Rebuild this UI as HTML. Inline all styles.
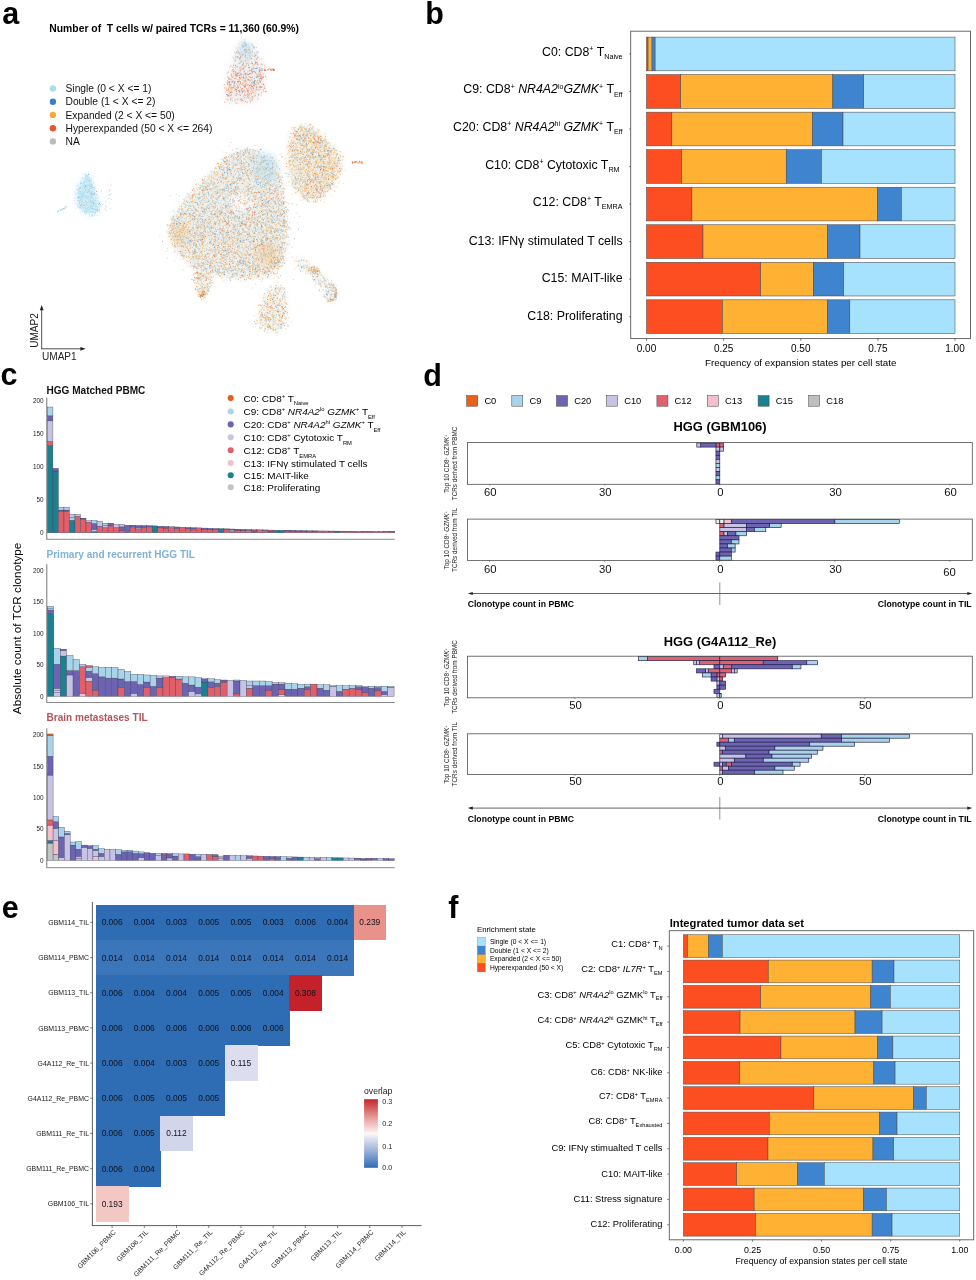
<!DOCTYPE html>
<html><head><meta charset="utf-8"><title>Figure</title>
<style>html,body{margin:0;padding:0;background:#fff}svg{display:block}text{font-family:"Liberation Sans",Arial,sans-serif}</style>
</head><body>
<svg width="976" height="1280" viewBox="0 0 976 1280">
<rect width="976" height="1280" fill="#fff"/>
<g>
<text x="2.20" y="23.50" font-size="30.50" font-weight="bold">a</text>
<text x="49.30" y="31.80" font-size="10.36" font-weight="bold" xml:space="preserve" style="white-space:pre">Number of  T cells w/ paired TCRs = 11,360 (60.9%)</text>
<circle cx="52.9" cy="88.5" r="3.2" fill="#A9DDF1"/>
<text x="65.50" y="92.20" font-size="10.28" fill="#111">Single (0 &lt; X &lt;= 1)</text>
<circle cx="52.9" cy="101.7" r="3.2" fill="#3B80C5"/>
<text x="65.50" y="105.42" font-size="10.28" fill="#111">Double (1 &lt; X &lt;= 2)</text>
<circle cx="52.9" cy="114.9" r="3.2" fill="#F5AA3C"/>
<text x="65.50" y="118.64" font-size="10.28" fill="#111">Expanded (2 &lt; X &lt;= 50)</text>
<circle cx="52.9" cy="128.2" r="3.2" fill="#E9522B"/>
<text x="65.50" y="131.86" font-size="10.28" fill="#111">Hyperexpanded (50 &lt; X &lt;= 264)</text>
<circle cx="52.9" cy="141.4" r="3.2" fill="#B9BDBD"/>
<text x="65.50" y="145.08" font-size="10.28" fill="#111">NA</text>
<line x1="41.70" y1="308.00" x2="41.70" y2="348.80" stroke="#222" stroke-width="0.8"/>
<line x1="41.30" y1="348.80" x2="82.00" y2="348.80" stroke="#222" stroke-width="0.8"/>
<path d="M41.7 305 l-1.9 5.2 h3.8z M85.6 348.8 l-5.2 -1.9 v3.8z" fill="#222"/>
<text x="42.00" y="359.80" font-size="10.07" fill="#222">UMAP1</text>
<text x="37.90" y="347.80" font-size="10.07" fill="#222" transform="rotate(-90 37.90 347.80)">UMAP2</text>
<defs><filter id="bl" x="-20%" y="-20%" width="140%" height="140%"><feGaussianBlur stdDeviation="3.2"/></filter></defs>
<g filter="url(#bl)"><polygon points="246.0,148.0 262.0,152.0 278.0,165.0 283.0,187.0 287.5,222.0 286.0,250.0 281.0,267.0 268.0,276.0 240.0,279.0 217.0,276.0 194.0,269.0 176.0,250.0 168.5,233.0 172.0,217.0 186.0,199.0 208.0,175.0 230.0,154.0" fill="#D8D4C6" opacity="0.36"/><polygon points="305.6,125.0 321.0,135.0 333.5,147.0 341.5,158.5 340.0,172.0 333.5,186.0 321.0,198.5 305.6,200.0 293.0,188.5 286.5,162.0 289.5,141.0 294.0,128.5" fill="#E3D2B4" opacity="0.38"/><polygon points="243.7,40.0 250.0,43.0 256.0,48.0 258.0,56.0 264.0,67.0 266.0,79.0 264.0,94.0 252.0,103.0 229.0,103.0 224.0,95.0 227.0,82.0 230.0,72.0 234.0,55.0 238.0,46.0" fill="#E0C8C4" opacity="0.3"/><polygon points="88.5,174.0 92.0,180.0 96.0,195.0 100.0,207.0 97.0,213.0 90.0,215.5 83.0,212.0 77.0,203.0 76.0,192.0 80.0,183.0 85.0,176.0" fill="#BFE3F2" opacity="0.55"/><polygon points="194.0,270.0 212.0,274.0 212.0,284.0 208.0,293.0 203.0,299.0 198.0,294.0 195.0,284.0" fill="#E3D2B4" opacity="0.28"/><polygon points="277.0,284.0 285.0,290.0 287.0,310.0 286.0,325.0 276.0,333.0 262.0,330.0 256.0,320.0 260.0,305.0 270.0,290.0" fill="#E3D2B4" opacity="0.25"/><polygon points="294.0,258.0 303.0,259.0 316.0,267.0 322.0,274.0 333.0,282.0 338.0,290.0 337.0,299.0 330.0,303.0 324.0,297.0 318.0,285.0 308.0,275.0 297.0,266.0" fill="#DAD6CC" opacity="0.22"/><ellipse cx="245" cy="50" rx="8" ry="8" fill="#BFE0F0" opacity="0.55"/><ellipse cx="266" cy="168" rx="12" ry="16" fill="#BFE0F0" opacity="0.55"/><ellipse cx="241" cy="203" rx="10" ry="9" fill="#fff" opacity="0.7"/><ellipse cx="268" cy="254" rx="12" ry="12" fill="#F2C78C" opacity="0.4"/><ellipse cx="180" cy="235" rx="9" ry="14" fill="#F2C78C" opacity="0.35"/></g>
<path d="M177.9 227.8h0M197.2 210.5h0M263.7 211.1h0M227.3 212.2h0M219.5 179.6h0M277.6 268.2h0M225.4 208.1h0M252.1 187.8h0M245.1 202.8h0M190.0 214.5h0M192.9 242.9h0M264.7 195.3h0M217.2 265.9h0M202.6 265.5h0M203.2 216.5h0M219.2 196.6h0M190.2 199.8h0M240.9 234.4h0M259.2 264.5h0M210.9 181.2h0M193.9 257.4h0M270.2 187.4h0M201.4 239.9h0M194.2 235.9h0M231.8 238.4h0M214.7 233.1h0M239.7 206.8h0M237.5 157.6h0M211.5 197.9h0M210.9 217.6h0M226.1 205.3h0M234.1 237.6h0M281.6 253.7h0M267.1 209.8h0M198.9 260.1h0M210.0 243.3h0M234.5 241.3h0M250.0 231.0h0M207.7 227.3h0M196.9 258.0h0M217.4 174.2h0M247.9 170.5h0M270.8 227.2h0M273.0 206.2h0M233.2 227.8h0M219.3 225.0h0M268.7 170.4h0M211.0 226.7h0M261.7 193.8h0M232.9 167.8h0M239.4 240.6h0M209.9 208.5h0M257.1 255.5h0M233.1 163.1h0M248.5 175.7h0M236.0 247.3h0M249.7 219.7h0M243.9 230.6h0M259.8 234.6h0M226.1 238.9h0M229.6 154.7h0M270.2 219.3h0M217.2 253.6h0M211.4 211.6h0M178.7 212.2h0M270.8 211.1h0M275.7 188.8h0M183.0 221.4h0M218.9 265.7h0M214.1 255.9h0M249.9 173.8h0M224.6 199.0h0M254.0 228.1h0M265.5 272.1h0M232.9 245.6h0M271.8 262.3h0M189.6 214.7h0M271.0 259.6h0M274.5 191.9h0M258.0 205.6h0M249.0 152.0h0M213.9 260.9h0M228.4 218.9h0M192.5 233.7h0M287.0 237.0h0M193.0 213.4h0M264.6 199.8h0M224.7 272.0h0M226.0 156.6h0M277.2 178.8h0M205.2 232.6h0M261.2 206.3h0M214.2 266.4h0M269.3 205.8h0M224.4 157.9h0M262.8 222.9h0M255.8 272.0h0M207.3 226.4h0M218.8 253.4h0M279.8 247.9h0M203.1 183.6h0M254.7 236.3h0M185.8 230.2h0M215.6 238.0h0M268.5 243.8h0M217.1 175.5h0M253.7 168.8h0M239.9 168.8h0M248.2 257.8h0M206.2 208.1h0M262.3 271.7h0M281.9 209.8h0M244.0 205.3h0M283.4 188.3h0M215.3 204.6h0M227.8 197.9h0M203.6 225.6h0M235.3 269.4h0M227.6 241.2h0M196.9 259.8h0M201.9 242.0h0M261.0 162.5h0M216.5 262.5h0M262.4 205.9h0M246.4 246.8h0M232.2 276.0h0M230.9 250.0h0M180.4 214.5h0M237.4 169.0h0M254.8 192.4h0M265.9 237.5h0M214.0 194.2h0M192.9 201.7h0M226.7 194.7h0M239.9 233.8h0M249.1 222.2h0M265.7 240.2h0M247.2 247.9h0M176.9 223.6h0M225.4 215.3h0M249.8 271.7h0M214.2 203.3h0M229.0 244.7h0M235.1 226.2h0M212.8 189.0h0M264.4 252.6h0M262.4 186.9h0M173.6 217.7h0M239.8 197.0h0M276.5 224.5h0M256.2 187.5h0M245.4 224.9h0M182.1 210.0h0M228.6 188.6h0M274.1 202.3h0M271.5 267.2h0M262.7 158.2h0M214.1 174.2h0M233.2 256.9h0M281.4 201.9h0M214.8 266.5h0M196.5 215.0h0M254.8 152.0h0M287.4 244.1h0M214.7 252.2h0M272.1 271.3h0M209.5 224.4h0M273.6 211.4h0M228.1 203.9h0M183.3 237.1h0M230.4 185.6h0M189.7 244.3h0M242.7 241.2h0M196.9 225.6h0M183.7 226.3h0M227.7 253.8h0M259.4 192.1h0M174.5 251.7h0M233.3 224.9h0M261.4 226.5h0M283.9 202.9h0M238.8 211.1h0M243.3 230.2h0M192.1 247.7h0M270.1 238.3h0M272.5 186.5h0M223.4 160.6h0M182.0 217.2h0M248.0 247.8h0M200.1 227.5h0M190.8 259.4h0M271.5 173.1h0M225.5 254.9h0M270.9 273.3h0M267.5 246.6h0M224.3 198.2h0M227.8 243.9h0M235.8 258.3h0M227.2 230.4h0M203.0 191.8h0M205.2 231.4h0M169.7 236.6h0M202.1 253.8h0M228.0 253.1h0M235.8 174.2h0M190.7 208.4h0M256.3 260.8h0M183.1 258.8h0M172.0 228.7h0M247.7 237.2h0M267.0 164.5h0M264.4 204.7h0M273.9 194.0h0M221.5 182.1h0M232.0 268.5h0M189.6 240.5h0M268.1 218.2h0M207.9 206.1h0M268.9 188.3h0M278.7 259.3h0M224.9 167.8h0M181.7 241.3h0M240.4 158.2h0M238.4 176.0h0M228.2 248.0h0M242.3 257.2h0M182.1 243.0h0M182.1 231.9h0M206.4 223.0h0M244.1 240.6h0M256.5 246.4h0M278.5 209.3h0M240.4 165.3h0M248.2 176.9h0M211.8 263.0h0M280.5 238.8h0M211.2 213.2h0M213.6 233.8h0M224.9 255.3h0M271.2 199.0h0M261.5 225.0h0M260.2 221.3h0M262.9 242.4h0M271.3 266.8h0M273.9 211.0h0M214.9 239.4h0M277.5 246.7h0M223.3 255.2h0M243.9 158.6h0M177.6 211.6h0M205.4 255.5h0M228.7 186.9h0M247.7 253.5h0M206.6 272.0h0M270.8 236.6h0M177.6 226.5h0M174.6 220.9h0M266.7 234.9h0M245.0 204.0h0M231.8 252.8h0M228.2 228.0h0M244.1 274.7h0M177.1 220.1h0M226.2 190.6h0M240.7 242.4h0M254.9 212.2h0M220.2 166.3h0M237.4 233.5h0M249.0 265.7h0M229.7 207.8h0M271.9 185.4h0M195.5 202.5h0M201.9 244.2h0M217.9 249.6h0M178.0 246.3h0M271.8 214.2h0M283.8 203.8h0M277.1 238.1h0M205.1 209.2h0M245.4 261.3h0M223.6 204.7h0M257.0 208.6h0M232.2 229.6h0M218.8 197.9h0M213.7 178.3h0M208.7 262.5h0M272.3 246.6h0M193.9 236.7h0M210.8 180.0h0M267.4 218.2h0M235.9 224.8h0M233.3 218.5h0M280.0 204.7h0M272.9 165.3h0M192.8 263.2h0M226.2 260.8h0M237.2 264.1h0M227.5 244.3h0M180.9 252.3h0M280.5 233.0h0M227.3 169.2h0M258.5 232.6h0M245.8 232.1h0M237.8 177.7h0M204.1 200.7h0M243.5 276.8h0M218.7 177.4h0M257.3 204.9h0M231.1 215.0h0M283.2 237.6h0M241.6 163.1h0M221.2 164.2h0M213.2 272.2h0M243.4 229.2h0M247.0 233.7h0M261.6 164.0h0M208.2 217.6h0M252.8 155.0h0M230.4 203.2h0M206.7 206.4h0M255.6 250.0h0M280.0 205.5h0M191.2 235.0h0M225.9 269.8h0M207.6 186.4h0M261.8 227.1h0M239.8 175.1h0M267.6 219.0h0M213.2 219.3h0M262.4 185.0h0M202.1 259.5h0M220.9 182.8h0M213.0 232.6h0M281.1 209.8h0M239.0 178.6h0M268.5 201.1h0M235.9 239.0h0M183.4 225.3h0M231.2 252.1h0M241.5 169.6h0M189.4 257.7h0M178.3 235.6h0M204.1 220.5h0M188.0 237.2h0M242.6 169.4h0M201.2 225.0h0M226.6 157.3h0M249.0 194.6h0M242.1 254.3h0M223.7 197.8h0M274.7 191.1h0M223.3 234.0h0M207.5 207.7h0M279.1 249.8h0M211.5 171.8h0M218.8 217.2h0M275.6 229.7h0M195.8 245.4h0M244.1 169.4h0M236.3 243.3h0M221.2 210.3h0M277.1 177.3h0M223.1 169.8h0M243.9 250.2h0M255.9 228.8h0M252.6 272.8h0M282.5 245.7h0M264.1 196.1h0M235.6 266.7h0M284.6 216.1h0M180.8 217.6h0M232.0 168.1h0M229.7 222.1h0M205.1 209.3h0M189.1 196.7h0M209.0 226.5h0M265.6 160.1h0M205.4 231.6h0M276.9 237.4h0M191.6 235.9h0M262.4 218.0h0M203.2 269.2h0M194.4 254.4h0M217.4 218.1h0M222.2 169.5h0M248.0 176.5h0M258.9 270.1h0M204.7 211.5h0M207.1 249.3h0M254.1 236.2h0M266.5 220.9h0M258.4 153.1h0M272.1 222.7h0M239.3 174.1h0M200.9 187.4h0M245.0 163.9h0M170.8 235.8h0M235.4 165.5h0M187.3 248.5h0M206.6 194.2h0M271.6 260.6h0M280.2 262.7h0M270.2 268.2h0M260.6 164.6h0M225.5 203.6h0M202.3 263.4h0M270.8 215.0h0M270.9 211.1h0M278.8 177.5h0M225.5 235.1h0M222.5 221.6h0M205.7 212.8h0M222.3 234.8h0M278.2 178.6h0M193.8 256.6h0M281.8 198.1h0M234.2 238.6h0M254.4 225.7h0M226.8 197.4h0M178.0 221.7h0M237.2 194.8h0M189.9 208.5h0M260.7 206.4h0M275.3 172.5h0M202.6 185.9h0M233.2 158.9h0M213.8 196.4h0M236.8 218.0h0M209.7 228.7h0M279.8 220.3h0M211.5 190.9h0M237.8 254.5h0M198.5 241.6h0M219.8 227.5h0M181.4 209.3h0M238.2 279.1h0M225.4 242.7h0M221.0 256.7h0M203.8 265.9h0M203.5 259.4h0M196.9 222.6h0M275.9 266.3h0M274.8 265.2h0M215.4 254.5h0M267.3 230.6h0M271.5 265.9h0M219.4 221.3h0M180.2 245.7h0M221.4 234.1h0M242.0 268.3h0M282.1 237.1h0M212.2 269.0h0M267.1 224.4h0M170.3 226.8h0M224.1 251.9h0M209.3 189.0h0M266.1 272.1h0M228.3 240.3h0M208.3 223.6h0M270.1 226.5h0M262.3 178.6h0M215.1 265.6h0M220.2 219.8h0M249.9 225.2h0M278.4 262.8h0M233.4 212.2h0M238.6 171.6h0M209.5 229.4h0M227.4 184.1h0M229.7 249.1h0M268.0 269.4h0M243.7 272.5h0M259.2 188.8h0M182.7 224.8h0M233.6 163.4h0M233.5 273.7h0M260.1 185.3h0M208.4 186.5h0M277.8 186.5h0M219.8 221.1h0M187.9 231.2h0M264.2 233.2h0M189.1 210.8h0M203.6 237.1h0M230.4 173.0h0M212.5 214.3h0M276.7 220.5h0M252.2 278.1h0M255.1 273.2h0M191.9 265.7h0M229.8 206.7h0M188.8 221.5h0M261.2 200.3h0M221.7 254.1h0M234.7 266.9h0M238.2 200.7h0M244.5 242.5h0M215.8 236.4h0M283.5 248.5h0M273.0 184.3h0M254.2 251.6h0M280.4 212.2h0M182.9 253.6h0M180.4 237.8h0M267.0 210.0h0M190.7 224.2h0M184.1 253.1h0M208.6 208.6h0M271.3 248.7h0M242.6 265.6h0M203.3 263.6h0M243.4 242.5h0M195.5 251.1h0M205.9 220.8h0M203.8 234.9h0M259.0 210.2h0M270.7 189.6h0M248.9 164.3h0M174.5 219.8h0M199.9 239.3h0M239.2 164.1h0M219.7 228.8h0M271.0 189.9h0M220.1 202.9h0M200.0 226.6h0M257.6 239.6h0M236.3 192.9h0M261.8 162.4h0M210.8 198.4h0M234.5 220.1h0M237.6 216.6h0M211.6 229.1h0M262.0 194.3h0M261.7 261.4h0M259.4 164.3h0M249.3 234.0h0M286.5 212.1h0M265.6 178.5h0M259.1 249.2h0M209.7 210.2h0M213.0 200.6h0M262.9 222.4h0M241.8 190.0h0M216.3 202.2h0M226.4 233.5h0M203.5 195.1h0M234.5 217.4h0M245.0 276.6h0M278.7 187.6h0M214.7 172.4h0M287.7 234.8h0M276.4 235.1h0M267.1 232.1h0M240.2 154.1h0M258.6 265.8h0M229.8 261.6h0M235.0 237.6h0M252.3 211.4h0M267.9 245.9h0M188.0 201.5h0M193.2 219.7h0M271.4 259.2h0M255.6 218.4h0M254.9 207.1h0M259.5 233.0h0M252.9 240.6h0M267.3 164.6h0M258.8 252.3h0M220.9 275.6h0M276.6 187.4h0M263.2 207.4h0M258.4 203.1h0M194.0 229.1h0M199.5 244.1h0M223.7 221.9h0M241.9 183.7h0M230.9 231.7h0M193.3 253.2h0M283.5 192.9h0M248.8 166.1h0M224.0 258.3h0M256.9 192.9h0M201.0 253.0h0M245.7 224.9h0M193.5 222.9h0M283.5 222.8h0M227.0 224.3h0M213.2 171.6h0M249.2 188.3h0M185.6 213.6h0M220.5 195.7h0M174.7 241.4h0M223.9 198.1h0M237.0 154.4h0M215.3 213.5h0M260.8 199.4h0M248.0 190.2h0M257.8 271.0h0M254.7 216.1h0M204.0 194.5h0M229.8 237.6h0M204.0 180.2h0M221.9 212.0h0M225.2 225.1h0M286.8 223.1h0M227.8 209.2h0M281.2 256.3h0M210.5 265.3h0M275.5 243.0h0M262.4 231.1h0M263.4 232.3h0M257.0 271.9h0M257.1 167.9h0M222.4 228.1h0M176.4 230.0h0M276.9 166.1h0M261.1 226.3h0M267.6 207.6h0M199.4 220.0h0M255.6 179.4h0M230.1 184.8h0M214.6 241.6h0M202.5 248.4h0M220.2 222.9h0M271.8 219.9h0M245.3 191.1h0M230.9 206.3h0M235.0 164.0h0M278.8 206.7h0M211.6 240.8h0M233.3 266.3h0M204.9 190.1h0M228.6 251.2h0M237.4 253.1h0M216.8 193.4h0M255.4 220.3h0M202.2 263.1h0M253.0 267.1h0M187.7 193.5h0M238.4 155.2h0M229.8 248.6h0M256.4 259.3h0M221.9 211.2h0M271.4 211.8h0M230.4 267.5h0M172.3 229.3h0M284.1 201.4h0M245.9 156.7h0M184.6 213.4h0M222.9 208.2h0M283.8 225.9h0M234.0 155.1h0M233.7 179.1h0M210.6 263.8h0M252.9 256.5h0M192.5 250.6h0M206.9 254.5h0M262.7 240.5h0M248.3 154.1h0M192.4 257.3h0M249.1 188.6h0M254.0 157.8h0M250.4 209.1h0M276.5 203.9h0M262.6 259.9h0M259.7 244.5h0M226.1 237.7h0M224.1 174.9h0M250.1 173.5h0M192.6 251.1h0M249.3 205.8h0M271.3 193.2h0M204.5 238.3h0M261.6 225.8h0M212.8 260.3h0M247.6 170.9h0M269.7 190.9h0M194.2 218.9h0M203.6 214.2h0M236.9 171.8h0M245.3 238.6h0M253.4 155.9h0M245.8 263.5h0M247.5 213.8h0M249.0 189.1h0M194.8 213.3h0M258.6 245.4h0M242.4 232.2h0M201.2 256.2h0M270.4 171.9h0M218.7 266.2h0M235.6 252.4h0M283.4 259.2h0M267.5 215.0h0M245.0 247.7h0M221.6 231.8h0M202.8 207.5h0M178.1 236.6h0M274.5 180.6h0M281.6 197.7h0M265.7 189.5h0M272.4 243.4h0M238.4 268.0h0M200.8 218.8h0M191.7 201.6h0M277.7 265.3h0M240.4 153.2h0M278.7 202.0h0M253.0 223.7h0M183.4 230.5h0M195.6 250.1h0M239.7 180.5h0M192.9 254.2h0M199.3 197.6h0M215.4 228.7h0M254.8 156.2h0M194.8 266.9h0M219.6 189.2h0M229.7 264.4h0M249.1 164.7h0M200.5 235.5h0M248.2 277.5h0M257.4 241.2h0M221.5 213.9h0M250.3 181.0h0M204.1 181.9h0M238.8 220.7h0M241.6 235.2h0M276.0 195.3h0M242.2 247.5h0M219.0 250.8h0M224.9 172.5h0M252.3 236.5h0M170.3 225.2h0M218.2 239.8h0M248.5 212.2h0M221.4 253.3h0M224.3 267.6h0M263.0 237.7h0M204.1 228.9h0M220.7 165.0h0M234.3 258.0h0M219.2 192.3h0M272.5 168.7h0M245.4 236.7h0M281.3 194.5h0M254.9 274.2h0M175.1 246.7h0M260.1 192.2h0M261.8 243.7h0M251.0 161.0h0M174.2 221.9h0M195.5 245.9h0M184.7 199.9h0M228.3 219.6h0M212.7 244.8h0M214.9 234.5h0M202.6 211.6h0M254.3 218.4h0M250.3 207.8h0M198.7 225.5h0M187.7 210.4h0M227.7 271.2h0M254.0 221.5h0M283.4 211.3h0M245.6 195.8h0M266.0 254.5h0M205.1 186.5h0M280.8 205.4h0M200.0 225.0h0M259.4 169.0h0M214.9 247.8h0M191.2 201.8h0M245.5 274.0h0M199.8 245.4h0M182.4 213.7h0M241.2 168.0h0M256.3 259.7h0M224.9 205.1h0M222.7 272.4h0M249.9 262.8h0M201.8 235.7h0M185.5 231.7h0M262.3 173.7h0M222.6 207.6h0M226.7 256.6h0M181.3 246.2h0M233.3 277.1h0M233.8 270.3h0M257.2 225.9h0M224.8 242.0h0M202.4 224.1h0M240.6 177.2h0M230.2 218.4h0M235.5 165.4h0M199.7 198.9h0M234.4 217.1h0M256.0 181.8h0M183.7 226.8h0M245.4 259.9h0M264.0 209.8h0M181.6 213.9h0M279.4 253.3h0M194.7 262.0h0M219.2 210.4h0M210.0 268.6h0M195.5 253.4h0M216.7 256.0h0M204.6 230.1h0M238.7 152.8h0M210.7 243.1h0M211.9 211.5h0M193.2 259.9h0M200.3 245.8h0M220.9 180.7h0M284.6 188.4h0M246.2 245.8h0M267.4 247.2h0M187.8 249.4h0M192.8 194.9h0M248.0 175.5h0M224.0 198.3h0M239.5 255.5h0M268.6 218.1h0M252.8 264.3h0M268.7 253.7h0M218.0 243.2h0M228.4 163.8h0M275.7 204.3h0M223.6 217.4h0M211.7 211.6h0M267.3 250.3h0M239.7 224.0h0M229.4 268.5h0M256.3 267.6h0M221.2 209.9h0M278.9 177.6h0M275.3 273.9h0M243.6 217.4h0M256.5 172.4h0M172.2 234.8h0M252.1 236.7h0M276.0 238.7h0M281.2 180.8h0M190.2 261.1h0M216.0 271.5h0M274.9 180.6h0M255.4 269.2h0M196.2 224.2h0M194.9 259.0h0M234.7 219.1h0M209.8 200.8h0M265.7 225.2h0M224.9 218.0h0M218.8 261.9h0M253.5 166.7h0M237.8 238.3h0M270.4 232.1h0M194.6 250.5h0M181.7 214.3h0M219.6 221.9h0M264.7 160.4h0M195.3 263.6h0M171.2 239.4h0M224.8 269.9h0M275.9 218.3h0M196.9 233.2h0M199.7 234.7h0M255.7 255.3h0M232.3 161.0h0M255.0 196.0h0M260.7 182.7h0M268.3 249.2h0M218.4 269.8h0M277.3 194.2h0M278.4 232.5h0M239.2 178.3h0M229.9 236.3h0M283.5 197.9h0M198.1 219.2h0M226.4 227.2h0M228.0 195.1h0M250.8 243.6h0M274.1 212.2h0M250.5 226.5h0M222.8 196.5h0M227.4 250.1h0M220.1 177.5h0M223.0 212.8h0M236.6 181.2h0M248.4 259.7h0M223.7 255.8h0M259.0 202.1h0M196.1 251.9h0M249.8 157.5h0M253.3 186.3h0M264.1 195.6h0M261.7 257.5h0M230.8 241.8h0M282.4 247.5h0M238.1 231.0h0M208.0 207.9h0M194.4 249.3h0M210.1 253.7h0M217.6 189.7h0M244.9 194.2h0M230.5 270.1h0M253.1 177.2h0M226.5 250.9h0M265.9 254.8h0M263.2 178.1h0M255.1 261.3h0M257.6 263.0h0M262.9 248.8h0M210.3 222.4h0M225.0 246.5h0M233.7 252.5h0M258.6 249.4h0M176.5 221.6h0M242.6 203.5h0M211.5 177.1h0M202.7 192.5h0M212.1 216.3h0M240.1 257.0h0M267.6 215.0h0M256.5 180.2h0M233.0 248.2h0M282.1 255.1h0M246.6 172.5h0M218.2 172.1h0M262.7 210.1h0M221.1 214.9h0M194.1 188.4h0M218.6 252.4h0M223.3 190.9h0M235.7 192.7h0M288.4 237.3h0M244.1 239.7h0M190.0 248.1h0M266.0 203.8h0M207.8 211.9h0M233.4 225.1h0M284.3 235.6h0M234.7 275.8h0M210.0 268.6h0M246.3 266.3h0M177.3 237.9h0M188.5 227.5h0M255.4 274.3h0M213.9 254.8h0M227.0 172.6h0M209.3 244.1h0M177.6 241.3h0M245.2 269.5h0M197.8 241.5h0M237.1 253.0h0M241.1 225.3h0M248.6 210.3h0M204.7 251.4h0M258.6 151.7h0M207.7 202.6h0M178.2 227.3h0M237.4 198.4h0M199.0 256.1h0M173.4 236.2h0M258.0 174.9h0M199.7 201.3h0M276.0 220.6h0M257.1 203.8h0M220.2 259.5h0M228.0 174.1h0M236.7 221.7h0M222.3 249.5h0M201.3 236.9h0M225.8 177.9h0M204.9 208.7h0M237.1 193.7h0M181.2 246.3h0M241.9 277.3h0M221.6 259.4h0M243.1 248.9h0M223.9 260.9h0M275.3 178.6h0M244.3 203.9h0M261.7 203.1h0M278.7 207.7h0M178.4 225.7h0M224.9 250.5h0M222.1 255.8h0M201.6 233.1h0M267.0 277.8h0M229.0 176.2h0M282.4 242.5h0M232.2 179.4h0M254.5 239.7h0M266.5 212.8h0M231.9 217.3h0M217.6 247.3h0M191.8 215.0h0M203.4 190.8h0M200.2 233.0h0M251.8 209.0h0M212.5 272.1h0M214.3 241.5h0M245.5 152.3h0M225.0 193.9h0M214.0 222.1h0M174.6 225.1h0M254.5 186.3h0M251.2 172.3h0M279.3 181.6h0M279.5 181.3h0M264.5 218.5h0M269.4 232.6h0M237.5 261.1h0M245.4 255.0h0M215.3 211.7h0M267.6 164.6h0M189.0 240.7h0M181.5 255.6h0M199.3 194.6h0M270.0 212.1h0M174.7 243.5h0M270.8 228.4h0M288.5 210.6h0M210.9 259.4h0M228.1 235.8h0M276.1 263.8h0M263.6 202.5h0M254.4 247.8h0M211.1 223.1h0M248.4 246.4h0M189.7 237.4h0M285.2 242.5h0M192.0 215.3h0M260.0 257.1h0M226.7 167.7h0M256.7 179.4h0M252.6 149.8h0M237.8 239.6h0M173.0 216.5h0M241.9 233.3h0M215.5 176.0h0M239.6 234.1h0M266.6 156.6h0M246.3 221.0h0M285.1 222.5h0M247.6 252.1h0M224.8 231.4h0M269.4 254.4h0M211.4 220.3h0M272.3 249.4h0M262.5 232.6h0M267.8 180.7h0M216.5 254.9h0M238.9 201.3h0M230.2 203.7h0M186.3 211.3h0M266.9 260.5h0M256.5 247.8h0M232.9 182.1h0M280.7 191.3h0M228.1 203.3h0M244.1 220.9h0M249.8 266.3h0M207.2 215.6h0M241.3 168.4h0M251.0 175.9h0M184.8 207.1h0M167.8 224.7h0M208.4 235.0h0M255.9 150.7h0M250.0 224.7h0M242.3 223.7h0M243.3 237.4h0M272.6 174.1h0M225.8 158.1h0M238.5 254.6h0M193.3 265.8h0M280.2 252.1h0M225.0 178.3h0M237.3 275.5h0M208.6 216.2h0M243.1 255.6h0M211.4 214.6h0M246.4 175.0h0M221.0 206.8h0M231.4 230.8h0M266.9 243.6h0M194.3 212.7h0M183.7 236.0h0M230.3 217.2h0M249.2 262.9h0M253.8 153.4h0M242.5 220.2h0M259.0 267.7h0M276.3 174.6h0M232.7 199.9h0M240.4 150.1h0M239.4 223.8h0M236.7 194.9h0M233.2 199.3h0M263.6 219.6h0M276.1 230.4h0M222.7 236.5h0M273.9 162.9h0M272.6 165.9h0M253.8 249.5h0M213.9 183.4h0M257.0 181.6h0M233.7 176.5h0M236.6 187.6h0M240.1 225.5h0M198.0 255.6h0M283.7 220.2h0M205.0 190.2h0M200.5 202.9h0M259.5 213.8h0M250.7 184.3h0M264.5 206.2h0M271.7 203.9h0M264.3 253.4h0M239.5 217.0h0M238.1 254.8h0M261.0 196.1h0M232.5 155.5h0M228.8 237.8h0M241.1 201.8h0M197.9 211.5h0M215.3 187.2h0M232.8 167.8h0M254.5 227.9h0M189.4 233.6h0M268.0 206.2h0M191.7 210.4h0M237.8 226.2h0M258.4 277.2h0M269.5 191.7h0M239.3 191.1h0M268.6 264.2h0M247.7 189.1h0M171.5 238.6h0M274.3 215.9h0M251.3 240.9h0M243.8 275.9h0M240.8 238.1h0M185.0 212.7h0M236.2 159.0h0M261.3 255.8h0M200.6 229.1h0M229.0 273.5h0M227.4 166.7h0M232.9 165.7h0M244.7 203.8h0M198.4 218.7h0M180.1 225.2h0M273.7 235.5h0M253.8 158.8h0M203.0 182.9h0M270.7 267.0h0M224.1 219.3h0M233.9 190.9h0M285.4 231.3h0M205.7 228.7h0M213.4 243.4h0M181.9 208.6h0M197.7 271.8h0M275.0 212.2h0M266.8 239.1h0M215.4 269.9h0M214.5 255.5h0M173.8 211.3h0M281.9 215.4h0M273.1 186.2h0M226.0 152.5h0M180.6 213.1h0M252.7 214.0h0M244.2 260.6h0M242.8 211.8h0M258.5 177.6h0M267.1 238.3h0M271.3 230.6h0M255.6 188.8h0M274.5 230.8h0M209.5 188.8h0M221.8 257.6h0M244.3 154.8h0M234.6 256.5h0M241.0 156.3h0M232.5 190.0h0M212.6 200.8h0M234.5 245.1h0M262.3 258.3h0M255.6 236.8h0M227.7 184.6h0M193.6 195.5h0M273.2 250.3h0M257.3 223.8h0M235.7 216.8h0M279.6 214.9h0M272.1 192.7h0M248.4 190.9h0M220.4 232.9h0M227.9 193.2h0M213.5 226.1h0M213.3 276.7h0M279.7 260.1h0M275.4 238.0h0M200.4 233.6h0M200.5 214.0h0M250.1 238.3h0M191.8 202.4h0M211.2 239.3h0M194.0 242.6h0M204.7 224.1h0M208.2 232.7h0M252.9 256.3h0M278.6 192.8h0M246.6 203.4h0M232.3 183.9h0M192.2 252.9h0M184.1 258.2h0M288.6 227.1h0M267.7 202.0h0M196.6 247.2h0M253.8 262.6h0M261.2 208.3h0M278.3 229.5h0M198.8 227.2h0M244.4 254.3h0M253.4 238.1h0M259.9 182.9h0M222.9 190.8h0M218.9 166.7h0M240.3 151.7h0M278.5 212.9h0M191.9 258.2h0M244.9 235.5h0M255.0 158.2h0M184.4 201.1h0M184.6 255.7h0M254.3 226.8h0M219.1 252.1h0M228.2 168.4h0M260.6 269.2h0M243.7 260.3h0M258.0 235.0h0M257.5 217.4h0M258.0 168.3h0M209.4 216.9h0M193.4 201.7h0M186.8 205.2h0M204.4 212.3h0M255.6 150.6h0M214.8 231.5h0M287.4 224.5h0M263.0 274.3h0M233.8 159.7h0M248.5 254.2h0M196.7 268.1h0M263.8 222.7h0M226.9 242.6h0M242.1 225.4h0M224.0 172.1h0M243.4 264.4h0M254.0 244.5h0M277.6 193.2h0M239.1 246.9h0M231.3 261.0h0M197.6 233.2h0M231.3 214.5h0M199.8 249.3h0M202.4 221.7h0M210.8 242.4h0M259.9 250.6h0M236.5 183.9h0M190.0 198.0h0M228.5 168.5h0M213.5 244.7h0M257.8 217.0h0M225.0 250.0h0M271.6 255.4h0M260.9 240.9h0M248.0 217.3h0M217.5 209.5h0M213.2 185.4h0M223.6 257.5h0M260.9 244.8h0M285.0 225.9h0M239.9 242.7h0M231.8 181.3h0M270.5 266.5h0M274.3 251.4h0M206.5 210.6h0M203.3 186.4h0M171.8 219.5h0M275.9 237.7h0M222.9 250.5h0M280.9 214.8h0M217.4 245.5h0M284.4 221.6h0M186.6 257.4h0M247.0 190.1h0M282.5 226.2h0M224.0 265.0h0M237.7 153.6h0M187.4 224.5h0M259.7 239.3h0M289.7 222.7h0M201.7 244.4h0M221.0 159.2h0M281.2 225.8h0M274.6 222.1h0M204.4 259.4h0M243.7 232.1h0M248.4 220.3h0M283.6 203.0h0M276.0 263.1h0M257.1 179.5h0M278.1 269.6h0M218.2 274.4h0M277.7 259.0h0M269.3 211.3h0M267.2 164.8h0M253.9 160.8h0M208.8 227.8h0M248.4 218.0h0M200.1 187.6h0M220.2 225.7h0M286.6 221.1h0M242.0 260.0h0M201.3 220.1h0M226.8 205.5h0M248.8 194.2h0M238.0 242.1h0M270.8 249.8h0M218.3 247.0h0M234.8 219.9h0M264.0 192.1h0M195.3 249.1h0M242.5 224.2h0M202.7 182.9h0M281.6 203.6h0M209.9 263.2h0M261.2 243.3h0M221.8 230.4h0M220.8 212.4h0M268.2 165.2h0M263.8 160.7h0M251.6 192.7h0M244.7 167.8h0M267.1 273.8h0M227.3 264.4h0M213.8 255.7h0M177.2 214.6h0M236.9 208.7h0M271.8 207.7h0M233.3 262.3h0M207.3 192.3h0M260.3 253.3h0M244.5 220.9h0M223.9 194.0h0M225.8 240.4h0M212.0 260.8h0M222.2 193.9h0M180.5 214.3h0M177.3 232.7h0M264.7 179.4h0M274.8 240.1h0M175.2 236.7h0M198.7 263.8h0M256.6 168.9h0M219.8 166.5h0M201.7 267.6h0M282.0 214.3h0M171.1 230.4h0M239.1 256.4h0M206.5 270.2h0M204.9 268.5h0M282.4 263.0h0M279.2 204.8h0M231.1 261.7h0M248.0 252.4h0M229.8 226.3h0M174.7 239.3h0M208.9 205.3h0M242.1 199.0h0M235.9 273.5h0M268.8 208.8h0M282.6 191.6h0M192.4 235.9h0M256.1 223.0h0M219.8 233.8h0M259.9 212.1h0M213.3 223.9h0M250.9 224.5h0M233.0 168.1h0M248.2 212.0h0M218.0 245.3h0M219.8 272.5h0M227.5 234.6h0M283.2 194.0h0M242.5 241.8h0M225.4 242.8h0M174.3 219.0h0M230.4 174.4h0M217.4 269.7h0M271.1 222.4h0M276.9 188.1h0M279.9 246.5h0M281.5 246.7h0M271.0 272.4h0M228.7 213.5h0M278.5 260.0h0M227.1 190.5h0M278.7 173.1h0M240.8 162.0h0M257.2 162.0h0M245.5 171.4h0M281.2 195.2h0M247.2 219.3h0M214.4 187.8h0M253.6 227.6h0M260.7 186.9h0M264.1 223.9h0M195.4 238.1h0M284.9 226.2h0M208.3 201.2h0M267.6 267.6h0M182.7 252.0h0M269.9 265.7h0M216.9 237.5h0M261.6 239.9h0M255.0 197.4h0M202.8 180.1h0M258.9 232.0h0M265.3 238.0h0M224.3 200.6h0M184.4 234.2h0M255.6 229.9h0M242.2 167.2h0M226.4 178.0h0M272.7 193.4h0M182.7 236.2h0M209.5 184.3h0M235.8 229.8h0M195.6 196.8h0M251.7 160.4h0M213.1 267.2h0M224.0 189.9h0M196.1 224.2h0M268.3 163.3h0M233.7 166.6h0M247.9 261.8h0M190.9 197.2h0M221.7 273.3h0M270.4 184.7h0M232.8 276.5h0M239.4 200.1h0M237.7 211.1h0M197.7 230.4h0M253.2 269.7h0M221.4 244.0h0M269.8 161.3h0M253.8 150.4h0M266.6 241.7h0M266.0 262.8h0M280.6 199.4h0M237.0 153.2h0M237.4 224.7h0M216.0 250.2h0M236.7 158.5h0M283.0 249.2h0M211.1 265.7h0M245.5 168.0h0M247.9 193.7h0M199.3 258.3h0M284.2 197.2h0M270.7 210.0h0M209.6 266.5h0M265.0 205.4h0M250.4 208.0h0M225.8 205.6h0M251.0 154.6h0M251.2 218.2h0M238.3 231.6h0M270.8 241.5h0M238.7 269.1h0M268.8 246.7h0M250.1 259.7h0M209.6 235.8h0M252.4 269.7h0M210.0 233.3h0M213.9 207.3h0M242.1 163.7h0M286.1 221.8h0M200.9 266.9h0M283.8 242.8h0M225.4 184.7h0M228.8 238.7h0M217.7 219.9h0M284.9 243.3h0M269.5 227.4h0M234.5 226.5h0M194.7 190.4h0M281.9 209.5h0M284.2 208.3h0M254.6 161.9h0M254.1 245.0h0M223.6 168.2h0M175.4 235.9h0M265.5 223.5h0M211.2 188.7h0M273.0 269.8h0M278.1 182.6h0M280.8 256.6h0M276.2 263.0h0M255.0 219.4h0M238.2 238.8h0M246.6 166.5h0M248.5 189.3h0M222.5 242.4h0M194.1 219.4h0M206.0 227.7h0M257.4 265.7h0M238.8 177.1h0M269.8 175.3h0M209.6 258.4h0M267.9 257.3h0M232.7 200.7h0M248.9 269.7h0M253.2 212.8h0M266.3 211.8h0M239.0 226.0h0M184.9 218.6h0M264.0 242.7h0M222.1 261.2h0M246.2 204.7h0M247.4 275.5h0M205.7 202.4h0M267.4 231.0h0M240.1 172.0h0M224.6 219.6h0M237.3 165.0h0M249.2 274.3h0M209.3 236.3h0M209.7 204.2h0M255.8 265.5h0M227.2 256.5h0M279.2 211.0h0M244.1 163.8h0M260.3 228.7h0M225.9 232.9h0M276.4 180.2h0M177.5 253.8h0M264.7 235.9h0M208.3 183.1h0M239.7 248.1h0M209.9 263.2h0M190.3 266.5h0M237.9 233.1h0M248.6 152.6h0M172.4 218.2h0M230.2 277.3h0M209.9 189.5h0M216.0 268.7h0M190.9 206.5h0M246.7 278.8h0M255.2 176.6h0M237.3 215.5h0M204.5 210.0h0M247.6 209.2h0M274.0 264.1h0M211.0 225.1h0M204.5 198.3h0M215.1 248.9h0M179.1 208.9h0M275.0 201.3h0M277.3 196.1h0M267.6 206.5h0M225.0 247.7h0M283.2 213.1h0M251.0 192.9h0M239.3 260.0h0M246.8 239.6h0M196.4 255.3h0M284.8 245.1h0M190.5 233.3h0M182.9 227.9h0M218.4 238.4h0M179.4 220.0h0M245.7 258.5h0M215.3 256.4h0M249.8 166.2h0M213.7 244.4h0M220.3 259.2h0M226.9 206.3h0M209.0 208.7h0M247.3 175.2h0M258.0 198.3h0M234.8 216.8h0M201.0 200.7h0M195.2 236.1h0M238.5 239.0h0M224.0 213.2h0M280.5 236.3h0M253.7 265.9h0M203.4 188.0h0M218.7 239.4h0M238.1 237.3h0M229.7 239.8h0M230.5 231.4h0M247.6 147.7h0M229.7 252.4h0M224.5 259.8h0M278.0 250.5h0M201.5 227.9h0M206.0 219.9h0M236.1 168.5h0M208.4 195.5h0M193.4 224.6h0M275.4 204.0h0M241.9 265.7h0M275.5 191.3h0M247.3 187.2h0M228.5 267.9h0M228.7 215.8h0M250.0 159.9h0M208.1 235.3h0M282.6 243.0h0M181.1 240.2h0M217.3 215.7h0M174.4 223.8h0M247.5 231.9h0M236.8 258.1h0M218.2 237.9h0M256.0 168.4h0M248.7 262.2h0M234.2 261.4h0M224.7 255.3h0M240.1 178.6h0M243.0 176.5h0M194.0 267.4h0M239.0 178.6h0M205.6 260.2h0M256.9 156.8h0M226.7 210.9h0M215.4 249.5h0M237.4 187.1h0M279.3 244.9h0M239.6 232.9h0M251.5 191.4h0M217.1 240.2h0M204.3 195.7h0M237.9 270.8h0M203.0 246.2h0M283.8 202.4h0M264.6 172.0h0M172.4 227.1h0M287.0 209.6h0M215.0 270.0h0M222.1 278.0h0M214.9 184.1h0M192.8 256.5h0M245.8 265.2h0M272.2 198.8h0M227.5 185.4h0M215.6 206.8h0M185.4 253.2h0M196.8 256.5h0M233.6 177.2h0M263.3 253.0h0M170.1 225.6h0M248.1 219.6h0M241.0 223.0h0M226.6 254.6h0M254.7 232.9h0M222.1 211.2h0M236.8 274.4h0M281.6 215.9h0M269.0 192.8h0M229.9 191.9h0M207.6 185.4h0M224.7 191.3h0M278.7 191.1h0M216.4 273.7h0M266.4 230.5h0M248.2 267.9h0M286.5 211.6h0M275.7 250.7h0M182.8 246.4h0M187.7 234.2h0M278.9 184.1h0M225.7 248.5h0M253.2 187.6h0M222.6 222.8h0M281.0 214.5h0M213.4 249.5h0M233.9 202.7h0M256.4 158.6h0M257.7 266.4h0M257.7 178.6h0M265.4 201.3h0M206.2 218.2h0M200.8 227.3h0M240.3 170.2h0M223.4 175.8h0M173.1 218.1h0M278.4 231.0h0M270.8 216.4h0M246.4 182.1h0M202.9 233.1h0M233.5 242.7h0M200.7 267.6h0M262.5 219.6h0M189.2 221.7h0M193.3 228.8h0M267.5 160.4h0M202.7 247.9h0M277.6 189.5h0M272.4 169.9h0M261.9 213.1h0M275.2 231.9h0M208.0 221.1h0M257.6 276.0h0M185.5 247.3h0M262.3 244.4h0M266.5 188.2h0M231.0 210.6h0M215.8 216.2h0M270.2 185.2h0M185.0 244.6h0M289.5 244.1h0M178.9 219.3h0M232.5 149.9h0M246.9 264.1h0M282.8 231.0h0M255.9 197.2h0M210.3 183.3h0M191.1 230.1h0M236.3 243.6h0M254.3 163.2h0M253.1 221.9h0M217.6 269.8h0M256.8 225.6h0M192.1 189.8h0M232.8 246.0h0M275.9 188.5h0M207.9 205.0h0M250.6 157.0h0M201.2 202.0h0M217.2 192.7h0M215.0 269.3h0M173.9 220.0h0M257.1 274.4h0M279.6 252.9h0M212.1 196.5h0M209.0 222.9h0M258.5 222.4h0M253.7 197.8h0M196.5 258.0h0M226.8 171.2h0M266.7 217.8h0M209.9 250.3h0M218.3 269.2h0M218.7 196.3h0M185.4 204.8h0M206.4 248.7h0M223.0 231.8h0M235.4 157.5h0M249.4 191.3h0M274.6 201.5h0M204.5 251.0h0M189.6 218.8h0M257.0 218.7h0M194.1 265.9h0M280.2 229.9h0M253.5 258.6h0M227.4 166.0h0M236.2 231.0h0M215.6 198.4h0M227.6 236.9h0M254.7 248.0h0M287.2 225.9h0M197.2 261.7h0M244.0 162.8h0M219.0 212.8h0M217.8 247.9h0M266.4 231.7h0M202.8 236.1h0M286.7 207.2h0M227.5 228.9h0M168.9 228.5h0M227.7 217.9h0M257.2 186.7h0M242.0 223.4h0M190.0 252.4h0M195.2 232.6h0M215.7 186.9h0M196.9 267.0h0M237.3 227.1h0M234.3 256.4h0M237.2 240.3h0M217.9 197.8h0M278.2 223.6h0M273.4 228.6h0M225.6 259.3h0M185.1 221.8h0M277.6 242.1h0M190.6 217.1h0M212.3 238.4h0M227.0 256.7h0M207.6 189.7h0M240.4 177.8h0M202.4 204.6h0M270.4 214.8h0M229.9 257.7h0M207.0 208.0h0M274.2 191.1h0M210.0 227.8h0M240.8 252.7h0M270.9 229.4h0M172.4 223.4h0M260.8 262.3h0M214.1 209.9h0M214.1 183.9h0M243.4 189.5h0M230.5 196.0h0M200.2 216.6h0M194.8 264.5h0M234.4 251.6h0M189.4 216.0h0M184.7 223.3h0M273.4 243.7h0M174.5 236.9h0M246.6 251.1h0M197.6 219.4h0M211.8 226.4h0M222.9 252.5h0M221.8 189.5h0M269.0 196.3h0M248.3 219.2h0M248.4 239.5h0M257.6 229.8h0M231.0 268.1h0M260.7 162.6h0M231.8 206.7h0M194.3 193.3h0M269.8 194.0h0M185.5 237.8h0M223.7 208.2h0M175.3 246.0h0M255.4 178.4h0M221.9 254.5h0M215.9 193.7h0M204.9 229.9h0M199.5 255.9h0M231.2 211.4h0M181.4 215.2h0M256.4 231.1h0M179.2 229.8h0M207.3 268.2h0M268.7 222.3h0M257.1 234.2h0M244.3 179.6h0M274.8 204.3h0M220.6 207.9h0M239.0 221.6h0M236.0 221.0h0M227.8 268.8h0M248.7 188.9h0M284.1 227.5h0M213.4 181.8h0M211.5 180.7h0M281.3 249.7h0M241.9 151.8h0M227.1 201.9h0M202.7 193.9h0M205.2 269.7h0M272.6 235.6h0M269.6 225.7h0M215.4 252.0h0M244.7 167.3h0M261.9 226.6h0M224.8 225.8h0M263.2 184.6h0M212.0 181.9h0M235.4 170.3h0M211.2 235.5h0M258.0 266.1h0M210.1 272.6h0M218.8 229.3h0M218.9 220.5h0M224.4 243.3h0M210.3 197.1h0M189.8 245.3h0M187.4 246.6h0M278.0 209.7h0M193.8 235.3h0M189.5 202.8h0M236.5 264.1h0M220.1 248.7h0M282.8 238.3h0M195.9 255.7h0M219.2 252.4h0M211.7 204.4h0M261.1 253.1h0M241.2 260.7h0M251.6 249.3h0M230.2 238.8h0M199.1 265.8h0M219.8 195.2h0M207.3 264.4h0M186.4 213.8h0M231.4 194.7h0M253.7 267.2h0M284.4 238.7h0M223.7 189.8h0M269.8 247.9h0M268.2 178.2h0M266.5 264.0h0M242.7 150.7h0M198.1 237.4h0M268.0 182.7h0M189.1 194.8h0M228.9 226.8h0M232.5 202.2h0M261.7 227.6h0M193.4 241.1h0M256.4 161.6h0M254.4 231.9h0M205.3 212.1h0M260.7 215.5h0M242.9 169.6h0M275.9 265.5h0M255.2 186.0h0M214.7 246.8h0M215.4 245.8h0M223.7 274.1h0M183.9 256.9h0M194.8 252.3h0M221.3 240.4h0M250.9 225.8h0M200.0 185.5h0M232.2 210.0h0M179.5 211.0h0M251.1 161.4h0M251.9 222.9h0M239.8 236.3h0M213.7 214.7h0M214.4 223.5h0M246.8 202.7h0M193.7 207.9h0M241.0 233.9h0M214.2 261.3h0M281.1 193.2h0M276.4 206.9h0M245.2 231.5h0M198.0 204.8h0M268.6 257.7h0M223.4 254.4h0M234.3 232.1h0M239.7 269.7h0M177.7 236.4h0M266.0 160.7h0M194.3 207.1h0M226.2 186.8h0M284.1 220.4h0M225.0 248.8h0M254.4 181.5h0M280.2 216.6h0M224.0 271.4h0M197.1 268.7h0M276.6 262.7h0M184.6 236.4h0M220.9 190.4h0M272.4 200.0h0M270.4 265.2h0M281.3 221.3h0M218.8 163.6h0M186.4 246.9h0M238.5 264.7h0M217.7 229.4h0M209.5 267.5h0M223.9 241.7h0M267.3 175.9h0M238.1 188.0h0M188.5 229.4h0M264.0 255.1h0M223.2 170.5h0M237.6 218.0h0M266.5 163.4h0M257.8 172.5h0M232.7 263.3h0M249.7 228.5h0M229.1 239.3h0M281.5 231.2h0M269.5 221.3h0M204.8 183.4h0M286.0 226.8h0M249.6 233.1h0M271.2 254.1h0M222.9 204.2h0M245.1 255.6h0M254.6 211.3h0M254.5 192.6h0M224.3 189.7h0M226.9 170.4h0M215.1 224.9h0M182.6 217.3h0M245.8 262.5h0M212.8 234.5h0M217.4 191.0h0M221.8 189.8h0M258.2 228.9h0M217.1 271.0h0M219.2 247.3h0M227.6 171.1h0M242.2 264.0h0M274.4 211.3h0M216.9 222.3h0M254.3 164.6h0M228.6 211.4h0M182.9 241.8h0M279.7 216.0h0M198.5 211.4h0M224.9 190.8h0M179.0 231.8h0M284.3 243.3h0M221.5 250.2h0M225.2 237.0h0M192.1 216.9h0M278.3 268.0h0M211.1 228.2h0M224.1 251.1h0M253.1 160.6h0M250.0 150.7h0M229.7 169.6h0M242.2 171.0h0M204.8 186.5h0M225.4 267.5h0M212.0 266.8h0M213.0 245.5h0M239.0 214.0h0M228.9 188.8h0M236.5 189.8h0M266.0 160.7h0M283.0 230.9h0M231.8 191.5h0M215.4 270.6h0M261.8 238.2h0M206.8 260.6h0M190.7 243.3h0M262.4 212.3h0M250.2 242.7h0M264.1 187.1h0M282.3 189.0h0M260.8 169.2h0M228.6 216.3h0M222.2 237.6h0M268.4 264.4h0M235.7 197.4h0M228.2 230.8h0M208.1 232.3h0M250.9 272.0h0M205.9 189.8h0M270.3 170.1h0M249.7 245.1h0M205.8 202.2h0M279.6 228.6h0M235.1 157.7h0M219.2 238.0h0M194.9 251.2h0M204.6 197.4h0M261.8 159.9h0M244.1 224.1h0M170.4 233.2h0M271.3 255.5h0M248.1 229.0h0M265.5 167.6h0M248.6 267.8h0M239.3 208.9h0M215.0 168.5h0M244.3 268.8h0M226.7 162.9h0M250.3 247.5h0M280.7 237.8h0M189.7 213.7h0M244.4 150.1h0M261.1 240.2h0M246.5 216.1h0M260.5 216.6h0M196.4 231.1h0M200.1 258.6h0M245.7 168.5h0M276.9 239.0h0M256.6 214.1h0M194.9 251.5h0M243.7 203.6h0M250.2 250.0h0M272.0 266.1h0M284.8 251.2h0M236.1 258.4h0M257.8 171.1h0M205.6 245.2h0M197.3 203.4h0M268.1 202.0h0M276.0 197.5h0M239.6 177.7h0M273.7 237.0h0M224.3 215.7h0M235.2 268.6h0M217.1 212.7h0M229.1 261.3h0M277.9 264.6h0M226.0 215.1h0M244.3 180.9h0M215.9 211.5h0M288.3 227.9h0M278.3 244.6h0M270.0 160.3h0M199.8 214.3h0M252.7 212.6h0M212.3 184.3h0M214.0 236.1h0M231.6 223.2h0M175.3 236.3h0M207.1 233.9h0M183.7 203.8h0M251.9 187.0h0M246.7 162.6h0M236.5 177.9h0M215.3 222.1h0M270.3 206.7h0M272.2 223.0h0M279.1 219.0h0M197.7 204.7h0M274.6 219.6h0M210.8 267.2h0M206.6 209.5h0M211.3 206.9h0M215.2 237.2h0M239.8 264.6h0M189.4 242.1h0M262.2 215.2h0M274.1 216.5h0M206.1 269.4h0M253.5 195.5h0M257.5 226.2h0M262.6 167.0h0M259.6 154.3h0M276.8 231.8h0M233.1 176.2h0M257.4 220.2h0M223.9 218.7h0M238.5 172.8h0M261.7 239.5h0M268.3 227.5h0M186.3 218.7h0M202.6 238.9h0M246.9 222.1h0M265.1 255.4h0M261.3 232.2h0M226.9 235.1h0M189.7 202.7h0M241.8 263.0h0M270.6 253.3h0M181.0 229.8h0M224.1 238.0h0M220.8 229.7h0M203.3 231.1h0M278.1 166.9h0M282.2 227.0h0M239.3 160.8h0M210.9 261.9h0M264.3 191.8h0M203.2 236.9h0M203.6 233.2h0M196.5 244.1h0M234.5 272.9h0M198.2 198.1h0M211.7 237.1h0M249.2 217.4h0M240.2 218.4h0M254.8 198.0h0M247.7 150.5h0M210.6 203.4h0M228.1 231.6h0M254.2 173.3h0M251.9 242.8h0M218.6 203.2h0M237.3 233.1h0M239.7 153.3h0M251.0 276.3h0M266.0 194.3h0M222.8 167.0h0M270.8 240.6h0M210.9 217.0h0M266.9 272.9h0M247.1 194.2h0M200.7 252.2h0M277.2 218.6h0M268.5 252.5h0M203.7 208.6h0M195.6 245.1h0M260.7 245.4h0M229.4 225.4h0M210.6 241.4h0M261.5 181.7h0M204.5 179.3h0M192.3 210.2h0M278.1 223.0h0M255.7 244.2h0M249.8 266.8h0M225.6 221.6h0M200.4 202.9h0M241.5 271.7h0M266.1 216.6h0M237.5 243.1h0M232.5 261.0h0M240.5 226.2h0M190.0 215.1h0M217.5 264.0h0M268.1 229.7h0M279.0 235.0h0M267.1 215.8h0M260.0 279.5h0M170.1 225.9h0M248.3 261.7h0M171.4 222.9h0M272.1 263.8h0M208.3 250.6h0M188.5 251.0h0M246.5 161.6h0M253.4 156.3h0M236.1 252.6h0M283.6 198.5h0M197.1 246.6h0M274.2 266.8h0M246.1 169.7h0M250.3 242.3h0M268.7 276.9h0M273.3 231.8h0M210.0 231.2h0M195.9 233.2h0M232.3 244.4h0M263.0 152.4h0M192.2 219.2h0M201.1 265.9h0M240.8 166.9h0M277.0 229.4h0M194.5 233.3h0M215.3 186.4h0M253.4 233.1h0M235.1 190.5h0M234.6 191.0h0M229.3 212.2h0M248.8 155.8h0M238.7 262.6h0M238.6 234.6h0M282.7 222.8h0M311.0 157.2h0M321.3 139.0h0M304.5 181.2h0M318.6 149.8h0M326.3 142.0h0M315.7 176.9h0M291.1 176.9h0M304.1 141.7h0M328.9 175.7h0M299.7 188.2h0M302.9 166.4h0M328.9 150.5h0M311.3 189.1h0M305.4 189.3h0M326.4 174.5h0M320.3 155.0h0M292.5 161.7h0M309.4 162.8h0M319.7 182.5h0M333.0 176.5h0M302.3 151.8h0M301.4 159.2h0M313.0 154.7h0M303.6 133.8h0M299.2 188.3h0M290.4 149.1h0M307.4 173.1h0M308.4 142.2h0M314.6 138.0h0M307.9 166.3h0M298.2 135.3h0M334.3 148.3h0M297.2 153.5h0M301.7 145.3h0M297.4 146.7h0M307.7 166.6h0M320.9 149.7h0M304.8 196.9h0M299.5 139.4h0M329.6 157.0h0M330.8 188.7h0M314.3 185.7h0M340.2 157.2h0M318.8 159.2h0M290.2 161.6h0M334.4 163.6h0M312.7 193.1h0M322.8 144.7h0M308.9 177.0h0M301.6 174.0h0M328.4 152.9h0M308.6 176.6h0M305.0 134.9h0M308.2 164.1h0M310.6 163.4h0M312.7 145.8h0M328.8 171.0h0M307.4 153.8h0M312.0 146.6h0M317.0 192.1h0M329.8 163.3h0M317.5 200.0h0M300.1 135.0h0M313.5 182.0h0M310.1 156.9h0M316.8 134.7h0M326.2 166.2h0M295.4 149.3h0M321.2 182.5h0M307.4 193.8h0M314.9 189.8h0M308.5 151.8h0M302.5 169.6h0M306.1 130.4h0M312.8 198.0h0M319.3 183.1h0M322.4 177.1h0M300.0 173.1h0M301.8 144.1h0M293.8 141.7h0M310.6 183.8h0M305.9 159.0h0M314.6 173.8h0M296.8 158.4h0M333.0 184.6h0M327.8 151.3h0M295.1 159.1h0M292.2 156.7h0M316.5 180.0h0M298.6 139.4h0M317.1 179.2h0M306.4 134.0h0M310.8 148.2h0M329.5 186.9h0M312.3 132.8h0M291.7 133.4h0M325.2 138.2h0M298.5 137.0h0M305.3 191.1h0M315.9 170.6h0M325.7 167.4h0M323.2 170.5h0M312.4 142.6h0M331.7 149.7h0M308.2 168.5h0M320.6 140.0h0M322.3 191.0h0M299.4 136.9h0M342.4 165.9h0M321.3 157.8h0M333.3 179.6h0M296.3 159.8h0M337.1 150.9h0M307.7 131.8h0M335.7 157.2h0M302.1 193.9h0M333.3 171.6h0M317.3 159.9h0M314.2 143.4h0M318.6 141.9h0M303.2 134.5h0M295.8 154.5h0M327.0 177.2h0M329.4 188.5h0M318.9 191.0h0M305.1 156.9h0M309.6 141.5h0M306.7 159.6h0M307.7 150.4h0M305.9 160.1h0M307.0 177.1h0M307.0 146.0h0M316.7 132.7h0M314.7 180.1h0M317.8 191.1h0M314.5 173.5h0M304.8 159.4h0M308.7 138.0h0M313.7 156.4h0M326.0 144.8h0M313.9 134.9h0M312.3 128.8h0M328.2 142.6h0M306.7 141.1h0M325.5 136.6h0M340.5 160.5h0M322.2 174.6h0M333.1 148.7h0M324.9 191.1h0M328.5 178.3h0M304.7 152.0h0M320.4 189.7h0M315.0 152.0h0M319.5 173.5h0M306.4 143.8h0M320.1 143.8h0M304.4 139.4h0M329.0 166.1h0M328.5 176.7h0M298.6 190.3h0M302.1 162.4h0M296.2 179.7h0M313.8 181.9h0M299.4 162.1h0M328.9 152.5h0M311.7 191.3h0M307.0 136.3h0M318.7 153.2h0M305.4 139.5h0M315.0 139.7h0M309.3 129.6h0M324.2 148.1h0M337.3 164.8h0M334.7 163.6h0M318.2 196.0h0M315.4 148.1h0M339.4 172.7h0M304.0 145.8h0M301.2 179.2h0M313.5 170.2h0M316.2 141.3h0M302.8 145.8h0M318.4 138.9h0M340.3 174.1h0M324.1 148.7h0M316.8 190.4h0M315.6 185.1h0M304.9 184.4h0M311.3 152.9h0M309.3 158.1h0M306.4 140.5h0M318.6 154.6h0M321.6 185.0h0M306.9 197.1h0M308.4 170.3h0M309.5 182.4h0M296.3 133.4h0M326.0 144.0h0M303.3 195.3h0M302.7 140.5h0M331.8 177.0h0M316.4 167.5h0M302.4 191.2h0M300.2 169.8h0M312.1 129.3h0M291.4 144.8h0M306.1 185.0h0M310.0 197.7h0M306.4 164.0h0M304.3 142.2h0M300.3 142.9h0M332.2 177.7h0M309.4 201.7h0M327.5 183.7h0M315.9 188.2h0M292.4 155.0h0M325.1 156.4h0M333.2 182.4h0M318.2 156.9h0M300.0 153.5h0M310.6 163.4h0M335.1 166.8h0M315.8 162.7h0M309.8 163.7h0M322.4 145.9h0M313.1 151.6h0M322.4 188.8h0M292.1 185.4h0M315.9 194.5h0M320.5 188.2h0M322.6 172.5h0M292.4 169.4h0M320.0 188.3h0M317.2 187.1h0M300.1 144.1h0M300.7 164.7h0M292.1 151.3h0M300.6 126.5h0M320.3 156.7h0M336.1 163.3h0M304.7 157.4h0M314.9 171.7h0M301.7 124.5h0M325.3 196.1h0M321.9 196.2h0M295.5 178.5h0M293.2 133.8h0M315.7 164.9h0M309.7 130.8h0M337.9 165.5h0M314.0 163.0h0M319.8 145.6h0M313.2 190.3h0M300.4 127.5h0M311.1 134.0h0M293.3 147.7h0M315.1 192.6h0M329.6 155.9h0M320.8 165.2h0M295.5 162.1h0M315.0 199.1h0M305.8 123.6h0M295.1 155.5h0M298.5 133.8h0M332.5 158.8h0M305.9 195.1h0M312.2 170.9h0M291.8 153.6h0M329.0 163.1h0M327.0 174.1h0M331.5 158.1h0M331.3 173.5h0M314.4 134.2h0M315.6 157.7h0M298.7 190.6h0M303.3 196.3h0M293.3 161.8h0M326.1 184.4h0M301.0 191.0h0M326.0 145.3h0M300.4 138.4h0M313.4 150.6h0M292.0 142.8h0M305.4 156.9h0M317.0 141.7h0M297.2 182.7h0M304.0 182.5h0M304.5 147.4h0M304.4 188.8h0M319.9 156.8h0M289.5 137.1h0M316.9 186.8h0M311.9 190.1h0M314.3 178.5h0M338.5 160.4h0M336.0 157.4h0M330.8 160.2h0M336.9 154.6h0M318.1 142.0h0M322.2 175.3h0M313.5 197.4h0M316.2 143.0h0M309.4 133.4h0M295.0 184.3h0M332.8 171.5h0M336.5 155.8h0M301.1 173.6h0M300.5 160.1h0M305.5 157.4h0M327.2 191.6h0M291.7 147.1h0M304.9 185.7h0M327.5 173.8h0M300.9 168.1h0M324.8 153.6h0M317.6 136.2h0M320.0 139.6h0M316.7 157.6h0M307.5 179.5h0M330.2 179.6h0M308.7 197.1h0M316.0 161.5h0M325.2 139.9h0M316.8 186.1h0M335.5 150.1h0M297.3 154.1h0M313.2 169.3h0M320.3 186.6h0M299.0 164.6h0M312.5 194.9h0M298.3 178.4h0M336.8 175.2h0M320.3 172.7h0M310.2 157.8h0M300.1 159.3h0M317.1 193.4h0M314.9 201.7h0M294.9 180.3h0M310.6 141.6h0M305.6 137.5h0M320.1 142.2h0M303.9 199.3h0M305.8 181.5h0M301.1 162.1h0M301.9 139.1h0M307.2 192.6h0M310.0 140.7h0M320.9 167.6h0M308.7 149.9h0M306.5 146.9h0M307.4 163.9h0M330.8 189.3h0M302.6 142.5h0M308.9 161.9h0M310.3 161.0h0M310.1 177.1h0M321.4 188.6h0M302.4 162.7h0M319.7 143.3h0M329.4 161.4h0M320.6 196.3h0M316.2 192.0h0M309.0 128.4h0M289.2 181.9h0M324.3 188.7h0M321.2 147.4h0M301.8 152.3h0M308.4 130.5h0M328.9 148.8h0M304.9 179.4h0M292.2 172.0h0M304.5 197.1h0M315.8 142.5h0M309.5 132.2h0M288.5 141.8h0M326.7 182.6h0M313.4 182.5h0M293.0 164.0h0M324.7 155.7h0M321.5 193.2h0M306.3 184.8h0M319.3 162.0h0M324.1 185.4h0M292.4 149.6h0M336.1 153.9h0M302.2 161.6h0M328.0 155.6h0M330.2 164.3h0M306.3 138.7h0M304.2 191.6h0M306.9 157.3h0M311.1 139.4h0M303.2 167.8h0M289.4 160.7h0M297.1 181.0h0M297.2 160.7h0M324.2 157.2h0M308.4 167.6h0M324.1 186.8h0M313.8 142.9h0M300.4 157.3h0M301.1 169.9h0M292.5 157.4h0M337.6 153.6h0M312.3 137.5h0M305.6 183.6h0M297.4 150.0h0M322.7 158.9h0M329.8 184.3h0M322.2 186.2h0M295.6 182.5h0M313.5 138.6h0M329.7 185.4h0M296.2 165.3h0M325.5 191.6h0M295.8 131.3h0M330.8 151.2h0M299.3 174.6h0M321.4 155.2h0M325.1 192.1h0M307.2 126.3h0M291.2 164.6h0M311.8 179.2h0M323.3 187.8h0M320.3 186.3h0M300.4 135.4h0M300.4 179.9h0M311.3 181.9h0M329.6 168.6h0M323.6 169.9h0M330.6 186.1h0M303.3 135.9h0M307.3 171.4h0M321.1 196.1h0M304.2 158.4h0M319.9 147.7h0M318.3 139.9h0M293.7 132.8h0M311.7 154.2h0M332.1 171.0h0M305.7 198.3h0M322.9 151.4h0M298.5 178.6h0M334.7 186.6h0M329.8 174.5h0M295.3 147.2h0M293.7 151.1h0M293.0 175.1h0M306.1 135.6h0M311.0 124.7h0M303.4 134.7h0M327.3 171.1h0M305.8 179.3h0M318.8 182.0h0M330.3 151.6h0M310.6 153.1h0M299.2 171.9h0M289.9 165.8h0M312.6 154.9h0M316.8 152.7h0M308.5 194.7h0M312.9 134.0h0M311.4 163.7h0M297.8 152.0h0M317.9 186.5h0M306.6 177.3h0M310.4 153.4h0M313.2 128.0h0M325.9 141.1h0M320.7 195.5h0M317.3 181.5h0M302.9 156.5h0M311.3 187.8h0M328.4 163.2h0M312.0 141.6h0M297.2 136.0h0M312.3 153.8h0M333.5 154.5h0M312.9 158.5h0M335.8 165.3h0M303.3 169.4h0M322.1 189.2h0M302.9 179.5h0M310.5 189.2h0M294.5 129.8h0M302.1 172.7h0M316.8 186.7h0M316.1 140.6h0M317.8 142.3h0M320.2 158.4h0M320.6 169.6h0M306.7 185.4h0M308.4 179.6h0M256.4 53.9h0M249.8 50.3h0M249.6 50.1h0M235.9 71.0h0M236.6 87.5h0M229.0 93.2h0M251.1 94.3h0M245.8 52.1h0M248.7 53.1h0M234.7 100.0h0M228.4 87.1h0M254.7 59.9h0M251.6 71.9h0M245.1 86.9h0M229.4 67.3h0M248.4 97.7h0M249.5 56.8h0M252.6 71.4h0M243.8 79.6h0M235.7 60.5h0M240.0 84.1h0M241.7 98.8h0M256.5 47.4h0M239.5 79.0h0M247.1 57.6h0M240.9 57.4h0M261.2 70.1h0M261.5 92.9h0M236.5 56.7h0M264.7 85.8h0M243.9 89.9h0M249.7 97.1h0M241.9 45.4h0M251.7 44.8h0M250.4 80.6h0M248.3 94.4h0M243.6 45.5h0M259.9 76.5h0M246.7 49.2h0M242.2 53.2h0M256.9 84.7h0M261.6 76.9h0M239.7 57.9h0M255.9 64.3h0M242.9 45.9h0M256.7 82.5h0M236.7 52.9h0M233.1 57.3h0M251.4 89.4h0M249.7 66.9h0M258.6 94.0h0M240.4 81.6h0M236.1 74.6h0M232.1 87.9h0M225.9 87.2h0M246.1 51.6h0M233.8 58.7h0M246.1 97.8h0M239.3 63.5h0M244.4 46.1h0M234.4 52.2h0M254.0 67.7h0M251.5 63.5h0M253.1 83.1h0M249.4 67.6h0M235.0 61.1h0M255.5 55.4h0M257.2 77.9h0M242.5 83.8h0M228.1 91.6h0M259.9 78.5h0M230.1 86.1h0M235.6 68.6h0M256.3 88.2h0M243.6 90.8h0M235.8 60.1h0M235.6 101.9h0M245.4 80.7h0M261.8 59.0h0M249.5 68.0h0M249.2 71.1h0M257.7 81.0h0M235.5 81.4h0M243.0 43.7h0M230.7 84.3h0M259.1 89.4h0M248.9 60.9h0M262.8 68.6h0M252.6 86.5h0M242.1 47.1h0M244.1 68.3h0M257.1 61.8h0M260.5 80.8h0M240.5 62.4h0M243.8 67.0h0M235.3 56.8h0M257.4 57.9h0M237.0 73.9h0M263.0 84.2h0M240.7 57.7h0M249.7 48.1h0M238.0 86.3h0M239.4 54.0h0M244.8 93.7h0M235.9 57.9h0M259.3 75.1h0M251.9 83.0h0M239.6 59.2h0M250.1 63.8h0M252.8 45.6h0M253.7 47.1h0M232.6 101.0h0M263.5 91.1h0M233.3 69.5h0M250.8 91.2h0M252.4 83.9h0M232.0 97.7h0M248.6 95.8h0M244.4 41.3h0M254.5 47.1h0M234.1 70.8h0M240.8 99.2h0M238.1 87.5h0M258.2 80.2h0M251.7 70.2h0M250.4 56.4h0M247.2 93.4h0M249.4 55.4h0M253.1 65.1h0M233.6 85.8h0M236.9 66.9h0M256.1 85.0h0M242.9 46.7h0M236.5 84.4h0M260.6 70.3h0M240.2 68.1h0M229.5 78.5h0M245.0 45.0h0M257.6 68.8h0M234.9 73.7h0M240.3 89.9h0M252.8 77.4h0M261.3 83.8h0M261.3 64.1h0M253.2 66.0h0M252.0 62.6h0M258.4 84.1h0M243.0 91.4h0M261.1 78.7h0M260.8 89.2h0M237.5 50.4h0M256.6 52.1h0M229.4 83.6h0M236.0 52.9h0M239.6 80.4h0M244.4 43.1h0M231.3 82.9h0M235.2 99.9h0M237.6 82.8h0M228.7 88.7h0M251.1 58.4h0M260.3 71.1h0M262.6 86.6h0M251.6 58.3h0M256.0 80.9h0M250.4 87.1h0M242.7 55.9h0M252.1 43.7h0M249.9 82.8h0M242.2 93.4h0M254.8 53.2h0M259.9 80.4h0M261.4 92.3h0M236.9 72.7h0M229.0 82.0h0M250.9 51.8h0M242.1 64.9h0M237.1 52.5h0M242.0 74.3h0M257.8 90.3h0M242.1 78.0h0M245.6 43.7h0M90.5 202.1h0M93.9 195.0h0M91.3 195.9h0M86.8 192.4h0M89.6 192.2h0M81.9 195.7h0M93.8 203.8h0M83.4 205.4h0M87.8 198.2h0M81.4 202.3h0M91.0 196.7h0M86.8 178.3h0M88.4 185.1h0M96.5 194.6h0M85.4 177.7h0M79.5 197.5h0M99.1 209.4h0M80.6 191.7h0M91.4 215.9h0M88.5 191.0h0M94.2 204.8h0M94.5 194.4h0M82.6 196.3h0M86.8 190.6h0M79.3 193.4h0M84.1 207.5h0M92.7 212.2h0M91.7 184.4h0M80.1 200.1h0M90.8 202.7h0M86.9 181.7h0M82.0 204.7h0M82.8 196.9h0M92.6 215.9h0M80.2 198.6h0M88.8 197.2h0M87.2 188.1h0M85.4 200.7h0M91.4 202.3h0M78.1 198.2h0M84.6 211.5h0M92.2 206.7h0M91.5 180.9h0M100.4 204.7h0M80.4 207.2h0M86.6 209.2h0M84.2 205.4h0M92.9 194.3h0M90.9 206.4h0M76.9 186.1h0M85.7 185.3h0M81.3 204.1h0M94.2 209.8h0M77.4 206.0h0M80.6 187.3h0M92.0 197.9h0M82.5 201.8h0M84.2 189.1h0M95.4 200.3h0M65.8 206.5h0M60.2 209.7h0M64.7 208.5h0M57.7 211.3h0M58.0 211.9h0M60.3 210.4h0M61.0 210.7h0M64.9 208.0h0M57.8 211.9h0M63.5 208.5h0M66.9 206.5h0M63.4 208.4h0M62.3 209.3h0M98.9 210.7h0M109.8 189.4h0M110.6 208.7h0M105.8 201.2h0M106.0 206.6h0M104.2 209.1h0M109.2 194.7h0M110.3 194.6h0M110.9 185.1h0M106.1 210.1h0M102.9 204.4h0M199.4 291.6h0M203.2 293.3h0M203.2 278.5h0M205.1 293.3h0M203.7 296.0h0M199.3 273.2h0M197.3 286.8h0M202.2 286.7h0M202.4 289.3h0M200.0 277.3h0M203.0 284.3h0M201.0 284.1h0M206.4 278.2h0M204.9 287.5h0M199.8 274.7h0M192.7 279.7h0M201.3 288.8h0M201.9 286.9h0M207.4 294.3h0M194.9 278.9h0M195.8 273.2h0M208.9 277.5h0M199.9 288.4h0M197.6 272.3h0M204.1 287.6h0M210.5 287.1h0M208.5 279.2h0M197.7 273.4h0M208.1 285.8h0M207.2 290.6h0M203.5 275.7h0M215.9 271.9h0M208.8 288.5h0M211.0 284.9h0M205.8 277.3h0M195.3 288.8h0M202.0 275.1h0M201.4 272.1h0M200.7 285.4h0M203.4 270.1h0M205.1 288.0h0M208.4 290.0h0M199.4 279.1h0M204.5 292.3h0M201.2 277.0h0M198.9 288.7h0M198.2 278.0h0M197.6 282.0h0M206.4 280.4h0M211.6 280.4h0M202.4 293.7h0M207.8 290.2h0M197.5 275.2h0M197.3 281.0h0M202.4 287.2h0M207.3 276.2h0M207.0 289.2h0M197.4 273.4h0M207.8 291.4h0M206.1 293.4h0M205.9 276.5h0M200.1 274.1h0M210.2 275.9h0M198.4 283.5h0M198.6 291.6h0M203.3 291.6h0M204.8 294.9h0M198.5 275.6h0M212.6 282.4h0M206.5 279.9h0M205.9 279.0h0M202.9 275.4h0M207.2 287.5h0M196.6 277.7h0M207.2 286.4h0M196.0 278.3h0M273.2 310.8h0M273.0 325.7h0M282.5 295.8h0M260.2 322.4h0M270.2 310.5h0M275.2 310.5h0M279.1 288.5h0M264.4 305.6h0M270.0 325.2h0M272.9 312.8h0M275.2 288.7h0M273.5 301.7h0M265.9 304.3h0M261.2 320.9h0M269.5 293.8h0M262.0 312.2h0M269.8 326.3h0M284.5 307.5h0M273.0 295.0h0M261.6 305.8h0M259.6 312.2h0M261.4 314.2h0M274.1 296.1h0M264.0 309.9h0M272.3 330.0h0M280.8 326.8h0M260.8 323.7h0M283.4 308.5h0M270.9 326.8h0M281.8 291.6h0M277.3 288.7h0M264.2 324.4h0M267.5 304.9h0M268.4 307.4h0M282.6 324.0h0M260.5 316.5h0M267.7 292.3h0M271.4 305.9h0M272.5 298.2h0M267.9 324.6h0M279.1 310.0h0M279.8 289.8h0M266.0 312.5h0M279.5 300.8h0M281.4 307.1h0M273.5 292.7h0M276.9 302.4h0M277.7 309.6h0M268.5 317.5h0M264.4 301.7h0M267.7 316.2h0M270.0 328.0h0M267.5 319.2h0M268.5 313.3h0M264.5 315.6h0M267.1 320.3h0M277.8 294.5h0M279.6 315.2h0M270.7 311.4h0M262.5 315.3h0M282.3 316.4h0M282.1 306.6h0M273.2 318.6h0M276.7 307.3h0M285.2 319.3h0M271.5 295.3h0M277.4 325.0h0M267.5 326.1h0M265.6 318.1h0M275.6 305.3h0M272.8 314.5h0M266.0 327.0h0M270.3 307.4h0M277.9 328.4h0M287.6 314.1h0M284.5 310.1h0M280.8 324.6h0M281.9 288.6h0M281.1 319.8h0M278.1 310.9h0M273.8 317.2h0M278.7 323.7h0M265.9 317.3h0M267.5 326.5h0M284.8 318.5h0M273.5 302.6h0M285.3 294.9h0M277.9 319.1h0M279.5 303.2h0M273.9 301.2h0M262.5 322.5h0M266.5 321.4h0M273.0 320.4h0M280.9 285.6h0M276.6 314.7h0M271.3 287.0h0M275.3 320.8h0M273.9 319.4h0M278.7 287.4h0M276.0 292.1h0M276.8 305.5h0M278.5 314.9h0M276.6 323.9h0M272.9 301.2h0M278.6 308.5h0M267.4 297.2h0M285.3 328.8h0M265.4 328.7h0M278.3 324.6h0M277.6 311.3h0M271.7 305.8h0M280.3 313.7h0M286.0 311.1h0M270.7 320.3h0M261.4 316.7h0M280.0 326.9h0M282.6 315.8h0M264.9 306.1h0M277.0 307.6h0M270.0 287.0h0M282.4 315.7h0M267.5 301.1h0M271.8 307.9h0M282.2 322.2h0M280.8 300.9h0M272.9 315.8h0M275.1 328.1h0M279.4 317.2h0M278.8 292.8h0M280.7 311.5h0M276.5 292.9h0M268.3 290.6h0M284.3 323.0h0M283.3 294.5h0M267.1 303.6h0M280.7 298.7h0M268.9 323.5h0M272.1 289.7h0M269.8 292.0h0M275.2 295.3h0M270.2 327.9h0M273.7 297.6h0M263.4 317.7h0M276.7 287.6h0M275.9 289.1h0M272.7 299.6h0M270.4 300.3h0M277.7 297.3h0M286.2 303.5h0M269.5 311.6h0M278.5 290.0h0M283.0 304.4h0M282.5 317.7h0M281.4 303.9h0M288.0 325.0h0M325.5 290.3h0M324.0 281.7h0M301.7 266.2h0M321.1 281.0h0M333.5 287.8h0M318.5 280.6h0M312.8 279.1h0M296.2 261.1h0M331.0 288.8h0M330.5 285.1h0M328.3 284.6h0M301.7 267.9h0M330.4 295.2h0M311.8 271.8h0M313.6 276.8h0M333.9 296.4h0M301.8 266.9h0M310.1 267.2h0M317.5 276.0h0M335.4 293.8h0M334.5 294.9h0M317.6 276.5h0M332.9 291.5h0M312.6 276.5h0M310.6 273.6h0M324.8 284.1h0M314.1 267.1h0M325.7 285.0h0M332.6 288.2h0M336.1 299.5h0M313.8 280.9h0M324.8 296.9h0M322.2 275.4h0M325.0 280.1h0M297.2 265.9h0M311.7 268.7h0M331.9 283.5h0M331.0 290.6h0M313.2 271.4h0M331.5 294.1h0M300.9 266.2h0M314.0 266.0h0M334.3 291.9h0M335.1 291.4h0M327.4 295.5h0M325.6 280.4h0M304.1 268.7h0M333.0 289.1h0M315.9 271.9h0M319.0 284.3h0M320.2 275.0h0M336.7 293.8h0M318.6 283.7h0M331.8 280.6h0M323.6 277.9h0M302.2 266.7h0M334.0 294.9h0M325.0 296.5h0M325.9 297.1h0M327.9 287.7h0M333.2 284.9h0M332.3 291.2h0M319.3 282.2h0M318.6 281.2h0M316.9 276.8h0M321.3 282.2h0M329.0 289.9h0M316.1 282.9h0M327.2 286.9h0M298.5 266.0h0M336.2 297.7h0M306.2 265.6h0M332.1 294.0h0M329.8 298.6h0M312.2 271.5h0M324.8 278.4h0M307.4 273.6h0M335.0 293.2h0M329.8 283.9h0M303.5 260.3h0M299.1 261.7h0M315.8 269.7h0M299.3 269.2h0M324.7 279.7h0M305.7 273.2h0M311.2 269.3h0M323.0 277.1h0M332.5 299.8h0M335.6 288.0h0M328.9 283.8h0M325.9 287.1h0M308.2 268.8h0M326.8 286.5h0M327.2 294.5h0M309.9 272.2h0M315.3 272.0h0M313.7 270.0h0M315.3 270.7h0M318.5 271.2h0M312.6 274.6h0M314.6 273.2h0M306.6 267.5h0M314.6 267.0h0M316.4 268.4h0M311.4 270.2h0M317.8 276.4h0M313.6 273.2h0M314.6 269.8h0M313.8 270.4h0M313.4 269.3h0M318.1 273.9h0M317.3 271.5h0M319.1 270.0h0M316.4 271.2h0M313.7 269.9h0M313.5 272.4h0M317.3 274.0h0M315.0 270.4h0M315.8 270.3h0M314.8 274.3h0M336.0 290.6h0M336.0 289.0h0M336.8 294.2h0M330.5 299.8h0M332.7 285.3h0M333.9 287.2h0M333.9 285.6h0M334.0 291.0h0M335.9 292.5h0M333.6 299.5h0M333.3 286.0h0M335.8 287.9h0M333.7 298.9h0M336.3 290.2h0M335.6 295.0h0M331.8 285.1h0M328.3 301.0h0M334.3 288.1h0M327.9 301.8h0M336.6 295.8h0M336.5 294.8h0M202.1 295.8h0M200.3 294.8h0M205.9 294.3h0M202.6 295.8h0M202.9 294.8h0M200.1 296.2h0M203.3 299.2h0M205.1 297.7h0M205.4 293.1h0M205.7 294.8h0M202.8 294.4h0M201.0 295.9h0M200.1 296.3h0M201.7 295.4h0M203.2 293.1h0M204.8 296.2h0M202.1 293.9h0M202.5 291.9h0M200.0 296.4h0M172.5 244.4h0M176.3 194.5h0M200.1 278.4h0M182.1 255.9h0M204.7 194.4h0M274.7 238.1h0M251.7 230.0h0M249.5 218.6h0M264.4 201.3h0M236.0 163.3h0M228.0 255.0h0M183.2 255.5h0M196.4 183.9h0M272.6 251.9h0M250.3 222.2h0M223.6 226.2h0M191.5 279.5h0M261.9 187.0h0M291.8 203.3h0M296.9 183.8h0M201.9 233.9h0M166.7 251.0h0M206.6 250.4h0M209.6 247.7h0M269.5 224.3h0M184.1 223.3h0M232.1 233.0h0M266.5 179.7h0M240.8 196.3h0M204.8 215.0h0M299.6 216.4h0M241.8 263.0h0M167.2 258.0h0M296.4 204.7h0M241.7 257.3h0M215.8 179.5h0M256.3 224.2h0M213.9 203.3h0M262.6 240.8h0M263.0 203.9h0M252.9 288.0h0M199.4 265.4h0M219.6 231.7h0M271.7 261.2h0M225.4 244.1h0M240.1 199.5h0M170.3 195.7h0M227.0 235.1h0M289.8 227.6h0M266.2 183.7h0M214.0 250.7h0M193.5 216.2h0M239.6 246.2h0M290.9 228.6h0M273.7 273.6h0M280.0 154.2h0M219.9 230.1h0M258.5 270.1h0M260.3 177.0h0M297.9 180.2h0M246.3 257.9h0M167.2 225.0h0M270.1 270.8h0M230.0 192.5h0M272.5 220.3h0M254.1 217.7h0M278.1 282.7h0M207.9 186.2h0M183.7 270.1h0M292.6 257.1h0M238.5 187.1h0M277.8 277.2h0M274.4 160.5h0M206.2 196.4h0M202.0 238.8h0M245.5 200.8h0M261.5 281.4h0M262.6 231.2h0M292.0 247.4h0M229.1 146.0h0M213.6 244.6h0M273.6 206.8h0M279.1 278.0h0M285.5 237.2h0M306.6 199.7h0M303.4 163.0h0M289.0 146.8h0M289.0 167.7h0M287.1 173.3h0M325.3 134.1h0M306.7 148.1h0M313.5 131.2h0M314.3 134.3h0M320.6 186.7h0M310.1 171.4h0M292.9 181.2h0M284.0 201.6h0M288.1 176.6h0M341.7 168.4h0M294.6 170.1h0M324.0 187.3h0M325.2 187.6h0M319.3 144.1h0" stroke="#A7AEAA" stroke-width="1" stroke-linecap="round" fill="none" opacity="0.68"/>
<path d="M213.2 201.2h0M261.6 173.1h0M245.8 214.9h0M256.6 180.5h0M266.0 237.1h0M248.1 159.0h0M224.7 232.9h0M240.4 258.2h0M243.0 221.8h0M249.4 166.3h0M256.5 265.3h0M192.5 202.5h0M260.1 259.8h0M233.9 226.3h0M257.2 247.4h0M275.1 262.6h0M215.9 191.6h0M278.7 199.5h0M236.4 151.9h0M253.5 151.6h0M225.6 198.9h0M184.2 241.5h0M220.1 195.7h0M215.3 223.6h0M248.3 166.6h0M185.5 205.9h0M261.7 194.0h0M200.3 223.1h0M200.3 247.0h0M267.1 189.6h0M183.4 211.5h0M244.7 152.2h0M237.8 152.5h0M245.6 186.5h0M241.9 208.5h0M252.2 266.8h0M240.5 271.8h0M266.7 177.5h0M226.3 161.3h0M247.5 158.2h0M231.3 271.6h0M260.6 187.2h0M246.5 221.7h0M197.2 263.7h0M197.3 214.6h0M279.0 230.5h0M221.4 234.2h0M248.1 183.1h0M247.9 211.4h0M198.0 221.1h0M198.3 217.1h0M258.4 192.5h0M180.5 254.9h0M259.8 150.4h0M279.6 176.1h0M250.9 241.2h0M268.2 244.6h0M245.1 151.5h0M256.7 277.8h0M204.6 257.2h0M213.8 251.2h0M254.9 248.4h0M262.0 224.2h0M210.2 191.7h0M269.6 200.3h0M237.9 255.0h0M238.3 219.8h0M216.0 199.2h0M250.3 244.9h0M176.4 228.2h0M260.6 266.3h0M250.5 196.6h0M203.0 244.0h0M197.2 200.0h0M259.7 174.2h0M258.4 175.4h0M277.7 199.8h0M197.2 235.9h0M260.8 166.0h0M227.7 235.1h0M275.5 182.4h0M244.9 263.3h0M225.3 214.5h0M202.7 187.8h0M242.9 237.5h0M252.6 245.6h0M203.3 223.9h0M219.8 232.7h0M265.5 214.6h0M205.4 194.0h0M188.5 210.5h0M236.9 186.5h0M239.4 274.3h0M198.9 252.2h0M273.8 202.1h0M195.9 234.2h0M205.6 201.4h0M189.8 206.2h0M279.5 179.7h0M280.4 193.7h0M274.2 164.8h0M219.4 216.0h0M249.7 234.5h0M246.2 210.2h0M197.6 257.9h0M256.0 154.5h0M199.9 256.7h0M244.5 154.1h0M207.6 201.2h0M256.9 255.7h0M210.2 228.4h0M243.3 193.4h0M254.2 233.3h0M183.9 250.4h0M243.8 159.1h0M189.1 236.3h0M228.1 257.3h0M173.2 239.7h0M234.4 183.4h0M224.7 167.8h0M211.8 202.1h0M196.5 218.5h0M213.4 197.4h0M217.0 202.0h0M259.8 152.4h0M206.6 268.3h0M221.9 245.1h0M214.9 270.1h0M274.6 268.4h0M274.6 176.7h0M225.6 163.7h0M263.8 161.4h0M257.0 268.2h0M249.4 267.0h0M177.1 226.3h0M238.4 207.4h0M209.6 175.7h0M199.5 189.3h0M253.4 236.4h0M259.1 217.8h0M227.3 165.9h0M246.9 234.1h0M276.4 167.1h0M268.9 203.3h0M269.7 233.5h0M271.4 242.9h0M271.3 182.9h0M228.6 247.1h0M266.9 177.4h0M242.3 262.6h0M273.6 166.4h0M215.7 270.2h0M264.6 156.9h0M252.4 152.2h0M224.4 202.3h0M198.2 222.0h0M263.3 181.0h0M257.9 218.6h0M252.7 172.2h0M173.7 230.3h0M231.8 159.0h0M259.2 268.6h0M232.9 182.8h0M239.4 168.7h0M283.8 262.5h0M195.4 210.7h0M275.6 182.3h0M236.3 236.5h0M280.8 216.5h0M204.6 235.3h0M221.2 251.4h0M246.3 264.3h0M219.8 272.9h0M258.3 188.2h0M172.0 243.4h0M197.0 198.5h0M213.8 172.0h0M233.9 164.9h0M281.1 233.3h0M281.5 206.9h0M213.9 267.4h0M271.7 180.4h0M233.8 172.2h0M219.3 270.0h0M236.6 184.7h0M280.8 241.8h0M281.3 262.7h0M260.2 166.4h0M178.5 217.6h0M249.2 189.0h0M235.4 256.7h0M246.0 265.6h0M223.4 214.6h0M212.8 192.1h0M269.3 190.5h0M265.7 165.6h0M247.1 221.6h0M208.2 192.5h0M230.1 212.8h0M205.4 232.3h0M238.7 205.4h0M273.3 171.6h0M275.6 249.8h0M284.4 222.6h0M185.1 211.6h0M238.2 216.5h0M189.4 195.7h0M281.7 266.5h0M193.8 260.3h0M267.8 276.0h0M272.6 185.0h0M218.6 224.8h0M256.1 183.9h0M241.8 171.3h0M263.1 171.5h0M255.6 173.3h0M202.1 184.8h0M271.1 199.6h0M221.1 194.5h0M261.8 194.1h0M187.7 216.3h0M215.2 256.2h0M259.3 263.7h0M250.7 196.1h0M216.5 210.8h0M266.0 203.6h0M202.3 208.2h0M232.9 224.4h0M253.6 170.4h0M260.1 200.2h0M234.8 164.3h0M265.3 169.0h0M246.6 232.5h0M209.6 207.3h0M271.8 179.3h0M249.1 152.2h0M219.0 190.6h0M210.6 196.9h0M202.9 188.1h0M230.6 218.3h0M234.4 229.6h0M272.5 168.3h0M269.4 256.4h0M210.7 170.8h0M249.6 233.8h0M272.6 171.0h0M223.5 240.6h0M196.6 201.9h0M204.8 187.1h0M271.2 233.8h0M205.2 188.5h0M247.4 155.2h0M180.3 259.4h0M195.9 232.1h0M288.8 240.9h0M187.9 212.9h0M232.9 153.7h0M238.4 160.2h0M267.1 177.6h0M266.7 185.8h0M192.8 195.8h0M280.4 199.2h0M257.8 172.0h0M182.5 217.8h0M212.7 197.7h0M175.8 227.4h0M224.6 178.7h0M217.6 179.4h0M280.6 213.6h0M200.3 198.3h0M220.2 234.4h0M272.0 206.1h0M209.4 238.2h0M245.9 151.5h0M257.4 157.4h0M176.7 243.5h0M260.2 163.6h0M190.6 264.0h0M229.9 254.3h0M264.6 176.7h0M269.7 170.5h0M261.8 179.0h0M241.7 178.3h0M270.4 173.3h0M235.5 192.3h0M213.4 249.9h0M202.3 247.5h0M278.4 240.6h0M276.3 164.1h0M174.9 221.6h0M222.0 180.4h0M230.0 257.2h0M197.6 202.8h0M243.2 176.0h0M242.9 180.0h0M211.9 177.0h0M266.1 226.5h0M218.8 229.9h0M281.5 204.5h0M289.3 253.1h0M286.4 235.9h0M196.0 232.0h0M271.0 186.0h0M253.3 158.7h0M261.5 235.0h0M201.7 206.3h0M253.3 221.3h0M272.1 212.3h0M277.8 194.2h0M202.1 260.1h0M207.2 246.2h0M222.3 269.2h0M259.7 178.4h0M266.7 157.1h0M266.1 200.2h0M174.9 220.8h0M253.7 239.8h0M273.2 204.9h0M172.8 232.4h0M256.0 179.5h0M257.2 235.9h0M211.1 183.5h0M260.7 236.2h0M204.6 186.7h0M245.5 172.9h0M268.4 159.7h0M233.5 175.2h0M195.4 191.5h0M241.7 170.7h0M185.5 220.3h0M258.5 224.3h0M240.8 280.8h0M237.1 268.7h0M269.7 259.5h0M207.3 180.7h0M261.9 227.9h0M208.0 199.9h0M265.9 272.3h0M172.5 210.1h0M234.7 175.3h0M266.0 209.1h0M279.2 199.9h0M216.9 220.5h0M251.2 191.3h0M178.0 218.7h0M231.8 231.8h0M238.0 189.4h0M246.9 157.8h0M220.2 190.8h0M241.3 186.4h0M233.7 198.5h0M179.5 224.7h0M264.4 161.8h0M186.9 196.9h0M238.0 152.7h0M185.0 198.1h0M254.6 179.0h0M202.3 216.1h0M210.5 260.8h0M257.5 240.7h0M243.8 227.9h0M275.7 214.0h0M259.2 168.5h0M200.2 257.9h0M257.7 274.9h0M170.6 217.3h0M258.6 229.7h0M212.6 205.3h0M272.9 172.6h0M277.6 196.1h0M207.9 262.0h0M275.7 198.6h0M226.3 183.9h0M200.1 248.6h0M248.9 268.3h0M266.3 220.1h0M261.1 256.2h0M268.0 184.6h0M276.1 202.9h0M281.6 242.1h0M217.5 227.5h0M286.0 227.0h0M259.7 258.8h0M212.0 268.1h0M199.0 243.6h0M238.4 176.0h0M216.4 202.4h0M242.0 165.1h0M235.4 268.4h0M229.0 160.8h0M271.1 244.4h0M286.5 237.0h0M226.8 233.4h0M226.8 261.3h0M264.5 185.7h0M210.7 181.8h0M233.6 244.0h0M238.8 250.4h0M205.2 240.3h0M222.1 210.2h0M278.2 220.9h0M252.2 244.0h0M264.1 193.6h0M219.5 185.2h0M251.4 253.8h0M249.7 182.4h0M249.5 269.9h0M254.8 241.9h0M259.5 152.0h0M256.2 165.1h0M217.2 187.8h0M204.6 183.0h0M204.1 194.2h0M228.1 161.7h0M209.0 184.4h0M216.6 230.2h0M194.6 231.4h0M188.3 240.6h0M218.1 225.7h0M229.4 242.3h0M195.5 256.5h0M233.4 226.5h0M214.6 244.4h0M248.3 230.6h0M256.0 169.4h0M212.0 251.5h0M257.7 179.8h0M261.4 159.8h0M196.3 230.1h0M256.1 211.7h0M220.5 185.0h0M204.8 225.6h0M266.8 262.3h0M206.1 254.7h0M232.7 198.9h0M256.7 221.1h0M196.1 209.6h0M211.9 211.5h0M212.3 211.7h0M274.3 228.7h0M263.3 232.7h0M277.9 178.2h0M225.0 173.1h0M265.2 218.1h0M227.5 259.5h0M224.1 187.2h0M254.4 239.1h0M232.3 277.3h0M264.3 155.5h0M271.7 163.7h0M267.5 222.1h0M282.2 219.0h0M199.7 226.6h0M264.9 161.4h0M260.8 230.4h0M278.9 261.2h0M202.6 237.8h0M265.7 270.3h0M225.3 248.5h0M229.0 233.4h0M265.0 193.9h0M257.3 164.9h0M232.9 168.1h0M225.2 187.4h0M272.9 161.3h0M257.9 172.2h0M214.1 197.9h0M243.0 179.8h0M269.4 166.1h0M226.6 251.5h0M262.3 180.0h0M279.9 219.4h0M181.7 212.1h0M250.8 184.2h0M226.1 181.6h0M274.8 265.2h0M230.0 234.2h0M185.9 229.4h0M221.6 248.2h0M240.1 237.4h0M192.4 227.2h0M245.6 150.6h0M230.2 200.9h0M215.8 245.4h0M188.4 206.4h0M241.8 191.4h0M216.9 191.1h0M193.8 242.6h0M251.1 279.2h0M226.9 269.9h0M263.6 162.4h0M182.8 233.2h0M242.8 212.7h0M211.0 181.5h0M264.5 257.7h0M215.8 205.5h0M261.4 211.4h0M244.1 216.5h0M245.6 276.0h0M276.0 211.1h0M250.4 210.1h0M186.4 206.3h0M258.8 222.4h0M211.5 262.2h0M215.4 260.2h0M249.8 179.0h0M277.2 212.9h0M274.7 161.5h0M233.9 165.0h0M204.9 206.8h0M192.9 215.0h0M261.1 200.1h0M273.6 163.7h0M257.9 239.6h0M226.2 188.3h0M245.4 253.1h0M277.4 257.4h0M203.8 189.7h0M238.9 156.1h0M260.4 170.3h0M203.9 264.5h0M263.6 255.8h0M221.0 178.2h0M268.5 180.8h0M214.9 187.6h0M236.4 192.5h0M242.6 254.2h0M247.8 163.1h0M250.5 254.6h0M211.7 238.2h0M216.9 195.0h0M196.8 244.7h0M178.2 218.6h0M213.2 269.0h0M269.3 201.3h0M261.2 155.6h0M276.6 256.1h0M226.3 183.0h0M271.4 201.8h0M239.7 175.2h0M268.8 181.7h0M270.5 229.0h0M274.8 240.7h0M264.3 195.5h0M222.5 258.0h0M257.0 163.7h0M276.6 216.6h0M259.0 216.9h0M215.6 262.6h0M238.6 220.8h0M274.5 184.3h0M209.1 207.9h0M228.3 198.4h0M254.2 166.9h0M273.0 190.0h0M218.7 195.8h0M214.6 237.6h0M248.0 270.3h0M266.5 200.8h0M269.9 175.0h0M244.8 165.7h0M200.1 230.4h0M263.6 156.6h0M236.3 207.7h0M217.6 223.8h0M250.1 160.0h0M276.9 182.1h0M191.8 214.3h0M262.1 157.6h0M195.0 194.8h0M252.8 164.9h0M237.3 219.8h0M287.4 218.2h0M177.2 216.9h0M259.9 156.9h0M216.4 229.9h0M218.5 202.6h0M279.8 250.2h0M217.0 190.5h0M265.3 253.4h0M227.3 159.2h0M203.2 200.1h0M260.9 238.8h0M238.6 160.6h0M218.4 271.0h0M247.1 186.7h0M210.1 177.4h0M234.4 163.8h0M208.3 205.0h0M240.5 175.0h0M224.9 209.0h0M237.7 170.3h0M247.9 152.4h0M272.2 248.2h0M231.5 191.7h0M264.1 255.9h0M262.8 167.2h0M273.9 253.6h0M250.1 162.3h0M219.9 192.1h0M227.7 263.7h0M242.9 153.5h0M248.2 160.1h0M279.9 226.4h0M253.3 254.9h0M209.3 174.7h0M211.8 262.7h0M188.8 243.0h0M273.3 201.5h0M240.9 196.9h0M221.1 239.0h0M232.8 255.9h0M270.2 162.0h0M204.6 186.3h0M226.3 172.4h0M260.5 183.5h0M183.6 210.9h0M247.2 162.3h0M251.9 238.3h0M207.3 246.1h0M226.5 157.7h0M220.9 207.4h0M246.8 235.2h0M195.5 208.7h0M280.5 243.0h0M256.1 216.8h0M245.7 156.7h0M235.2 236.9h0M268.5 225.7h0M204.5 227.9h0M272.0 176.1h0M244.8 281.3h0M252.9 151.2h0M232.1 158.2h0M262.6 192.5h0M256.6 169.4h0M215.1 194.3h0M221.7 252.9h0M212.3 204.7h0M221.3 200.7h0M283.2 253.4h0M208.1 202.1h0M221.1 261.2h0M259.6 165.1h0M269.3 176.7h0M256.6 173.5h0M192.8 204.0h0M258.0 227.0h0M269.8 241.3h0M192.5 231.4h0M219.4 191.6h0M268.1 169.5h0M208.3 249.5h0M206.9 269.5h0M271.5 169.1h0M245.5 221.4h0M265.5 171.5h0M234.7 213.7h0M218.5 245.4h0M246.9 240.2h0M171.7 242.2h0M211.4 174.1h0M239.4 269.2h0M212.8 228.2h0M278.2 215.7h0M215.6 186.3h0M274.1 261.5h0M220.7 194.1h0M208.9 194.3h0M237.4 185.4h0M185.6 225.0h0M276.0 182.2h0M194.4 244.3h0M237.5 250.5h0M227.1 275.6h0M171.3 230.7h0M269.2 164.2h0M236.9 182.6h0M274.2 229.7h0M192.1 212.6h0M275.1 171.6h0M208.1 200.2h0M275.0 235.9h0M215.5 234.6h0M208.1 222.1h0M278.0 182.4h0M239.4 175.3h0M225.0 188.2h0M233.8 221.4h0M279.5 222.9h0M231.3 188.1h0M276.7 205.2h0M206.9 188.5h0M206.0 221.7h0M234.4 161.6h0M232.8 251.2h0M278.3 203.6h0M177.9 231.1h0M192.4 218.5h0M237.9 196.4h0M220.7 201.2h0M252.7 219.9h0M259.0 190.4h0M238.6 159.7h0M276.7 216.5h0M224.6 170.9h0M201.2 186.4h0M211.1 217.2h0M269.4 239.9h0M218.7 200.3h0M206.8 227.1h0M286.7 246.9h0M262.1 187.1h0M225.0 161.9h0M274.1 180.2h0M249.7 276.2h0M282.3 214.8h0M232.3 211.6h0M243.2 239.5h0M170.4 234.9h0M171.8 228.5h0M269.1 238.6h0M285.7 256.0h0M258.0 201.3h0M193.4 235.7h0M277.0 194.9h0M200.3 234.4h0M241.3 244.4h0M220.4 170.7h0M213.0 216.3h0M269.7 205.3h0M271.8 216.4h0M229.5 158.6h0M200.1 192.5h0M226.5 238.3h0M276.0 185.5h0M230.7 210.5h0M192.6 265.9h0M248.0 268.9h0M256.7 254.4h0M186.4 220.5h0M237.5 223.8h0M254.4 255.6h0M212.7 239.6h0M252.4 261.7h0M272.3 174.3h0M278.4 232.3h0M234.0 267.6h0M215.9 175.0h0M254.0 246.9h0M259.4 206.9h0M225.7 213.7h0M190.9 235.9h0M242.4 173.3h0M198.1 261.6h0M247.6 250.3h0M272.2 220.4h0M287.0 249.1h0M237.3 160.9h0M176.1 246.3h0M231.8 164.3h0M262.1 255.0h0M252.3 154.0h0M274.3 173.9h0M203.3 194.2h0M189.9 214.4h0M260.6 184.4h0M171.0 223.8h0M245.5 163.0h0M237.3 254.3h0M266.0 250.3h0M215.6 231.1h0M181.4 236.4h0M213.1 239.3h0M265.0 167.3h0M206.4 199.8h0M263.4 265.8h0M268.7 221.9h0M246.5 222.9h0M199.3 248.7h0M253.8 184.9h0M210.2 205.0h0M193.2 219.3h0M274.9 176.2h0M199.5 254.5h0M227.9 185.6h0M249.4 212.0h0M223.6 182.9h0M265.4 162.6h0M265.9 188.2h0M188.3 227.3h0M240.7 239.0h0M205.3 231.5h0M272.5 253.9h0M259.6 266.9h0M254.0 161.8h0M252.6 181.7h0M229.7 256.0h0M228.2 169.0h0M224.3 188.9h0M268.8 266.3h0M214.1 192.2h0M265.8 230.2h0M264.7 269.7h0M257.9 220.0h0M220.0 268.0h0M239.5 169.3h0M213.0 202.4h0M223.6 169.2h0M258.5 218.9h0M210.1 258.9h0M279.5 187.2h0M253.8 264.5h0M209.7 255.4h0M217.7 186.7h0M230.0 173.0h0M195.6 218.4h0M221.1 208.1h0M238.4 172.8h0M209.4 247.6h0M256.1 181.7h0M239.8 274.9h0M187.1 240.3h0M266.6 239.0h0M226.2 256.4h0M203.6 225.9h0M279.8 222.4h0M243.8 270.1h0M279.9 212.1h0M253.1 263.0h0M226.3 205.5h0M240.9 269.1h0M212.1 233.0h0M255.4 224.0h0M197.0 219.2h0M268.1 170.7h0M264.0 159.1h0M204.5 195.9h0M245.5 190.0h0M225.4 187.2h0M211.6 189.3h0M192.2 219.4h0M254.6 182.3h0M265.7 166.8h0M200.3 228.6h0M280.0 182.5h0M254.8 274.0h0M264.9 236.5h0M188.0 241.4h0M277.1 188.9h0M240.6 225.6h0M268.8 200.9h0M217.6 210.5h0M274.0 255.7h0M173.6 246.0h0M235.5 234.0h0M269.5 177.8h0M178.6 220.1h0M267.2 214.3h0M257.1 230.8h0M256.6 171.9h0M253.6 171.6h0M198.9 228.4h0M258.1 164.6h0M259.4 182.7h0M269.0 181.9h0M269.9 177.5h0M213.8 217.8h0M229.6 264.3h0M231.4 257.2h0M276.9 256.6h0M198.9 203.6h0M253.4 208.0h0M228.3 207.1h0M272.2 168.6h0M272.1 178.2h0M209.1 185.6h0M247.2 166.3h0M219.2 250.8h0M192.7 235.6h0M231.8 179.9h0M255.0 173.9h0M251.8 156.8h0M232.5 202.5h0M282.8 233.7h0M193.2 186.9h0M261.1 157.9h0M234.3 216.3h0M196.3 228.1h0M204.9 268.5h0M256.9 182.1h0M226.0 196.7h0M201.7 233.8h0M247.7 162.8h0M225.2 187.5h0M273.4 223.4h0M195.4 240.2h0M284.4 249.1h0M239.0 189.0h0M215.8 216.9h0M264.1 229.6h0M194.6 206.9h0M224.8 267.3h0M275.4 190.8h0M222.4 231.1h0M246.3 210.2h0M258.7 163.6h0M190.6 240.5h0M208.9 199.5h0M252.2 152.4h0M249.6 152.2h0M195.3 216.5h0M283.0 208.3h0M199.2 258.4h0M246.9 172.1h0M205.1 201.8h0M241.4 258.9h0M192.1 197.5h0M234.0 267.2h0M260.9 178.3h0M194.7 224.6h0M196.4 211.5h0M175.1 246.2h0M226.3 191.8h0M235.7 222.1h0M245.1 204.4h0M178.9 213.6h0M171.9 227.5h0M236.4 269.9h0M220.7 189.1h0M271.1 266.6h0M227.5 211.3h0M246.3 188.2h0M273.0 235.2h0M205.9 185.9h0M245.4 160.9h0M275.7 174.5h0M192.5 228.8h0M270.2 267.2h0M275.6 241.3h0M173.8 221.6h0M255.1 169.1h0M248.3 178.3h0M250.1 254.0h0M284.8 202.1h0M191.7 238.8h0M226.4 277.1h0M255.5 161.4h0M263.7 251.1h0M271.2 231.5h0M262.2 186.9h0M209.3 239.7h0M186.0 201.4h0M276.2 197.9h0M226.8 164.4h0M217.4 229.5h0M240.4 198.0h0M214.0 214.4h0M213.4 209.8h0M203.1 250.5h0M211.6 232.9h0M222.3 179.0h0M180.3 216.8h0M254.2 170.4h0M237.1 276.0h0M201.9 219.8h0M183.7 222.9h0M208.3 225.3h0M214.6 207.3h0M279.1 174.3h0M232.2 183.4h0M206.8 260.3h0M232.2 231.1h0M267.6 228.2h0M258.1 160.1h0M190.5 234.6h0M263.0 178.4h0M270.5 261.5h0M186.8 197.7h0M234.0 191.9h0M194.2 202.6h0M278.3 245.3h0M268.4 162.8h0M236.0 164.2h0M197.2 214.8h0M188.9 217.1h0M203.8 223.7h0M223.7 263.2h0M263.5 160.6h0M248.6 199.3h0M207.0 213.8h0M180.5 215.4h0M251.2 165.2h0M274.7 233.2h0M249.3 150.4h0M254.9 211.1h0M218.6 190.4h0M233.1 251.6h0M262.5 233.3h0M239.1 248.1h0M275.5 197.9h0M254.3 205.1h0M201.0 240.0h0M245.6 159.8h0M257.5 170.3h0M203.6 213.5h0M214.4 182.4h0M228.5 220.9h0M196.7 239.8h0M205.8 264.8h0M220.1 233.9h0M272.4 228.2h0M197.3 194.2h0M269.7 168.0h0M222.3 192.3h0M267.2 170.1h0M270.6 200.8h0M236.8 194.4h0M266.5 233.8h0M169.5 227.9h0M232.4 243.6h0M211.2 195.6h0M235.1 157.8h0M252.3 151.9h0M208.7 192.6h0M240.7 191.7h0M209.7 212.0h0M222.0 200.5h0M186.5 243.0h0M247.9 243.9h0M238.1 270.8h0M250.9 238.6h0M217.6 245.2h0M204.0 241.2h0M268.3 195.3h0M217.6 257.7h0M236.8 245.0h0M247.1 178.7h0M282.6 176.5h0M266.3 183.1h0M234.9 216.5h0M213.6 215.2h0M262.2 189.9h0M178.7 218.0h0M266.2 186.2h0M180.8 216.3h0M274.3 238.9h0M242.2 231.6h0M220.3 239.9h0M183.7 230.0h0M231.3 261.7h0M228.6 250.9h0M233.6 234.6h0M236.1 263.6h0M206.1 268.4h0M269.6 271.8h0M234.6 251.0h0M218.3 243.5h0M226.5 167.6h0M287.8 221.3h0M231.5 249.0h0M190.3 211.8h0M240.7 251.2h0M236.7 228.2h0M207.5 263.2h0M242.1 241.6h0M203.1 210.5h0M265.2 247.7h0M212.4 185.0h0M237.7 273.1h0M236.5 153.3h0M191.2 192.5h0M268.2 154.7h0M273.5 258.2h0M171.2 219.0h0M271.3 167.7h0M267.5 162.9h0M210.8 221.3h0M260.8 163.5h0M197.5 222.9h0M265.5 207.3h0M241.8 167.3h0M280.4 188.6h0M250.0 210.1h0M196.5 270.1h0M236.8 159.8h0M246.0 206.9h0M271.5 239.1h0M213.1 185.7h0M180.0 225.8h0M249.6 260.9h0M244.0 168.2h0M191.3 195.9h0M257.9 176.6h0M234.0 200.3h0M231.9 187.2h0M271.0 256.1h0M239.3 217.0h0M212.3 267.7h0M247.4 222.3h0M274.5 220.4h0M241.9 247.1h0M181.4 219.6h0M202.0 179.1h0M223.7 199.2h0M265.8 220.6h0M206.5 213.5h0M276.3 166.0h0M208.7 178.0h0M264.6 173.2h0M235.1 218.8h0M249.4 151.8h0M274.6 223.5h0M226.4 216.6h0M261.5 201.6h0M258.0 178.6h0M194.3 208.0h0M255.1 168.1h0M283.8 231.3h0M239.8 239.1h0M191.1 257.2h0M252.2 168.7h0M235.7 182.5h0M226.2 219.6h0M230.1 193.7h0M237.2 159.4h0M244.8 172.0h0M223.6 169.0h0M255.6 214.7h0M278.8 179.1h0M279.8 180.7h0M203.1 199.8h0M206.8 262.2h0M215.2 237.3h0M218.9 197.1h0M237.5 272.9h0M268.4 210.1h0M188.6 241.6h0M249.5 158.5h0M202.7 266.2h0M237.9 265.3h0M215.5 215.5h0M302.1 177.4h0M304.9 144.5h0M316.9 167.4h0M308.4 174.7h0M319.6 190.6h0M313.3 134.9h0M320.2 177.9h0M320.2 163.3h0M332.2 174.9h0M298.0 178.4h0M295.4 156.8h0M315.6 168.0h0M326.3 149.2h0M303.4 146.6h0M304.2 155.8h0M335.3 159.2h0M324.3 149.4h0M325.1 151.9h0M307.4 149.6h0M300.4 169.8h0M313.1 185.3h0M328.8 187.1h0M313.8 144.8h0M307.3 131.8h0M317.3 158.5h0M320.3 151.4h0M323.4 166.0h0M315.0 163.5h0M299.6 131.6h0M296.3 182.5h0M337.2 162.4h0M329.6 178.9h0M300.4 133.0h0M311.8 145.1h0M342.3 161.0h0M324.2 157.6h0M323.9 164.1h0M311.1 133.4h0M328.1 146.4h0M324.8 163.4h0M310.7 135.1h0M314.3 130.2h0M303.5 168.1h0M297.0 138.9h0M326.7 142.1h0M328.4 152.0h0M315.2 141.6h0M309.5 125.9h0M323.0 162.7h0M301.5 168.9h0M294.6 180.0h0M316.8 147.6h0M316.4 191.3h0M291.0 148.2h0M309.6 161.6h0M316.1 180.9h0M310.4 194.8h0M319.0 151.3h0M339.0 168.6h0M302.9 169.6h0M319.9 189.3h0M301.9 137.6h0M319.5 177.4h0M337.4 177.2h0M322.1 176.0h0M324.6 145.2h0M295.6 147.6h0M320.3 156.4h0M311.7 133.8h0M337.3 166.9h0M312.2 126.9h0M299.0 142.0h0M292.4 160.2h0M294.4 149.8h0M320.7 173.1h0M294.9 181.7h0M312.9 148.6h0M310.3 169.6h0M308.2 130.0h0M339.1 182.3h0M326.0 179.9h0M307.4 163.5h0M324.9 182.9h0M296.3 181.2h0M339.5 169.2h0M308.3 143.7h0M332.3 174.5h0M320.6 138.7h0M314.6 134.7h0M304.2 165.2h0M318.1 140.1h0M299.2 184.8h0M323.0 161.2h0M301.5 158.8h0M326.0 183.3h0M296.5 173.1h0M318.6 156.6h0M322.2 174.7h0M321.0 189.5h0M320.6 179.0h0M299.8 126.0h0M291.2 151.7h0M320.5 166.6h0M312.7 137.7h0M316.4 171.0h0M297.5 128.8h0M339.9 158.5h0M301.7 185.2h0M338.4 165.4h0M313.5 149.7h0M309.5 168.7h0M297.5 165.4h0M317.7 162.3h0M308.0 173.4h0M297.7 140.4h0M316.8 178.0h0M321.4 188.6h0M294.7 154.2h0M325.5 178.2h0M291.6 168.7h0M309.8 156.6h0M324.6 164.1h0M298.6 170.7h0M315.0 149.6h0M333.4 168.4h0M295.5 152.3h0M296.1 132.8h0M332.4 157.0h0M333.8 158.1h0M305.6 181.3h0M309.4 176.5h0M304.3 152.3h0M302.0 141.2h0M317.9 176.9h0M332.6 181.5h0M308.8 157.5h0M324.4 140.5h0M315.1 135.2h0M300.9 126.1h0M308.3 137.1h0M312.1 157.3h0M303.8 147.5h0M296.2 192.9h0M324.8 155.6h0M308.4 154.8h0M322.3 157.7h0M298.3 161.0h0M327.8 174.8h0M317.2 146.5h0M316.8 166.4h0M322.1 141.1h0M311.2 178.6h0M330.8 146.3h0M294.9 176.8h0M330.8 156.0h0M324.4 194.5h0M321.9 152.1h0M307.0 149.2h0M325.4 172.2h0M323.0 165.1h0M323.0 157.3h0M306.3 174.3h0M299.9 142.3h0M321.7 184.7h0M304.4 136.5h0M296.2 181.0h0M304.4 134.6h0M305.0 188.4h0M296.0 173.4h0M304.1 151.5h0M304.4 126.3h0M296.5 154.8h0M330.7 169.5h0M307.9 156.6h0M318.9 181.8h0M315.3 168.1h0M255.0 54.8h0M255.0 64.0h0M237.3 93.9h0M262.1 89.6h0M243.2 73.2h0M240.9 60.7h0M239.9 52.7h0M232.1 71.2h0M254.1 64.1h0M238.4 62.5h0M254.6 72.1h0M265.0 65.8h0M253.0 72.8h0M242.7 47.4h0M246.3 51.7h0M250.9 44.9h0M253.7 67.3h0M236.1 48.1h0M252.4 55.2h0M249.6 58.7h0M240.3 66.9h0M243.4 51.7h0M245.3 49.6h0M243.7 42.2h0M251.9 99.9h0M230.7 100.4h0M241.1 98.1h0M260.9 65.4h0M245.9 43.7h0M246.2 65.8h0M251.0 74.9h0M259.6 89.8h0M237.3 76.8h0M249.7 59.3h0M253.4 83.6h0M240.9 51.2h0M255.7 55.0h0M242.7 41.8h0M245.2 78.4h0M247.4 60.2h0M252.3 96.2h0M240.1 48.6h0M238.8 85.4h0M233.7 70.1h0M258.1 52.6h0M249.4 58.0h0M232.8 76.1h0M240.1 61.7h0M247.5 84.5h0M261.3 72.0h0M253.0 46.3h0M248.4 46.5h0M257.5 67.1h0M256.4 70.8h0M258.7 67.4h0M231.6 71.0h0M244.4 71.1h0M239.0 75.6h0M235.9 58.2h0M249.9 52.3h0M256.1 91.9h0M261.8 70.8h0M247.2 52.4h0M248.3 74.9h0M250.6 55.8h0M241.4 75.3h0M254.8 54.0h0M246.0 59.1h0M260.9 79.0h0M240.5 62.7h0M254.9 59.7h0M224.9 78.6h0M251.2 63.2h0M257.3 62.2h0M248.4 65.7h0M240.7 52.9h0M234.6 94.7h0M244.1 39.5h0M243.5 61.6h0M236.2 95.1h0M251.6 54.9h0M248.6 53.8h0M254.8 65.6h0M242.4 44.1h0M247.1 54.4h0M240.8 53.8h0M261.9 87.1h0M259.4 59.6h0M241.0 67.2h0M246.0 46.1h0M252.3 83.1h0M242.8 59.3h0M235.2 66.5h0M243.7 54.9h0M257.6 55.9h0M236.2 75.0h0M252.4 76.7h0M255.9 81.3h0M235.1 54.9h0M257.2 58.7h0M247.4 49.4h0M253.0 48.7h0M243.0 44.7h0M255.4 61.6h0M253.4 90.5h0M232.2 79.9h0M234.7 60.9h0M256.2 74.2h0M231.9 101.2h0M258.6 56.7h0M237.4 53.4h0M248.6 53.9h0M239.9 55.3h0M254.0 74.0h0M245.6 52.4h0M242.2 65.7h0M250.0 55.3h0M245.9 84.3h0M251.1 58.9h0M250.2 102.6h0M253.3 87.4h0M236.3 51.6h0M255.7 73.4h0M248.7 48.2h0M244.7 65.9h0M254.5 68.6h0M255.6 73.1h0M236.8 64.8h0M238.7 70.0h0M257.2 63.5h0M246.1 57.0h0M254.7 72.3h0M240.5 73.5h0M254.5 56.3h0M248.1 43.8h0M234.6 87.4h0M241.1 66.8h0M258.3 53.1h0M241.6 42.2h0M235.8 58.2h0M246.5 83.4h0M255.9 55.4h0M257.2 62.5h0M259.2 76.2h0M250.3 69.4h0M256.7 85.2h0M235.8 61.2h0M227.5 90.8h0M237.3 83.9h0M232.1 98.8h0M233.3 65.2h0M247.8 70.4h0M239.5 81.4h0M240.3 58.6h0M255.5 54.4h0M261.2 58.7h0M228.2 70.3h0M235.6 81.9h0M261.8 70.4h0M247.4 53.7h0M255.0 58.1h0M235.4 75.3h0M247.7 46.8h0M251.3 69.1h0M266.3 78.3h0M244.8 99.8h0M235.2 73.7h0M225.7 91.7h0M239.5 43.6h0M237.9 85.9h0M242.9 80.7h0M230.0 85.1h0M229.5 84.6h0M231.3 79.9h0M248.9 45.9h0M254.6 53.4h0M249.6 57.1h0M263.8 64.0h0M244.7 57.0h0M243.9 72.0h0M243.1 63.5h0M248.8 47.5h0M254.3 86.8h0M251.5 61.5h0M251.2 96.4h0M243.1 57.2h0M247.2 84.7h0M245.2 88.8h0M253.6 45.6h0M246.6 51.9h0M230.5 92.0h0M236.7 79.3h0M250.7 55.2h0M242.0 44.5h0M255.3 76.9h0M248.5 59.4h0M246.7 76.0h0M233.7 67.1h0M231.7 79.2h0M256.0 86.7h0M237.7 50.4h0M246.3 59.3h0M246.8 46.1h0M244.1 61.6h0M245.9 74.2h0M258.6 78.2h0M245.6 48.2h0M227.7 96.7h0M248.0 55.7h0M242.1 60.8h0M245.2 38.4h0M234.2 63.3h0M247.2 60.6h0M247.3 50.1h0M244.7 57.0h0M241.8 90.4h0M93.9 212.6h0M85.4 210.6h0M90.3 205.5h0M83.8 182.2h0M94.8 186.8h0M82.8 198.2h0M81.9 202.1h0M79.7 207.9h0M88.7 186.2h0M80.1 198.8h0M97.0 209.9h0M96.3 206.8h0M79.4 195.3h0M93.4 198.2h0M90.0 181.7h0M91.1 206.6h0M92.3 193.6h0M89.6 182.6h0M89.1 178.1h0M90.4 202.2h0M92.2 197.4h0M92.7 201.2h0M83.9 204.0h0M84.7 188.4h0M81.3 197.1h0M89.9 211.7h0M78.7 201.9h0M80.6 194.2h0M85.5 173.7h0M94.0 200.5h0M95.2 209.2h0M86.2 213.6h0M90.2 211.5h0M89.8 195.4h0M91.8 211.8h0M83.5 186.2h0M83.4 203.6h0M82.6 177.9h0M83.6 195.5h0M89.5 208.6h0M86.9 204.2h0M79.8 188.5h0M88.5 191.5h0M90.7 204.8h0M85.4 196.5h0M89.4 209.9h0M85.0 179.2h0M94.1 194.3h0M80.7 186.7h0M82.7 194.4h0M83.0 191.3h0M89.2 177.3h0M80.9 202.1h0M82.4 210.9h0M78.0 195.4h0M86.6 203.6h0M82.6 199.5h0M86.8 185.6h0M81.3 193.6h0M84.5 197.7h0M88.1 197.4h0M81.6 193.5h0M89.3 207.5h0M95.3 203.0h0M97.8 204.2h0M88.2 189.9h0M85.7 200.6h0M95.8 207.0h0M85.9 195.9h0M81.3 194.7h0M78.8 194.2h0M93.2 204.6h0M95.3 203.3h0M92.4 200.7h0M83.4 185.5h0M78.5 189.0h0M75.2 194.8h0M89.0 200.5h0M83.7 194.2h0M84.4 207.2h0M82.4 196.3h0M88.8 182.2h0M92.5 184.7h0M90.0 209.5h0M87.5 193.3h0M89.6 209.8h0M80.0 204.2h0M87.2 196.8h0M83.1 204.5h0M79.8 202.6h0M89.3 178.2h0M88.7 206.8h0M87.9 186.9h0M93.4 205.7h0M91.5 187.7h0M82.9 196.9h0M93.2 191.6h0M94.7 208.5h0M86.8 212.3h0M89.8 181.0h0M89.3 180.7h0M84.7 183.9h0M93.1 183.5h0M88.0 186.0h0M94.3 189.7h0M78.0 196.7h0M97.2 206.2h0M82.6 192.6h0M90.3 198.9h0M81.7 207.8h0M85.8 201.3h0M87.5 202.9h0M91.9 203.3h0M95.1 188.9h0M76.8 189.5h0M84.8 188.8h0M94.0 203.2h0M96.2 204.9h0M96.1 198.0h0M87.4 202.3h0M86.6 204.5h0M90.8 197.2h0M89.6 203.8h0M87.6 179.5h0M82.9 178.5h0M88.4 178.2h0M91.5 178.3h0M84.3 208.7h0M94.4 215.3h0M99.4 208.9h0M92.6 195.3h0M92.6 206.2h0M86.9 205.0h0M81.1 200.0h0M87.9 185.8h0M92.2 185.6h0M82.4 188.0h0M92.7 210.7h0M89.9 191.5h0M85.6 176.8h0M84.9 212.4h0M79.1 206.7h0M95.9 194.8h0M85.2 179.4h0M86.4 188.7h0M86.9 204.9h0M84.5 188.9h0M92.8 197.4h0M97.2 197.5h0M77.9 196.7h0M87.2 191.0h0M79.6 197.7h0M88.4 201.6h0M90.8 198.2h0M96.8 201.3h0M88.9 185.7h0M87.2 188.8h0M89.1 209.3h0M90.6 181.9h0M91.0 208.4h0M78.5 194.7h0M81.9 196.2h0M83.6 193.6h0M90.9 200.2h0M88.7 189.6h0M91.5 205.7h0M86.8 205.4h0M92.4 202.1h0M83.8 194.0h0M77.6 203.2h0M89.5 180.0h0M84.3 184.6h0M92.1 192.7h0M81.8 205.1h0M77.8 188.9h0M82.5 189.5h0M87.2 197.2h0M93.5 192.9h0M97.0 204.9h0M89.5 182.7h0M96.9 206.4h0M85.9 206.7h0M93.5 204.4h0M81.2 206.1h0M77.2 193.7h0M93.1 207.1h0M78.2 192.2h0M90.3 183.7h0M100.3 201.7h0M80.2 199.7h0M97.2 215.5h0M81.8 207.4h0M90.2 201.0h0M81.0 186.9h0M87.8 180.5h0M83.1 193.0h0M87.6 175.5h0M78.9 201.2h0M86.7 201.2h0M82.6 195.4h0M82.4 196.8h0M79.6 187.6h0M87.5 179.0h0M82.2 183.6h0M88.2 183.9h0M90.8 186.4h0M79.6 203.7h0M92.0 208.7h0M97.0 210.8h0M94.6 212.4h0M80.1 192.8h0M79.6 203.6h0M86.0 211.9h0M85.7 181.1h0M77.3 200.2h0M90.9 212.3h0M85.4 189.4h0M88.5 191.4h0M80.1 207.3h0M91.0 199.8h0M95.1 190.3h0M91.0 201.2h0M94.0 202.7h0M91.5 191.1h0M96.4 202.4h0M88.1 178.0h0M88.5 176.1h0M82.2 187.2h0M94.7 205.9h0M85.0 191.9h0M86.6 210.6h0M82.7 187.2h0M91.8 192.8h0M90.8 211.3h0M86.0 208.5h0M89.9 182.9h0M89.8 199.8h0M89.3 216.2h0M98.5 203.9h0M90.6 193.1h0M78.8 197.5h0M86.3 185.7h0M78.2 192.0h0M83.9 189.4h0M91.9 211.5h0M83.6 183.7h0M95.0 192.5h0M80.7 200.8h0M81.2 188.5h0M94.2 212.8h0M92.6 208.7h0M84.7 187.0h0M78.4 188.7h0M92.7 194.4h0M86.3 175.2h0M86.4 208.8h0M90.3 180.3h0M91.9 208.0h0M92.1 191.6h0M91.6 204.0h0M80.6 211.8h0M80.5 188.3h0M87.3 183.1h0M97.6 211.1h0M86.5 196.8h0M94.3 209.7h0M87.8 195.3h0M87.7 208.1h0M95.4 210.8h0M92.3 201.4h0M89.3 205.9h0M89.2 180.8h0M79.8 191.8h0M82.1 199.4h0M83.5 192.1h0M89.1 205.6h0M92.1 187.9h0M80.1 192.0h0M92.4 202.2h0M93.5 182.4h0M75.4 198.3h0M86.5 186.5h0M83.2 182.5h0M95.9 187.4h0M94.7 192.3h0M87.8 204.5h0M97.2 203.5h0M94.7 214.2h0M80.1 199.8h0M87.9 207.5h0M82.8 200.2h0M98.7 212.1h0M78.3 186.1h0M83.6 195.2h0M86.0 201.1h0M78.2 207.2h0M84.1 192.6h0M95.1 204.4h0M76.0 193.1h0M85.6 187.2h0M92.5 188.7h0M83.5 178.7h0M92.2 191.4h0M90.9 188.9h0M87.0 190.1h0M87.9 211.7h0M88.0 195.7h0M92.8 200.5h0M97.2 198.8h0M93.5 194.1h0M88.7 197.4h0M92.5 191.9h0M78.5 192.0h0M93.9 200.3h0M84.6 184.7h0M84.3 192.2h0M82.5 201.3h0M90.4 207.4h0M99.5 210.2h0M91.2 202.5h0M84.4 184.0h0M84.9 186.1h0M83.8 200.7h0M80.6 207.9h0M81.7 203.0h0M86.3 187.0h0M91.5 180.3h0M86.4 211.9h0M78.3 196.9h0M87.5 195.8h0M79.2 201.4h0M86.6 204.3h0M79.5 191.2h0M87.3 205.9h0M95.4 197.5h0M97.1 210.7h0M81.1 197.5h0M81.9 208.8h0M84.3 194.0h0M84.2 196.9h0M90.7 184.8h0M85.5 196.9h0M88.9 196.9h0M94.9 199.6h0M80.5 192.3h0M91.6 195.1h0M86.1 176.6h0M84.0 181.4h0M77.7 183.8h0M99.2 205.4h0M82.3 187.5h0M94.2 176.9h0M82.2 205.8h0M79.4 189.2h0M88.6 201.7h0M90.2 179.6h0M85.7 211.6h0M80.1 188.0h0M88.6 210.0h0M80.4 180.8h0M84.2 209.3h0M83.3 191.2h0M79.2 205.1h0M89.5 185.6h0M91.2 208.9h0M95.9 208.2h0M92.3 205.4h0M86.4 208.0h0M88.7 174.4h0M83.3 211.1h0M82.0 182.1h0M97.4 204.0h0M81.0 194.5h0M86.8 192.7h0M78.8 189.1h0M89.3 193.8h0M90.3 208.6h0M93.1 198.2h0M83.0 187.4h0M79.1 196.7h0M96.0 207.8h0M86.7 198.0h0M96.6 209.0h0M90.8 190.9h0M90.2 206.1h0M82.7 207.2h0M90.6 192.0h0M94.7 205.4h0M82.4 188.5h0M99.6 203.6h0M87.6 185.9h0M80.9 182.5h0M82.6 212.4h0M90.0 181.7h0M81.8 203.1h0M84.0 192.8h0M87.9 188.5h0M91.1 195.2h0M86.7 174.9h0M83.7 208.2h0M83.9 194.4h0M92.7 199.3h0M77.7 193.5h0M84.4 181.2h0M94.1 202.0h0M87.5 176.9h0M95.6 200.7h0M98.3 202.4h0M96.5 194.8h0M88.2 209.6h0M87.0 197.9h0M88.9 180.3h0M95.8 205.7h0M87.5 179.5h0M79.6 207.0h0M90.5 201.1h0M84.5 211.3h0M83.9 191.8h0M81.8 194.1h0M89.8 214.1h0M80.6 194.0h0M74.4 191.9h0M88.2 179.6h0M78.3 203.8h0M89.1 203.8h0M78.7 204.3h0M77.8 189.5h0M84.1 186.2h0M84.0 184.0h0M95.0 197.8h0M82.5 193.0h0M90.1 195.6h0M90.2 192.4h0M80.1 182.5h0M93.8 197.8h0M91.0 211.0h0M79.6 203.0h0M92.0 194.8h0M87.4 208.9h0M91.2 193.5h0M81.9 202.2h0M79.5 186.9h0M90.1 194.3h0M78.0 197.6h0M92.0 209.9h0M90.7 201.8h0M81.4 201.5h0M97.1 209.6h0M88.3 179.5h0M81.2 180.4h0M82.4 199.4h0M81.5 202.3h0M90.2 184.9h0M88.7 184.9h0M80.6 200.3h0M81.7 200.9h0M87.7 184.9h0M90.0 187.4h0M85.5 188.4h0M84.4 205.0h0M89.4 187.7h0M90.1 191.8h0M87.1 204.7h0M88.3 194.3h0M90.5 186.5h0M93.0 211.3h0M93.7 189.7h0M84.5 174.8h0M98.8 204.7h0M84.5 195.7h0M93.1 202.6h0M87.4 202.0h0M81.8 204.7h0M86.8 191.6h0M79.5 208.1h0M97.3 211.3h0M93.5 192.7h0M87.1 179.4h0M96.6 211.3h0M74.4 200.4h0M81.3 198.7h0M92.0 214.5h0M89.3 199.0h0M92.4 215.1h0M89.3 190.5h0M76.2 190.0h0M88.8 177.2h0M89.6 207.7h0M90.7 193.2h0M87.2 184.8h0M91.9 184.6h0M79.5 196.1h0M86.9 208.7h0M83.7 195.7h0M82.8 186.1h0M85.2 199.6h0M85.6 174.4h0M91.0 200.1h0M84.6 195.7h0M81.9 205.1h0M91.2 208.6h0M95.0 193.5h0M81.9 185.3h0M85.9 188.6h0M85.1 179.6h0M82.0 189.4h0M92.2 184.2h0M90.7 208.4h0M83.9 173.8h0M99.0 204.7h0M96.7 206.8h0M86.8 195.1h0M84.7 182.4h0M80.2 196.7h0M80.0 187.4h0M83.1 209.6h0M98.5 196.9h0M83.5 194.5h0M94.1 215.1h0M92.5 187.7h0M81.3 202.6h0M101.0 206.8h0M95.1 209.7h0M88.8 180.9h0M91.6 206.2h0M85.2 212.8h0M95.8 196.1h0M87.0 176.3h0M92.7 202.9h0M85.3 205.2h0M88.1 210.6h0M89.6 201.6h0M88.2 197.5h0M95.5 209.9h0M85.5 181.3h0M90.2 186.5h0M75.7 194.3h0M84.3 198.2h0M85.4 211.0h0M83.6 184.9h0M91.8 195.6h0M86.7 208.2h0M88.1 177.9h0M97.9 200.3h0M97.3 200.3h0M87.6 179.1h0M79.9 188.9h0M90.0 197.6h0M79.7 201.2h0M92.4 193.4h0M94.9 194.1h0M87.9 192.3h0M92.4 209.3h0M99.5 206.5h0M86.2 199.3h0M83.6 191.8h0M84.1 181.9h0M94.4 204.7h0M75.9 208.2h0M89.9 180.6h0M90.9 190.5h0M97.2 207.7h0M91.0 185.4h0M80.4 195.0h0M95.2 207.0h0M91.9 190.9h0M85.8 186.6h0M88.8 212.7h0M82.7 191.9h0M79.9 185.9h0M84.4 186.3h0M77.6 200.2h0M81.0 208.4h0M85.5 189.3h0M90.5 188.1h0M86.4 212.3h0M88.4 209.1h0M90.7 194.7h0M90.2 201.2h0M88.6 173.1h0M81.4 191.1h0M80.9 197.2h0M85.5 194.8h0M92.7 187.6h0M87.2 211.0h0M90.2 194.3h0M98.1 201.3h0M75.8 203.7h0M91.2 188.8h0M86.1 186.3h0M92.5 199.0h0M96.2 198.3h0M96.0 205.6h0M97.6 211.0h0M77.6 190.3h0M90.0 206.4h0M90.3 180.3h0M88.3 194.6h0M85.4 214.3h0M80.9 184.1h0M77.6 193.4h0M82.3 197.3h0M78.2 200.4h0M81.5 206.2h0M90.9 188.0h0M91.1 213.0h0M87.1 212.2h0M88.8 207.0h0M94.0 191.0h0M89.5 183.6h0M81.1 208.6h0M85.6 206.0h0M84.5 179.7h0M86.6 201.7h0M85.6 206.0h0M80.9 190.7h0M92.4 194.4h0M94.0 189.6h0M85.4 195.9h0M89.4 199.1h0M85.2 203.0h0M80.1 196.6h0M93.5 212.1h0M90.6 184.3h0M93.8 199.2h0M84.4 182.3h0M91.4 183.1h0M88.2 185.9h0M89.0 211.5h0M92.2 215.8h0M92.3 207.0h0M86.0 180.1h0M82.9 194.6h0M85.7 207.0h0M87.5 177.3h0M85.4 194.8h0M82.2 207.2h0M89.6 185.7h0M88.5 182.0h0M88.5 202.9h0M86.5 178.7h0M77.6 200.5h0M92.4 212.5h0M87.3 179.7h0M83.9 202.9h0M87.2 202.5h0M85.1 185.3h0M95.7 209.6h0M84.1 189.7h0M87.0 210.2h0M83.7 178.0h0M89.6 186.6h0M94.5 193.8h0M78.4 196.8h0M79.4 202.5h0M92.6 191.2h0M95.3 210.8h0M75.1 198.0h0M88.9 214.3h0M80.8 198.9h0M88.5 212.0h0M85.9 182.3h0M86.1 184.7h0M81.1 193.1h0M87.7 192.2h0M92.7 203.6h0M83.7 206.0h0M84.1 182.8h0M79.6 189.2h0M81.3 197.6h0M91.8 188.3h0M84.5 204.0h0M79.3 200.6h0M82.5 196.9h0M79.5 188.2h0M78.3 198.0h0M96.5 208.2h0M81.9 196.9h0M80.1 204.6h0M89.0 180.5h0M86.2 181.4h0M91.0 192.1h0M94.2 188.0h0M79.2 201.9h0M85.7 209.3h0M85.6 191.0h0M77.7 205.2h0M82.4 195.0h0M86.2 208.7h0M81.0 189.2h0M101.0 205.9h0M88.4 192.6h0M95.8 201.1h0M99.2 207.2h0M95.0 200.2h0M85.6 203.3h0M82.3 210.8h0M85.8 211.6h0M88.7 199.7h0M79.3 200.5h0M84.1 208.7h0M89.6 199.2h0M83.6 197.8h0M88.2 197.0h0M79.0 201.0h0M85.8 190.8h0M79.3 189.0h0M88.0 199.1h0M78.3 207.3h0M78.1 184.5h0M84.3 202.3h0M88.9 180.9h0M82.6 184.0h0M84.3 181.5h0M91.1 185.5h0M94.2 188.2h0M86.5 205.0h0M91.0 178.5h0M94.4 200.9h0M84.6 187.2h0M84.3 187.7h0M80.4 192.0h0M79.0 190.5h0M63.4 208.8h0M61.8 209.3h0M58.6 210.5h0M62.4 208.8h0M66.8 207.4h0M64.0 209.3h0M58.7 210.7h0M60.5 211.0h0M60.8 210.3h0M61.4 210.0h0M58.3 211.3h0M64.1 208.3h0M61.8 210.3h0M61.6 209.1h0M64.7 207.1h0M65.7 207.8h0M58.5 210.5h0M105.9 192.0h0M105.9 207.7h0M109.7 202.9h0M105.4 206.3h0M108.9 198.6h0M102.4 193.4h0M101.7 189.9h0M110.0 198.4h0M101.5 191.4h0M111.6 193.3h0M99.6 202.8h0M98.5 206.8h0M213.8 282.9h0M194.9 280.8h0M201.8 291.1h0M200.7 288.4h0M201.6 280.1h0M201.0 292.8h0M205.1 291.5h0M205.1 287.9h0M203.7 289.7h0M198.4 279.3h0M204.7 275.7h0M204.3 277.0h0M209.7 276.3h0M204.3 287.9h0M198.7 279.4h0M203.4 290.1h0M283.2 304.1h0M268.1 325.7h0M265.8 314.9h0M278.6 312.3h0M274.4 321.8h0M261.0 324.4h0M275.9 322.3h0M273.5 330.6h0M279.5 322.3h0M268.6 326.2h0M261.1 313.4h0M284.6 298.9h0M268.6 318.7h0M271.6 315.5h0M264.8 298.0h0M274.4 313.7h0M273.8 327.7h0M284.4 292.0h0M276.5 330.3h0M283.0 311.3h0M284.4 289.7h0M279.3 325.4h0M268.5 320.5h0M274.2 294.3h0M277.0 335.4h0M262.8 305.3h0M267.3 315.1h0M266.4 302.4h0M272.9 318.9h0M281.6 326.0h0M262.1 327.2h0M268.9 293.5h0M279.7 317.8h0M276.4 316.9h0M260.1 305.5h0M263.8 297.6h0M258.3 313.6h0M262.6 299.9h0M275.5 332.6h0M287.5 304.3h0M282.4 308.9h0M278.3 308.8h0M272.4 326.9h0M277.5 292.0h0M278.4 324.9h0M268.0 307.4h0M281.8 308.5h0M291.7 322.0h0M277.0 301.0h0M286.1 323.7h0M280.1 304.8h0M281.7 317.9h0M266.7 314.2h0M261.3 315.4h0M278.8 328.9h0M278.3 287.1h0M273.4 311.7h0M306.2 267.0h0M326.4 299.2h0M333.5 288.8h0M311.9 272.1h0M316.6 276.5h0M319.3 273.4h0M312.1 274.3h0M311.4 268.5h0M313.9 279.9h0M297.8 261.4h0M303.7 265.9h0M303.2 260.2h0M325.8 281.7h0M300.5 265.0h0M335.3 300.5h0M320.0 279.9h0M329.0 292.7h0M330.1 294.3h0M326.4 280.8h0M331.6 289.5h0M331.1 290.3h0M298.5 260.9h0M303.0 271.4h0M332.6 296.5h0M335.3 297.1h0M320.3 274.3h0M324.1 294.9h0M332.0 290.0h0M321.5 274.7h0M330.8 294.9h0M322.9 296.7h0M323.6 294.6h0M321.7 282.8h0M314.9 277.7h0M326.9 292.6h0M318.7 274.5h0M315.9 273.4h0M333.1 300.3h0M327.4 278.8h0M316.3 277.1h0M321.7 291.1h0M320.3 280.1h0M306.6 265.0h0M300.8 271.0h0M315.1 285.1h0M327.9 299.6h0M313.5 276.9h0M298.6 265.4h0M325.6 286.7h0M338.0 294.3h0M334.2 293.9h0M331.2 301.3h0M329.0 280.4h0M309.2 270.9h0M301.6 266.4h0M330.5 296.7h0M324.0 280.5h0M322.9 290.0h0M319.0 284.2h0M296.4 257.2h0M315.8 271.5h0M313.8 273.3h0M306.5 269.1h0M330.6 300.7h0M324.9 283.2h0M310.3 274.6h0M327.8 288.4h0M304.0 264.9h0M302.8 268.1h0M334.0 282.3h0M318.6 271.6h0M300.5 264.1h0M326.9 293.9h0M303.2 267.3h0M331.2 282.5h0M314.0 271.2h0M304.1 259.3h0M302.3 260.6h0M326.8 290.6h0M323.4 289.6h0M312.5 269.5h0M311.5 272.4h0M331.3 300.6h0M331.3 299.4h0M336.4 291.5h0M334.0 284.3h0M335.0 299.2h0M335.3 293.3h0M336.8 292.0h0M336.4 298.2h0M335.9 291.9h0M204.8 294.4h0M207.5 293.6h0M203.8 297.0h0M188.0 239.5h0M264.7 202.1h0M274.6 230.3h0M204.1 255.0h0M242.4 191.3h0M231.6 204.0h0M201.1 205.0h0M247.0 157.0h0M159.6 235.0h0M200.4 263.5h0M194.3 182.5h0M217.6 177.2h0M214.6 214.9h0M286.2 273.1h0M263.5 244.9h0M171.9 252.8h0M211.1 213.6h0M236.4 275.8h0M208.5 199.4h0M214.2 239.8h0M275.0 185.2h0M294.4 269.3h0M248.2 199.8h0M210.9 265.3h0M245.9 187.2h0M224.5 237.7h0M201.9 169.3h0M169.5 212.2h0M203.5 202.6h0M203.4 234.8h0M281.5 156.8h0M222.5 152.0h0M233.7 165.7h0M236.2 275.2h0M269.8 227.3h0M241.3 214.3h0M245.1 222.1h0M271.0 285.4h0M263.7 273.8h0M297.3 222.6h0M274.7 288.7h0M281.4 153.5h0M277.5 220.2h0M223.8 280.9h0M204.1 269.5h0M202.5 238.7h0M187.5 266.3h0M254.2 168.7h0M254.0 145.2h0M253.0 280.0h0M222.9 274.1h0M204.2 277.0h0M258.4 157.7h0M173.4 217.5h0M183.6 247.5h0M233.1 181.7h0M294.5 217.5h0M288.2 245.3h0M293.0 203.9h0M287.6 146.9h0M301.1 149.6h0M322.3 158.1h0M331.4 196.3h0M343.3 155.8h0M310.3 175.6h0M306.9 150.7h0M312.0 185.9h0M306.7 154.3h0M294.6 154.7h0M337.7 159.8h0M298.3 149.9h0M331.7 138.7h0M286.9 134.0h0M327.0 173.0h0M334.7 145.3h0M344.8 170.1h0M320.3 175.7h0" stroke="#A9DDF1" stroke-width="1" stroke-linecap="round" fill="none" opacity="0.68"/>
<path d="M259.2 227.7h0M237.4 217.0h0M257.2 270.0h0M201.9 255.7h0M249.6 275.3h0M281.7 260.4h0M257.9 151.0h0M248.8 218.7h0M254.2 238.1h0M236.0 196.0h0M257.2 267.3h0M283.1 238.6h0M284.6 221.4h0M226.4 156.7h0M265.7 184.3h0M249.6 200.3h0M227.4 225.0h0M228.7 249.3h0M265.8 199.0h0M239.1 268.8h0M226.4 163.4h0M279.4 252.7h0M234.6 253.8h0M236.7 191.9h0M190.2 230.3h0M277.0 230.2h0M250.6 279.0h0M218.9 269.2h0M206.6 189.7h0M223.1 175.1h0M250.3 266.6h0M251.8 218.9h0M230.7 225.1h0M209.9 222.2h0M171.2 233.4h0M244.0 152.8h0M251.5 248.3h0M201.4 207.6h0M193.3 191.1h0M276.9 173.2h0M217.2 241.3h0M250.7 225.3h0M248.4 226.0h0M207.1 253.6h0M218.3 218.1h0M270.3 260.6h0M241.7 240.0h0M192.0 209.9h0M185.1 204.5h0M272.5 212.4h0M245.8 250.7h0M251.0 236.4h0M213.2 177.4h0M223.3 165.7h0M280.2 239.0h0M197.4 229.1h0M193.0 221.1h0M275.6 257.8h0M206.7 244.2h0M256.0 265.5h0M219.2 266.5h0M195.5 202.8h0M271.5 161.0h0M284.0 260.6h0M264.8 246.8h0M226.6 263.9h0M285.9 229.8h0M209.6 186.0h0M284.4 217.2h0M183.4 230.7h0M223.0 177.7h0M193.6 205.2h0M209.6 239.6h0M216.3 244.8h0M256.8 199.0h0M275.1 231.7h0M233.8 241.3h0M238.8 218.0h0M185.9 207.3h0M201.9 243.9h0M175.6 247.0h0M217.3 262.7h0M253.1 222.8h0M248.0 211.6h0M257.4 224.0h0M215.7 216.9h0M253.4 239.1h0M209.9 184.5h0M276.2 268.3h0M258.1 274.1h0M228.3 254.9h0M268.2 211.0h0M246.1 209.1h0M270.7 262.3h0M257.7 206.7h0M233.0 213.8h0M172.3 224.8h0M207.6 243.2h0M258.1 179.5h0M221.4 256.3h0M246.6 256.0h0M218.4 166.6h0M221.3 272.8h0M249.1 152.3h0M264.2 230.4h0M196.3 214.5h0M237.4 224.6h0M233.1 156.9h0M282.9 223.1h0M209.9 207.6h0M280.6 176.9h0M229.4 258.9h0M248.0 202.7h0M246.6 191.3h0M248.1 261.6h0M239.2 189.1h0M273.6 236.6h0M258.7 179.1h0M205.3 268.8h0M206.7 238.1h0M205.7 230.9h0M281.2 249.4h0M261.2 223.9h0M281.0 185.6h0M269.8 263.2h0M219.0 259.0h0M255.5 252.4h0M263.5 268.7h0M186.0 201.6h0M223.2 177.3h0M245.9 171.8h0M241.5 161.0h0M261.2 222.2h0M238.0 232.6h0M206.4 237.1h0M228.4 249.5h0M235.6 253.8h0M227.5 173.3h0M285.5 229.7h0M264.1 246.1h0M284.7 223.9h0M215.5 229.3h0M250.7 209.9h0M268.7 274.6h0M255.0 233.2h0M195.2 252.9h0M204.5 241.7h0M206.5 225.9h0M187.8 242.5h0M195.9 194.6h0M204.2 236.1h0M276.6 228.8h0M286.9 244.4h0M251.4 220.8h0M247.9 187.0h0M244.8 223.2h0M279.2 197.4h0M211.8 178.7h0M208.8 178.2h0M256.5 272.1h0M256.8 239.7h0M233.7 201.4h0M183.4 239.8h0M249.7 226.2h0M215.7 239.9h0M210.6 220.7h0M283.9 223.9h0M171.9 230.0h0M201.6 262.5h0M213.8 244.7h0M186.4 257.3h0M241.8 167.0h0M204.5 190.6h0M215.5 236.2h0M198.1 258.7h0M265.4 225.0h0M266.4 229.3h0M233.6 181.6h0M207.6 222.1h0M264.1 213.6h0M270.5 251.1h0M254.2 259.3h0M276.4 235.0h0M250.6 255.9h0M244.0 195.9h0M214.1 173.6h0M275.3 191.4h0M212.3 227.6h0M271.2 245.1h0M266.5 226.2h0M280.3 261.7h0M283.2 191.9h0M221.9 248.2h0M261.8 265.6h0M176.6 216.3h0M192.7 200.4h0M226.5 252.9h0M258.1 168.2h0M233.5 214.2h0M175.4 220.2h0M190.4 215.8h0M279.9 224.4h0M260.2 183.3h0M259.2 222.6h0M231.2 175.3h0M281.2 215.1h0M183.1 212.9h0M186.0 225.8h0M249.9 159.3h0M179.1 235.4h0M282.3 209.8h0M276.0 263.3h0M227.3 217.0h0M262.3 197.2h0M173.0 237.9h0M262.7 265.9h0M263.9 189.7h0M252.0 167.6h0M199.9 256.5h0M283.8 234.2h0M232.8 218.0h0M198.9 256.9h0M203.7 204.7h0M194.6 249.3h0M233.0 241.3h0M253.7 240.9h0M258.9 265.6h0M247.8 213.9h0M241.8 241.8h0M267.3 248.9h0M246.0 279.9h0M198.6 187.5h0M224.5 178.7h0M269.0 206.4h0M248.8 178.0h0M202.5 183.7h0M279.1 251.3h0M275.3 237.8h0M280.6 249.0h0M209.5 254.6h0M278.2 240.4h0M224.5 257.2h0M264.0 182.8h0M218.1 250.4h0M214.2 256.8h0M220.2 213.4h0M273.0 200.0h0M186.9 247.4h0M229.0 267.6h0M189.9 223.6h0M257.9 197.8h0M283.3 242.2h0M219.4 244.3h0M196.1 252.8h0M215.5 267.5h0M195.3 202.2h0M233.4 226.7h0M269.6 175.9h0M228.4 246.5h0M247.2 252.2h0M262.6 241.7h0M281.2 265.7h0M196.5 188.0h0M275.0 239.4h0M188.2 213.9h0M200.9 211.5h0M196.3 225.7h0M278.1 268.2h0M263.6 214.9h0M262.9 271.9h0M231.6 193.5h0M214.3 191.1h0M238.4 245.1h0M253.8 207.7h0M265.5 196.2h0M198.6 230.8h0M187.8 261.3h0M211.1 235.2h0M183.8 215.9h0M278.3 219.0h0M255.6 229.1h0M275.4 222.7h0M238.9 162.8h0M185.6 245.4h0M200.7 236.9h0M224.7 189.5h0M176.6 232.7h0M223.2 227.9h0M206.0 182.8h0M202.4 240.0h0M267.8 228.1h0M214.5 223.9h0M241.2 252.7h0M289.6 229.7h0M281.3 221.2h0M264.3 270.1h0M268.6 270.2h0M204.0 188.6h0M225.0 181.9h0M272.1 226.0h0M176.8 236.3h0M180.0 238.9h0M235.5 206.9h0M217.7 272.2h0M221.0 180.9h0M186.2 252.4h0M195.9 218.5h0M244.9 159.7h0M269.9 228.5h0M220.9 266.1h0M202.0 258.1h0M181.9 246.1h0M252.2 193.0h0M260.4 190.9h0M242.5 261.7h0M199.8 253.6h0M203.0 219.7h0M276.0 260.0h0M240.7 263.4h0M243.4 263.4h0M216.3 262.1h0M214.5 233.3h0M274.7 245.4h0M235.1 192.6h0M181.2 239.5h0M201.0 240.2h0M193.5 188.6h0M266.1 170.4h0M242.3 254.5h0M278.5 175.2h0M246.9 254.2h0M217.8 163.7h0M188.1 194.8h0M227.9 205.1h0M277.9 199.2h0M250.8 254.9h0M215.9 251.0h0M244.7 253.4h0M275.4 203.9h0M279.5 262.7h0M239.7 245.0h0M228.2 172.9h0M194.0 195.0h0M243.5 152.9h0M250.1 154.8h0M232.0 191.9h0M249.2 255.1h0M205.7 219.8h0M232.4 259.0h0M264.1 166.9h0M267.9 256.3h0M235.8 279.0h0M200.1 232.7h0M258.0 237.6h0M251.2 218.0h0M241.8 247.3h0M184.4 255.8h0M251.5 179.6h0M277.7 231.9h0M238.2 187.0h0M202.9 221.3h0M243.1 252.0h0M223.0 230.9h0M223.6 268.0h0M212.3 194.2h0M214.8 182.9h0M212.6 245.2h0M219.7 216.2h0M198.5 194.6h0M263.2 222.9h0M216.6 168.7h0M195.0 209.3h0M270.6 185.8h0M248.2 169.0h0M271.6 192.3h0M182.5 226.8h0M246.0 244.0h0M253.5 222.4h0M269.9 262.4h0M241.5 253.9h0M254.6 222.4h0M212.1 202.4h0M200.3 187.9h0M261.2 162.3h0M206.4 271.7h0M202.1 213.8h0M249.0 227.2h0M168.3 233.4h0M195.7 211.6h0M229.6 270.7h0M222.2 192.4h0M218.8 186.5h0M244.7 154.0h0M225.1 213.0h0M209.0 223.5h0M211.9 260.6h0M202.9 180.0h0M240.7 159.8h0M220.5 272.5h0M249.7 258.1h0M275.7 249.2h0M212.2 262.8h0M186.8 260.9h0M181.3 221.2h0M172.4 230.1h0M278.7 208.3h0M241.3 156.2h0M174.8 228.2h0M184.4 233.1h0M251.8 216.7h0M201.1 270.0h0M277.2 175.0h0M265.6 256.5h0M252.8 265.9h0M268.9 230.5h0M238.5 264.1h0M192.8 254.1h0M186.3 256.2h0M215.1 173.0h0M203.5 236.8h0M259.6 268.8h0M272.0 268.1h0M214.7 203.5h0M189.3 227.2h0M265.1 258.8h0M253.9 254.1h0M178.8 217.1h0M178.1 241.9h0M247.0 175.4h0M198.1 227.9h0M199.8 205.4h0M213.1 210.5h0M265.3 275.1h0M270.0 198.9h0M188.4 208.3h0M198.3 183.9h0M228.8 208.3h0M227.3 160.4h0M240.3 256.3h0M204.2 196.3h0M252.4 274.5h0M172.4 220.3h0M251.2 157.7h0M216.8 222.4h0M192.1 230.3h0M282.4 205.7h0M204.3 222.9h0M247.7 267.0h0M250.2 191.6h0M202.3 199.9h0M232.6 255.3h0M230.7 210.3h0M254.5 277.2h0M251.1 189.1h0M212.7 252.1h0M201.6 224.3h0M224.3 266.2h0M282.2 257.2h0M274.8 224.6h0M203.3 246.2h0M285.0 251.9h0M212.1 231.2h0M238.6 268.6h0M227.7 251.8h0M211.6 270.4h0M262.7 248.2h0M195.3 234.2h0M253.4 167.8h0M273.1 193.4h0M271.1 220.1h0M258.3 200.0h0M246.8 247.3h0M185.0 243.2h0M248.4 236.8h0M275.9 185.5h0M270.1 238.4h0M249.8 270.0h0M246.3 223.1h0M249.2 171.1h0M265.0 214.3h0M197.3 264.8h0M249.2 236.0h0M217.7 247.9h0M271.0 227.8h0M257.5 241.5h0M215.7 191.6h0M248.9 234.1h0M195.1 212.7h0M212.2 249.9h0M248.3 277.0h0M268.3 213.1h0M248.7 186.1h0M213.6 207.1h0M217.3 200.0h0M231.5 251.1h0M267.5 254.8h0M177.7 218.2h0M274.3 201.7h0M198.9 217.0h0M282.6 214.1h0M261.1 167.8h0M234.5 170.4h0M225.9 207.8h0M272.9 207.2h0M252.9 214.3h0M182.8 245.3h0M265.8 222.5h0M207.2 226.9h0M248.8 157.8h0M287.2 209.9h0M229.3 160.9h0M220.7 254.6h0M171.3 219.4h0M253.7 274.4h0M193.0 256.4h0M274.3 263.8h0M257.2 189.5h0M257.2 264.4h0M197.3 263.3h0M251.7 193.5h0M286.5 211.9h0M254.4 196.3h0M277.4 271.8h0M251.1 273.2h0M222.6 215.9h0M223.5 183.8h0M248.2 185.8h0M193.4 268.4h0M250.1 214.7h0M215.5 203.6h0M237.2 223.9h0M272.7 222.9h0M263.5 157.6h0M270.4 203.4h0M272.1 233.5h0M268.0 220.9h0M219.9 247.0h0M225.0 262.3h0M226.2 185.6h0M283.6 191.4h0M264.7 250.1h0M248.6 178.8h0M221.9 240.0h0M202.4 203.9h0M216.8 212.8h0M250.5 157.0h0M273.3 194.8h0M273.8 253.5h0M250.7 245.1h0M278.4 255.6h0M270.2 196.2h0M204.4 248.5h0M282.2 196.9h0M239.5 180.9h0M170.8 239.9h0M266.9 192.8h0M260.5 183.4h0M259.6 246.4h0M225.1 243.9h0M231.2 155.8h0M190.3 239.5h0M273.9 183.7h0M180.4 215.4h0M265.6 270.6h0M197.4 239.7h0M234.7 252.8h0M171.5 232.2h0M236.8 177.3h0M232.7 224.1h0M242.3 241.9h0M213.8 263.9h0M256.7 162.3h0M237.4 179.2h0M229.2 258.9h0M270.6 253.2h0M252.9 158.4h0M266.6 268.1h0M254.5 261.6h0M213.6 271.1h0M214.6 214.1h0M263.9 272.7h0M199.1 216.1h0M234.1 177.9h0M225.9 196.4h0M224.4 274.1h0M234.1 269.7h0M267.5 183.0h0M167.3 231.9h0M275.1 200.1h0M260.4 224.1h0M230.1 205.8h0M253.9 246.6h0M272.6 257.6h0M256.2 247.2h0M266.5 197.3h0M239.7 257.0h0M221.2 193.9h0M193.7 252.3h0M268.2 264.4h0M266.3 271.3h0M221.3 205.1h0M279.0 209.1h0M260.2 271.4h0M206.2 264.0h0M248.2 261.8h0M279.6 186.3h0M217.6 180.1h0M183.9 224.2h0M266.0 175.6h0M273.0 264.0h0M251.9 171.6h0M252.3 241.9h0M255.2 236.9h0M286.1 236.7h0M190.3 246.4h0M242.5 175.8h0M266.2 226.0h0M202.1 259.5h0M219.0 253.3h0M244.7 209.4h0M260.7 217.5h0M262.3 178.4h0M180.4 229.2h0M240.5 224.9h0M253.8 263.6h0M204.6 263.9h0M255.1 211.9h0M186.1 213.7h0M244.4 202.3h0M277.3 247.0h0M277.4 250.2h0M271.4 233.2h0M229.9 192.7h0M202.0 225.9h0M243.9 223.9h0M200.9 207.8h0M239.3 251.7h0M202.2 254.9h0M238.2 204.0h0M198.5 224.7h0M182.9 222.8h0M281.7 242.7h0M231.7 162.9h0M182.2 232.8h0M255.4 171.9h0M223.3 178.9h0M201.6 208.4h0M236.4 250.5h0M271.7 225.8h0M275.5 214.1h0M203.6 189.8h0M240.6 180.6h0M274.0 266.4h0M228.3 215.9h0M224.8 239.1h0M273.5 239.3h0M280.9 215.1h0M261.2 232.5h0M249.3 227.7h0M244.5 169.8h0M184.2 227.6h0M253.4 260.9h0M234.0 159.0h0M224.8 246.6h0M216.5 171.8h0M190.0 216.6h0M277.1 262.5h0M243.9 166.2h0M254.1 271.0h0M277.1 184.5h0M277.5 239.3h0M220.3 190.0h0M179.1 243.8h0M253.2 258.0h0M246.6 173.9h0M250.7 170.6h0M257.2 277.3h0M177.8 224.3h0M256.6 222.9h0M223.3 261.2h0M242.4 271.0h0M283.0 258.3h0M194.4 219.5h0M253.9 206.6h0M266.2 175.7h0M213.5 187.5h0M277.5 219.0h0M261.6 254.3h0M286.6 232.6h0M252.5 267.9h0M242.3 241.9h0M192.6 195.2h0M201.7 207.9h0M195.6 251.5h0M254.1 211.9h0M249.0 198.0h0M276.0 186.0h0M275.8 225.9h0M278.2 210.8h0M199.0 250.9h0M210.7 262.0h0M258.0 270.0h0M216.6 174.6h0M265.9 272.0h0M192.2 228.2h0M208.1 223.6h0M239.8 234.4h0M274.2 256.3h0M284.0 213.7h0M246.7 173.3h0M247.0 186.1h0M266.2 273.3h0M244.5 159.3h0M245.0 193.0h0M237.1 265.3h0M260.7 206.1h0M262.1 190.9h0M271.8 250.5h0M239.4 218.9h0M188.9 232.2h0M243.4 152.5h0M245.8 178.4h0M233.6 232.0h0M267.0 237.3h0M240.1 226.6h0M198.1 247.8h0M187.4 222.6h0M265.1 214.0h0M259.1 204.7h0M188.4 222.3h0M261.8 219.2h0M233.6 157.5h0M182.0 246.2h0M184.6 229.1h0M272.0 168.7h0M259.1 193.9h0M266.4 228.2h0M275.1 189.6h0M221.1 181.5h0M261.6 188.2h0M195.4 208.7h0M193.6 230.4h0M248.3 166.8h0M189.5 244.4h0M277.8 247.4h0M172.9 226.6h0M194.3 200.1h0M285.7 248.3h0M279.8 239.0h0M225.4 179.4h0M263.8 233.8h0M258.3 192.0h0M274.2 219.5h0M200.3 238.0h0M218.2 242.6h0M226.8 167.8h0M192.6 227.3h0M213.6 184.2h0M259.5 197.5h0M230.5 251.5h0M235.9 188.1h0M219.2 210.6h0M278.2 260.2h0M271.6 185.5h0M201.7 227.2h0M217.3 191.9h0M225.3 220.4h0M275.3 259.9h0M277.2 249.6h0M282.5 201.0h0M243.7 200.5h0M220.5 276.7h0M257.2 219.9h0M202.4 244.3h0M169.1 231.3h0M186.4 214.6h0M210.7 213.5h0M211.7 175.9h0M215.8 252.8h0M211.6 243.6h0M247.2 151.2h0M248.7 267.5h0M232.1 241.9h0M244.4 184.2h0M183.8 202.5h0M255.1 245.9h0M247.4 237.4h0M241.7 233.2h0M219.7 196.6h0M234.4 182.9h0M240.8 271.8h0M268.4 182.3h0M234.9 213.7h0M195.5 216.2h0M232.8 260.9h0M209.3 194.6h0M274.1 268.0h0M228.6 191.6h0M211.8 249.7h0M214.7 172.0h0M276.5 238.5h0M239.4 242.2h0M269.9 231.7h0M182.1 255.6h0M276.6 163.2h0M188.1 230.8h0M282.9 206.2h0M173.7 240.4h0M264.3 169.9h0M195.7 257.4h0M188.1 256.4h0M257.9 192.5h0M254.1 175.2h0M270.3 218.5h0M259.2 174.1h0M267.9 183.1h0M229.2 162.0h0M266.9 236.1h0M183.1 199.4h0M232.2 239.4h0M197.0 241.4h0M262.2 271.8h0M251.0 249.2h0M260.6 249.6h0M219.1 251.7h0M223.3 217.8h0M222.0 192.7h0M215.5 260.2h0M214.2 243.3h0M269.8 268.7h0M219.0 166.8h0M203.8 263.0h0M187.2 232.4h0M235.6 243.2h0M274.4 253.8h0M222.2 229.9h0M272.0 228.0h0M252.5 271.0h0M241.6 214.9h0M241.0 157.0h0M232.1 182.2h0M173.1 222.8h0M287.2 216.5h0M232.8 273.5h0M181.8 232.4h0M173.5 216.6h0M188.1 216.4h0M238.7 279.7h0M276.8 226.7h0M200.6 185.9h0M263.6 161.0h0M255.1 254.4h0M232.9 205.2h0M190.1 248.1h0M256.1 269.1h0M201.4 269.6h0M196.1 234.5h0M232.4 217.3h0M276.5 174.4h0M267.8 234.0h0M260.3 201.7h0M257.2 193.2h0M207.6 231.0h0M200.4 251.8h0M284.2 213.2h0M203.9 266.4h0M230.6 157.5h0M270.3 258.9h0M195.0 243.0h0M267.2 239.8h0M233.5 253.8h0M205.2 176.5h0M215.9 253.3h0M187.6 229.5h0M227.7 176.0h0M193.9 206.2h0M230.8 191.1h0M268.6 253.5h0M246.0 156.8h0M239.9 168.7h0M176.9 221.6h0M242.1 228.4h0M266.2 235.3h0M205.1 254.7h0M223.3 182.5h0M257.8 167.0h0M176.4 232.0h0M227.9 163.8h0M203.0 228.6h0M244.4 191.9h0M208.0 183.7h0M261.8 263.0h0M266.2 189.1h0M233.0 266.6h0M244.0 181.8h0M247.6 275.3h0M185.3 243.5h0M258.9 266.4h0M232.2 240.2h0M272.9 239.1h0M189.1 205.4h0M228.5 222.4h0M281.7 182.5h0M284.2 231.0h0M195.2 235.7h0M280.3 266.8h0M248.3 215.1h0M237.4 250.2h0M239.2 179.8h0M194.2 193.4h0M264.6 248.3h0M191.2 239.9h0M194.1 194.9h0M179.1 240.0h0M275.8 263.5h0M178.7 209.5h0M222.9 220.5h0M235.4 174.1h0M220.5 164.2h0M222.9 225.7h0M197.3 189.5h0M243.4 188.6h0M266.9 203.7h0M262.4 204.1h0M240.6 233.8h0M243.4 259.0h0M207.6 225.0h0M253.1 194.0h0M216.1 249.2h0M222.2 233.6h0M274.6 266.7h0M270.2 179.9h0M204.9 228.5h0M256.3 246.8h0M261.6 260.6h0M203.2 198.4h0M237.5 155.9h0M202.3 250.6h0M224.0 228.8h0M226.1 209.1h0M226.5 263.9h0M210.5 221.9h0M233.4 274.7h0M201.8 209.7h0M235.3 266.7h0M182.1 209.9h0M280.8 230.6h0M220.2 167.4h0M254.7 248.0h0M269.1 262.5h0M220.7 181.3h0M208.7 253.7h0M177.3 243.2h0M275.5 228.5h0M249.7 246.1h0M222.6 198.9h0M213.1 188.7h0M193.3 258.2h0M185.1 227.0h0M249.1 236.4h0M184.2 203.8h0M258.6 212.8h0M199.7 232.0h0M252.6 263.0h0M230.4 259.7h0M225.2 221.2h0M229.3 170.9h0M252.6 261.5h0M213.0 258.6h0M197.6 252.5h0M207.8 176.2h0M264.7 266.2h0M174.1 216.0h0M213.5 254.7h0M250.9 255.1h0M238.5 156.5h0M226.2 223.3h0M260.4 185.6h0M258.9 258.7h0M205.3 258.5h0M237.6 162.4h0M195.6 196.8h0M234.2 171.4h0M225.5 201.2h0M210.9 230.8h0M207.9 259.8h0M230.5 250.8h0M250.1 269.4h0M240.8 263.6h0M180.9 230.2h0M228.3 244.7h0M195.8 267.2h0M204.7 238.7h0M171.3 225.0h0M254.4 239.1h0M212.2 199.4h0M226.1 241.5h0M231.7 236.2h0M202.9 225.0h0M179.9 208.8h0M252.3 211.9h0M237.7 247.8h0M261.2 173.1h0M222.5 258.0h0M226.0 268.6h0M194.6 243.5h0M243.2 180.0h0M246.6 217.3h0M248.5 267.5h0M285.9 201.8h0M200.9 233.3h0M266.4 198.4h0M199.6 213.5h0M230.5 193.7h0M258.8 267.3h0M262.1 218.9h0M271.5 174.7h0M199.7 194.0h0M267.8 192.3h0M257.3 241.0h0M203.2 200.0h0M256.3 224.9h0M193.8 218.4h0M205.2 181.5h0M270.4 233.4h0M243.8 213.9h0M271.7 256.2h0M243.0 263.4h0M236.9 238.3h0M282.7 193.2h0M210.9 248.4h0M275.7 170.0h0M238.4 250.1h0M212.3 263.5h0M257.1 179.4h0M246.1 212.8h0M238.9 251.7h0M248.9 278.3h0M228.4 232.4h0M251.4 163.2h0M222.4 230.9h0M278.9 264.7h0M260.1 269.9h0M221.3 162.4h0M259.2 241.7h0M267.1 190.2h0M263.5 252.1h0M268.3 274.8h0M280.9 221.1h0M280.5 186.6h0M218.8 164.2h0M216.6 198.4h0M220.0 250.6h0M247.6 173.8h0M233.2 192.2h0M181.2 229.8h0M204.6 193.1h0M224.2 188.3h0M260.5 254.0h0M285.6 250.6h0M255.1 175.3h0M265.9 239.3h0M275.3 257.9h0M235.6 181.5h0M220.7 218.8h0M180.3 235.1h0M258.4 237.0h0M270.1 255.9h0M231.9 254.6h0M234.7 236.4h0M206.6 184.1h0M249.2 178.8h0M176.7 235.1h0M186.4 200.9h0M283.7 225.6h0M214.6 178.5h0M279.3 255.7h0M212.1 271.2h0M196.5 256.5h0M191.1 245.1h0M261.1 222.7h0M253.3 248.6h0M250.5 268.1h0M235.6 189.3h0M167.9 225.7h0M261.7 198.3h0M262.5 244.5h0M263.4 199.3h0M191.1 234.3h0M208.0 180.0h0M271.7 256.1h0M250.0 263.1h0M219.2 168.3h0M218.8 219.8h0M271.8 233.7h0M263.1 254.6h0M254.5 269.2h0M213.3 196.9h0M228.8 244.9h0M192.1 206.3h0M197.5 226.6h0M275.4 213.4h0M194.7 238.4h0M170.1 233.7h0M276.2 192.6h0M278.7 223.1h0M232.7 240.5h0M246.0 224.3h0M261.6 204.1h0M264.7 272.5h0M224.6 271.6h0M262.4 238.2h0M227.3 230.9h0M206.2 186.7h0M168.8 236.3h0M273.8 213.9h0M181.8 250.3h0M215.1 189.3h0M230.3 266.8h0M256.0 178.2h0M211.0 272.6h0M255.2 224.8h0M210.9 211.7h0M232.7 243.1h0M177.2 243.5h0M267.9 212.6h0M188.6 256.8h0M270.9 242.8h0M214.1 239.3h0M217.2 197.7h0M194.8 216.2h0M205.0 220.7h0M245.3 224.6h0M182.9 230.0h0M215.0 227.0h0M226.4 253.5h0M247.6 202.0h0M210.8 265.1h0M285.0 213.6h0M255.4 258.8h0M202.3 256.1h0M195.6 242.7h0M201.1 241.2h0M216.3 262.1h0M213.5 241.0h0M208.5 219.3h0M254.1 247.1h0M219.7 174.2h0M186.4 224.0h0M228.3 166.8h0M223.1 244.5h0M183.6 247.0h0M225.8 206.4h0M197.5 197.2h0M268.9 217.6h0M236.1 274.3h0M187.6 232.9h0M263.2 242.5h0M221.8 273.2h0M253.9 149.8h0M287.3 229.7h0M285.1 221.8h0M223.4 228.2h0M234.7 182.9h0M178.7 216.5h0M192.4 198.6h0M269.4 197.8h0M257.4 245.5h0M228.5 205.1h0M191.5 229.3h0M203.0 262.7h0M209.7 249.5h0M231.9 236.4h0M254.5 217.4h0M199.5 244.0h0M216.7 172.2h0M245.0 186.7h0M209.7 218.8h0M194.9 218.7h0M270.0 174.0h0M271.3 193.7h0M242.8 172.6h0M231.6 154.4h0M199.4 198.0h0M237.3 170.6h0M276.1 235.0h0M203.1 204.5h0M258.4 260.1h0M274.7 232.5h0M177.4 243.6h0M196.8 246.5h0M258.0 264.2h0M183.2 225.6h0M248.2 183.8h0M175.0 251.7h0M267.1 245.0h0M251.6 274.8h0M266.4 256.8h0M213.1 208.6h0M267.8 205.9h0M240.7 277.9h0M262.5 210.7h0M248.6 164.4h0M244.1 249.1h0M265.5 206.8h0M232.9 227.5h0M248.3 192.9h0M255.2 231.0h0M178.2 232.1h0M239.7 229.3h0M280.2 258.9h0M223.3 269.2h0M216.6 259.2h0M275.4 263.7h0M182.1 208.7h0M262.9 203.8h0M262.7 166.7h0M257.0 271.5h0M228.4 187.3h0M193.5 211.1h0M207.2 254.1h0M227.6 248.9h0M265.8 260.1h0M272.0 247.3h0M219.5 196.0h0M183.6 246.4h0M224.9 162.4h0M213.2 232.1h0M219.1 235.6h0M221.9 266.0h0M262.8 236.4h0M174.6 225.6h0M181.4 232.8h0M222.5 258.6h0M258.2 176.3h0M215.9 192.7h0M246.9 251.5h0M174.9 234.4h0M223.9 169.0h0M219.6 214.7h0M279.8 238.0h0M217.0 215.8h0M243.1 179.7h0M263.3 241.0h0M175.0 231.1h0M273.8 179.8h0M286.7 227.9h0M175.3 235.8h0M228.2 277.9h0M247.8 238.6h0M215.0 255.0h0M269.9 238.9h0M277.6 229.0h0M237.5 189.1h0M261.5 261.1h0M235.5 186.5h0M265.2 254.4h0M221.4 243.7h0M235.6 270.1h0M209.2 176.4h0M231.2 234.7h0M231.0 209.8h0M223.7 170.2h0M203.9 264.6h0M243.2 192.4h0M231.0 185.6h0M191.3 198.3h0M205.1 262.1h0M264.9 255.9h0M238.0 189.2h0M228.1 181.6h0M264.0 194.9h0M203.5 262.2h0M251.8 215.7h0M186.6 217.1h0M181.3 242.6h0M264.8 187.6h0M190.8 221.8h0M245.7 153.2h0M195.9 240.5h0M232.1 244.0h0M254.2 252.3h0M226.5 258.8h0M182.1 211.3h0M213.6 217.7h0M231.9 271.1h0M188.5 222.4h0M247.8 253.9h0M244.5 224.9h0M224.6 221.7h0M216.3 194.1h0M214.4 221.8h0M274.5 245.9h0M245.5 272.2h0M282.9 224.0h0M234.2 258.2h0M242.4 213.8h0M195.3 246.7h0M214.4 205.8h0M229.1 221.3h0M228.2 234.6h0M186.6 226.8h0M253.1 242.8h0M277.0 258.4h0M179.3 217.3h0M204.9 213.2h0M199.6 236.2h0M215.0 241.0h0M266.1 254.2h0M226.6 178.8h0M246.8 152.8h0M202.1 207.8h0M230.4 230.7h0M262.0 277.2h0M194.2 254.4h0M263.5 242.4h0M224.2 230.4h0M201.6 236.9h0M265.9 246.0h0M263.7 255.8h0M279.6 220.7h0M223.8 230.8h0M273.5 217.9h0M170.3 226.1h0M271.7 172.9h0M246.7 255.0h0M263.0 187.1h0M257.6 254.8h0M224.3 163.1h0M217.7 173.2h0M192.3 194.9h0M227.7 205.6h0M237.0 192.3h0M250.6 250.6h0M278.0 198.2h0M196.2 244.4h0M223.9 199.7h0M283.3 256.4h0M208.4 191.8h0M269.8 200.8h0M265.3 185.8h0M209.0 273.7h0M225.2 264.6h0M265.3 172.8h0M252.7 157.4h0M217.5 214.1h0M283.8 242.7h0M280.4 213.0h0M199.5 192.0h0M247.2 268.9h0M222.5 258.4h0M175.4 227.8h0M229.1 205.8h0M269.9 177.4h0M260.3 216.8h0M273.4 197.4h0M249.6 275.7h0M264.3 180.7h0M228.0 182.3h0M281.7 250.5h0M237.9 232.5h0M268.5 264.6h0M244.1 200.4h0M248.9 232.3h0M235.9 240.7h0M259.3 251.4h0M218.9 211.5h0M237.1 178.7h0M212.9 218.4h0M255.8 258.3h0M181.8 240.5h0M230.1 259.5h0M261.6 244.8h0M244.5 262.9h0M235.6 189.1h0M210.2 264.9h0M198.7 239.0h0M248.1 191.3h0M227.4 167.8h0M252.6 232.9h0M194.6 220.9h0M278.0 235.8h0M181.4 204.4h0M242.0 244.5h0M217.1 187.9h0M267.9 197.8h0M236.4 206.2h0M228.3 178.3h0M268.2 243.0h0M215.2 257.5h0M220.1 169.1h0M180.9 216.1h0M231.0 186.9h0M170.6 230.6h0M195.3 220.0h0M189.9 241.7h0M229.0 269.6h0M269.8 246.9h0M243.3 235.4h0M291.6 157.0h0M313.2 149.8h0M332.5 175.9h0M316.0 167.5h0M326.6 185.8h0M321.2 141.1h0M322.9 187.5h0M304.4 188.5h0M311.6 164.3h0M304.9 178.0h0M316.9 144.7h0M296.4 145.2h0M313.1 165.9h0M317.0 183.7h0M328.9 168.6h0M318.7 183.1h0M320.7 145.5h0M315.0 147.2h0M302.2 129.5h0M326.4 183.4h0M312.9 175.7h0M314.5 197.2h0M290.5 160.4h0M303.4 127.3h0M323.7 143.1h0M299.4 184.4h0M301.9 128.2h0M307.2 156.0h0M334.6 152.1h0M303.9 175.4h0M307.1 161.8h0M308.1 133.8h0M339.2 171.2h0M298.6 135.9h0M305.8 170.4h0M325.2 164.3h0M312.0 170.2h0M300.7 178.9h0M319.9 150.2h0M304.9 129.0h0M304.3 187.1h0M337.9 172.5h0M304.9 141.3h0M315.3 142.1h0M321.3 158.2h0M310.2 133.3h0M327.6 191.0h0M319.4 173.6h0M300.3 141.4h0M301.1 186.1h0M307.2 159.7h0M298.0 132.9h0M342.0 169.4h0M295.7 152.8h0M320.3 156.4h0M312.8 162.2h0M311.0 195.1h0M293.6 180.1h0M304.4 132.7h0M295.6 166.0h0M314.3 181.8h0M323.1 167.0h0M312.4 188.5h0M334.4 162.5h0M323.9 182.8h0M326.9 188.7h0M303.5 147.8h0M328.5 164.6h0M328.0 153.7h0M324.2 171.1h0M310.8 136.6h0M293.7 133.3h0M328.8 178.5h0M319.3 137.2h0M306.9 151.2h0M297.5 135.9h0M305.6 190.0h0M309.8 164.9h0M318.5 138.6h0M304.9 131.1h0M325.2 162.8h0M290.6 133.4h0M320.9 179.2h0M292.8 137.7h0M337.8 176.4h0M305.8 145.1h0M291.3 173.9h0M323.4 182.2h0M308.4 163.7h0M325.3 153.5h0M323.4 157.3h0M306.5 184.4h0M327.0 154.7h0M303.9 149.3h0M328.6 153.3h0M315.4 141.5h0M304.3 127.9h0M315.0 132.2h0M293.8 187.1h0M290.8 171.8h0M314.6 150.5h0M330.2 151.2h0M296.2 167.3h0M323.4 161.3h0M330.2 175.9h0M296.0 188.0h0M336.8 178.7h0M305.8 180.7h0M317.5 143.0h0M332.2 164.2h0M304.0 139.7h0M328.2 169.9h0M324.4 179.0h0M318.5 179.0h0M321.8 175.7h0M316.0 160.9h0M321.0 193.0h0M303.6 154.3h0M325.1 139.6h0M299.7 127.0h0M296.0 143.8h0M319.8 183.9h0M316.7 174.3h0M297.7 160.5h0M306.2 143.7h0M303.5 145.8h0M304.8 174.9h0M310.2 127.4h0M314.3 143.4h0M297.2 165.7h0M325.9 142.0h0M323.5 154.7h0M309.4 171.9h0M314.6 186.1h0M307.0 146.8h0M313.9 142.1h0M310.8 157.1h0M306.0 145.1h0M335.7 176.3h0M305.8 164.2h0M299.1 128.4h0M314.2 157.2h0M306.2 160.3h0M319.2 181.8h0M321.7 159.6h0M342.6 159.9h0M316.4 151.8h0M311.3 133.2h0M300.2 166.9h0M294.8 143.3h0M314.8 136.4h0M313.2 156.1h0M317.6 169.3h0M315.4 132.6h0M304.3 158.0h0M316.0 173.9h0M318.9 137.5h0M325.0 178.1h0M320.7 142.2h0M304.2 167.8h0M312.8 172.5h0M302.7 134.8h0M296.5 156.8h0M298.0 157.7h0M311.5 128.1h0M306.1 195.7h0M331.3 166.3h0M304.9 146.8h0M318.7 155.9h0M293.0 142.9h0M300.5 172.8h0M323.8 159.5h0M314.8 151.1h0M315.4 135.8h0M313.6 142.5h0M290.0 149.7h0M331.3 175.9h0M292.7 162.2h0M335.7 163.4h0M296.4 147.5h0M321.4 172.5h0M313.0 149.9h0M334.0 174.1h0M322.1 172.4h0M292.8 182.7h0M324.9 145.2h0M308.9 142.1h0M328.0 171.8h0M306.9 164.2h0M296.7 137.0h0M318.3 146.2h0M328.4 179.4h0M328.4 167.9h0M321.4 144.1h0M314.0 135.4h0M315.2 152.7h0M313.8 149.2h0M321.3 181.6h0M312.0 197.0h0M313.4 187.8h0M294.2 153.8h0M302.0 196.0h0M337.9 170.3h0M289.4 148.9h0M320.2 151.8h0M332.0 178.5h0M317.9 135.9h0M307.1 151.2h0M305.7 182.5h0M318.4 197.5h0M303.2 168.1h0M331.2 162.5h0M297.8 178.3h0M309.0 184.2h0M326.2 162.0h0M322.0 165.9h0M334.5 163.9h0M301.5 158.5h0M317.8 149.4h0M338.6 177.5h0M302.3 189.9h0M332.7 176.6h0M296.6 132.0h0M331.5 184.3h0M336.4 169.0h0M300.7 189.5h0M324.9 150.1h0M340.7 156.5h0M306.3 148.6h0M307.7 188.8h0M302.4 173.3h0M297.2 154.7h0M296.9 149.3h0M298.0 188.1h0M308.8 190.6h0M321.4 167.3h0M303.5 164.0h0M327.7 143.6h0M302.4 150.3h0M303.0 135.3h0M332.5 168.3h0M334.7 163.9h0M308.1 175.8h0M304.6 145.9h0M333.3 175.0h0M313.5 149.6h0M330.0 158.2h0M310.9 138.8h0M310.6 156.1h0M308.8 185.6h0M331.2 151.6h0M308.4 170.5h0M334.7 159.0h0M300.2 143.6h0M324.4 151.0h0M294.2 149.6h0M293.7 160.4h0M298.0 169.6h0M297.3 138.8h0M321.5 163.9h0M295.6 184.8h0M313.5 177.2h0M332.1 183.4h0M293.8 141.5h0M311.6 186.3h0M310.2 186.5h0M318.2 136.8h0M293.4 181.9h0M320.2 183.2h0M312.3 194.8h0M306.6 190.9h0M319.1 141.9h0M321.8 136.3h0M289.9 151.6h0M325.8 151.4h0M339.5 163.3h0M328.8 173.8h0M291.2 147.6h0M327.6 166.9h0M327.2 164.5h0M329.6 154.3h0M320.1 136.2h0M335.1 171.4h0M332.2 171.7h0M314.3 192.5h0M316.7 198.5h0M297.2 191.6h0M316.3 143.4h0M294.8 154.6h0M333.2 177.7h0M291.7 169.8h0M334.8 168.3h0M321.5 186.4h0M304.1 190.4h0M320.5 195.5h0M333.9 172.5h0M291.1 164.7h0M322.7 173.3h0M301.8 168.9h0M327.8 155.4h0M304.7 170.7h0M311.5 153.6h0M306.7 152.5h0M339.9 154.4h0M334.4 149.7h0M333.3 168.8h0M303.6 160.1h0M317.6 165.2h0M314.1 157.0h0M317.8 174.2h0M309.4 183.8h0M316.1 161.1h0M294.1 187.4h0M308.9 192.9h0M299.4 135.3h0M308.2 171.5h0M319.7 182.2h0M325.4 195.9h0M327.9 162.8h0M329.0 186.2h0M332.9 181.0h0M323.1 183.0h0M316.8 173.0h0M306.4 131.7h0M309.0 171.8h0M309.2 138.4h0M304.3 152.7h0M325.3 170.7h0M324.1 177.6h0M315.6 174.6h0M318.2 155.4h0M316.8 151.7h0M320.3 161.5h0M313.3 183.1h0M296.4 173.4h0M295.3 177.1h0M301.2 157.6h0M288.8 162.9h0M313.2 137.6h0M313.4 169.1h0M320.8 184.3h0M318.2 176.2h0M327.2 151.4h0M325.6 156.2h0M325.3 171.1h0M316.9 181.8h0M298.9 151.1h0M327.3 154.0h0M328.3 179.1h0M298.5 155.2h0M325.6 156.0h0M295.0 173.4h0M324.9 159.6h0M319.4 152.6h0M326.6 167.8h0M296.4 150.7h0M318.6 162.4h0M316.7 197.6h0M318.7 188.0h0M331.9 154.5h0M324.5 185.4h0M317.0 131.9h0M298.1 135.9h0M312.2 174.9h0M313.3 173.7h0M312.2 155.6h0M322.6 162.0h0M315.1 133.5h0M338.7 157.7h0M331.5 180.8h0M317.3 176.8h0M311.2 130.1h0M303.5 157.8h0M305.9 137.1h0M322.6 142.8h0M303.0 160.3h0M294.0 129.2h0M309.3 150.8h0M316.8 182.1h0M323.7 192.8h0M326.6 166.9h0M290.4 164.5h0M305.4 171.7h0M325.4 146.6h0M313.7 152.2h0M295.7 170.2h0M337.0 177.8h0M298.4 166.1h0M320.6 162.1h0M331.0 176.6h0M304.9 195.8h0M316.9 196.8h0M332.2 160.6h0M315.3 187.5h0M333.9 150.5h0M329.6 184.2h0M310.1 176.5h0M313.4 144.1h0M300.1 128.3h0M303.5 193.9h0M326.2 184.4h0M304.6 161.4h0M305.9 186.5h0M320.1 195.3h0M288.7 150.7h0M331.4 166.8h0M318.3 163.9h0M315.2 133.6h0M311.7 147.7h0M298.6 189.3h0M323.4 171.2h0M324.3 147.0h0M330.8 182.5h0M333.4 161.2h0M299.5 169.4h0M315.1 177.4h0M336.3 154.1h0M323.8 179.2h0M320.3 160.4h0M303.8 134.3h0M305.2 140.6h0M327.3 181.5h0M324.9 145.6h0M303.5 141.2h0M314.1 142.5h0M331.1 169.0h0M311.9 195.1h0M310.0 140.4h0M322.8 181.1h0M310.3 130.0h0M308.3 179.4h0M309.5 193.4h0M309.0 167.4h0M324.3 176.1h0M314.1 144.5h0M332.3 183.4h0M313.9 179.6h0M317.9 133.2h0M326.5 146.2h0M313.3 180.7h0M311.9 170.6h0M320.0 183.4h0M299.5 163.9h0M338.8 171.8h0M300.7 192.1h0M327.9 174.3h0M317.7 142.1h0M323.0 179.1h0M296.4 179.1h0M327.6 144.1h0M296.4 169.4h0M292.1 150.0h0M329.9 175.5h0M297.4 159.8h0M314.2 197.1h0M291.8 179.3h0M304.2 140.9h0M310.6 181.7h0M317.6 142.0h0M315.5 145.5h0M333.7 177.5h0M329.7 162.6h0M317.1 160.3h0M314.0 179.6h0M319.5 147.6h0M326.0 157.6h0M323.2 168.6h0M323.6 140.8h0M325.1 146.9h0M295.2 143.7h0M306.1 145.7h0M320.7 170.3h0M329.5 166.2h0M338.7 183.7h0M308.2 134.9h0M321.3 190.6h0M317.7 129.9h0M313.4 196.3h0M324.2 142.2h0M324.5 150.7h0M299.2 140.6h0M295.5 137.2h0M309.3 197.5h0M290.9 142.8h0M330.9 185.4h0M308.1 175.8h0M297.2 173.2h0M316.4 185.5h0M318.0 137.1h0M325.5 179.0h0M328.2 143.4h0M327.9 155.6h0M307.6 198.5h0M322.0 190.0h0M304.6 167.9h0M303.0 145.2h0M301.6 152.1h0M314.3 136.0h0M303.6 132.0h0M309.8 148.9h0M326.7 153.6h0M324.2 148.7h0M334.9 152.2h0M300.6 168.1h0M329.7 167.6h0M294.3 175.4h0M323.6 177.5h0M310.4 197.3h0M321.0 189.6h0M311.7 166.0h0M300.0 162.4h0M315.3 195.5h0M307.1 144.8h0M319.3 171.4h0M324.5 171.1h0M308.6 143.6h0M313.4 176.7h0M339.3 159.5h0M308.1 196.0h0M333.1 169.8h0M327.3 150.7h0M293.6 127.7h0M326.7 179.9h0M296.6 139.3h0M321.9 140.5h0M336.4 165.9h0M327.4 163.9h0M310.6 195.9h0M303.9 137.5h0M310.6 166.8h0M316.9 144.8h0M292.1 150.2h0M289.7 165.0h0M320.5 138.3h0M326.7 170.5h0M298.9 170.0h0M331.6 173.3h0M314.8 145.4h0M316.8 186.0h0M295.0 131.2h0M304.8 128.8h0M313.5 133.2h0M303.2 134.3h0M320.7 200.7h0M333.5 153.0h0M330.1 142.8h0M312.1 150.9h0M310.9 168.9h0M321.6 192.2h0M330.9 161.4h0M308.7 140.6h0M303.7 175.3h0M302.6 186.8h0M340.4 174.7h0M337.4 160.6h0M324.5 181.2h0M315.0 142.5h0M301.7 139.1h0M329.3 150.8h0M299.8 139.8h0M316.4 162.7h0M340.3 155.7h0M288.5 152.9h0M310.8 144.2h0M303.1 143.1h0M320.9 138.9h0M310.6 142.6h0M297.1 179.9h0M305.7 131.6h0M302.9 158.4h0M298.9 190.7h0M286.3 147.6h0M289.2 169.5h0M334.6 178.4h0M330.3 185.7h0M324.6 169.2h0M309.7 138.1h0M317.9 175.0h0M300.5 172.0h0M301.1 152.4h0M327.5 153.9h0M302.7 126.7h0M301.4 137.7h0M294.8 187.4h0M330.2 145.1h0M325.4 159.2h0M315.5 157.0h0M329.2 159.0h0M313.6 136.6h0M304.0 195.9h0M311.5 135.2h0M307.9 164.7h0M301.7 145.2h0M326.6 154.4h0M311.0 158.8h0M327.6 187.5h0M330.9 167.4h0M315.9 136.7h0M317.3 174.6h0M330.7 162.3h0M320.9 177.5h0M326.1 169.9h0M322.8 175.4h0M332.5 169.8h0M320.6 187.1h0M316.0 161.7h0M326.0 167.9h0M302.0 192.4h0M312.0 146.8h0M314.9 139.0h0M298.3 129.8h0M300.6 178.9h0M297.6 187.4h0M328.8 183.1h0M312.2 142.6h0M313.2 137.3h0M329.1 158.5h0M305.1 190.7h0M302.6 130.9h0M336.6 174.2h0M317.3 167.7h0M310.0 178.9h0M323.6 193.8h0M307.3 165.4h0M310.4 182.0h0M326.8 170.7h0M322.1 157.0h0M340.0 168.9h0M329.1 162.7h0M300.4 150.2h0M313.1 197.7h0M318.3 149.3h0M338.7 161.3h0M309.8 174.7h0M315.9 140.6h0M324.6 171.7h0M341.2 163.6h0M319.4 155.6h0M308.8 192.9h0M320.0 192.7h0M291.9 140.1h0M337.7 172.0h0M324.1 150.9h0M321.5 176.8h0M321.1 151.8h0M290.0 143.7h0M321.2 181.6h0M318.0 140.3h0M327.5 161.9h0M333.5 163.2h0M307.2 174.5h0M316.7 144.6h0M309.3 154.9h0M314.7 173.0h0M311.0 152.0h0M296.4 149.4h0M334.0 166.2h0M299.7 127.9h0M325.4 173.9h0M313.0 182.2h0M290.2 136.9h0M288.1 145.2h0M318.7 139.2h0M292.3 142.6h0M331.0 153.8h0M303.7 197.6h0M322.1 170.9h0M314.0 186.7h0M300.6 145.6h0M319.4 154.9h0M309.6 161.3h0M336.2 165.2h0M332.1 150.5h0M308.3 191.6h0M307.5 132.3h0M334.0 176.7h0M337.7 170.9h0M321.0 188.0h0M312.2 181.1h0M295.4 192.8h0M294.6 134.3h0M313.0 137.4h0M338.7 158.3h0M320.6 150.7h0M320.8 139.5h0M318.7 132.0h0M292.2 168.3h0M323.1 147.4h0M295.5 157.9h0M304.0 136.7h0M336.8 150.3h0M321.8 138.0h0M313.7 202.4h0M337.6 153.3h0M314.1 131.3h0M326.4 180.0h0M310.8 142.4h0M323.6 157.3h0M317.1 191.3h0M355.2 161.6h0M353.0 162.9h0M358.2 162.7h0M362.5 161.8h0M352.6 163.4h0M356.1 162.2h0M355.2 162.6h0M354.0 162.3h0M357.0 161.7h0M357.0 161.6h0M357.8 162.3h0M359.7 162.9h0M354.0 162.2h0M357.5 163.3h0M267.7 69.5h0M268.2 69.9h0M273.8 69.9h0M271.2 69.1h0M273.8 69.1h0M274.1 70.2h0M232.7 92.5h0M238.5 83.1h0M245.3 61.7h0M251.3 71.2h0M259.9 74.5h0M246.6 64.7h0M244.9 87.1h0M243.7 46.8h0M242.8 88.2h0M240.7 59.2h0M250.8 98.4h0M235.7 76.9h0M239.9 92.8h0M227.8 100.8h0M246.8 50.6h0M254.0 86.6h0M258.3 89.4h0M239.4 85.6h0M226.1 99.2h0M235.1 88.4h0M245.3 85.6h0M239.9 79.6h0M235.1 71.9h0M245.3 79.8h0M257.9 64.0h0M255.6 93.4h0M247.6 58.8h0M241.1 88.6h0M264.3 87.6h0M247.8 85.5h0M234.2 91.0h0M242.3 77.0h0M253.4 89.9h0M241.7 54.5h0M249.6 80.4h0M256.2 55.8h0M257.7 97.1h0M237.9 88.0h0M264.6 65.1h0M226.6 89.9h0M238.4 47.6h0M244.8 91.7h0M249.5 81.9h0M257.9 64.8h0M249.0 68.1h0M231.6 95.5h0M242.3 69.0h0M241.7 78.1h0M256.0 76.7h0M233.9 84.3h0M247.9 71.7h0M240.0 66.8h0M230.9 90.2h0M228.5 89.7h0M240.7 55.4h0M261.1 95.3h0M226.2 88.5h0M247.9 78.2h0M249.1 85.6h0M254.0 96.6h0M255.1 84.3h0M256.0 73.4h0M255.6 84.5h0M239.0 52.8h0M255.3 80.5h0M239.8 75.1h0M236.0 90.0h0M245.6 57.1h0M235.2 64.9h0M258.0 98.8h0M231.2 73.9h0M235.0 74.8h0M252.0 79.1h0M251.0 93.2h0M254.1 95.0h0M259.6 80.4h0M238.7 52.9h0M229.7 103.0h0M239.2 75.4h0M264.1 87.4h0M239.0 53.4h0M225.7 92.6h0M258.1 99.5h0M254.6 64.4h0M249.4 94.9h0M243.9 65.0h0M238.0 100.0h0M245.2 53.8h0M246.1 79.9h0M244.2 85.2h0M228.2 95.6h0M234.1 88.9h0M264.2 88.5h0M239.9 82.1h0M239.2 84.4h0M255.7 84.7h0M252.6 55.9h0M245.1 90.3h0M246.0 84.7h0M258.6 95.1h0M238.7 76.1h0M257.4 80.8h0M249.8 77.0h0M239.8 63.6h0M228.7 84.8h0M233.2 75.0h0M251.6 100.6h0M231.4 89.6h0M255.1 91.4h0M228.3 88.8h0M259.2 79.4h0M264.4 67.2h0M229.7 86.5h0M243.0 101.5h0M247.8 73.1h0M260.7 69.6h0M255.9 80.8h0M229.8 94.0h0M244.7 82.2h0M253.4 84.5h0M232.6 67.6h0M237.9 103.3h0M261.6 76.7h0M258.3 77.1h0M227.3 90.2h0M232.1 89.9h0M259.5 78.7h0M235.0 67.5h0M240.8 62.0h0M230.0 91.4h0M241.4 89.0h0M245.9 92.3h0M237.5 94.2h0M241.5 70.2h0M233.7 80.7h0M260.1 73.5h0M249.9 89.9h0M256.8 76.4h0M231.2 78.7h0M249.4 79.9h0M247.9 73.9h0M93.7 194.6h0M111.8 199.5h0M210.2 281.2h0M198.2 276.2h0M210.5 283.1h0M206.1 273.7h0M200.0 280.2h0M199.2 274.2h0M201.3 273.2h0M195.1 273.1h0M199.6 284.0h0M199.8 278.5h0M199.6 289.2h0M201.0 288.3h0M207.7 278.3h0M199.2 293.1h0M197.1 277.2h0M203.6 281.5h0M194.0 274.2h0M197.2 289.8h0M198.1 292.3h0M207.8 284.4h0M200.1 280.7h0M200.9 277.2h0M209.9 279.3h0M197.1 272.6h0M206.8 273.3h0M205.3 285.1h0M201.7 282.8h0M206.8 289.2h0M205.9 287.4h0M201.5 281.9h0M198.5 294.6h0M204.2 292.6h0M209.7 273.4h0M203.9 294.1h0M203.2 274.8h0M198.1 272.4h0M204.8 286.7h0M200.4 291.5h0M203.9 289.0h0M206.8 292.2h0M203.1 285.3h0M201.9 292.9h0M206.1 292.9h0M206.1 279.5h0M208.5 288.0h0M201.0 291.0h0M195.7 273.4h0M200.7 295.5h0M204.5 291.7h0M201.2 273.7h0M203.7 291.1h0M211.8 282.7h0M204.1 274.1h0M204.3 288.7h0M193.3 274.9h0M198.3 289.1h0M201.6 274.8h0M202.2 283.6h0M209.4 286.5h0M205.7 276.8h0M198.0 278.0h0M207.0 286.4h0M202.5 292.4h0M204.9 274.2h0M210.7 279.9h0M194.8 282.7h0M209.8 281.9h0M201.0 279.6h0M208.3 274.1h0M201.7 279.8h0M210.0 279.2h0M277.0 333.2h0M277.6 304.6h0M254.0 315.6h0M269.7 321.2h0M269.4 313.4h0M279.8 320.9h0M280.8 305.6h0M261.8 314.2h0M281.1 320.7h0M286.7 317.9h0M259.4 327.4h0M271.4 328.7h0M268.6 295.5h0M267.5 306.3h0M273.1 313.0h0M276.5 311.6h0M285.5 299.9h0M286.1 302.9h0M259.6 317.7h0M267.6 332.4h0M279.3 303.7h0M277.4 305.4h0M275.8 318.6h0M273.0 299.5h0M268.0 313.8h0M264.0 295.0h0M270.3 308.8h0M257.1 320.5h0M269.1 302.2h0M284.0 295.9h0M273.5 317.0h0M279.8 319.0h0M286.0 317.3h0M265.1 303.5h0M266.1 322.8h0M265.9 318.4h0M283.7 323.5h0M263.9 317.9h0M275.2 322.8h0M261.0 327.1h0M281.1 327.8h0M265.2 323.0h0M282.6 307.2h0M274.1 315.5h0M267.5 304.7h0M272.4 307.4h0M275.0 290.5h0M264.9 302.0h0M270.2 296.3h0M277.4 332.1h0M287.2 312.3h0M279.2 299.5h0M278.6 327.7h0M257.1 323.5h0M282.1 306.8h0M268.2 327.0h0M269.7 311.8h0M280.2 317.1h0M261.7 319.4h0M275.8 287.7h0M280.3 300.7h0M277.9 325.0h0M274.3 301.3h0M268.3 296.6h0M275.7 329.8h0M270.4 326.0h0M277.3 298.0h0M260.8 305.0h0M283.2 289.3h0M260.9 328.5h0M282.1 314.9h0M284.3 302.2h0M263.2 305.6h0M271.7 314.8h0M270.3 303.1h0M264.7 320.6h0M273.3 329.6h0M263.4 317.1h0M281.0 327.0h0M269.5 317.4h0M265.3 324.7h0M278.6 320.3h0M264.0 301.2h0M268.6 327.5h0M275.3 317.6h0M272.2 328.6h0M260.7 315.0h0M279.1 315.9h0M285.9 302.9h0M262.1 315.0h0M281.9 309.9h0M270.2 313.0h0M261.9 312.4h0M275.5 300.9h0M268.7 307.9h0M283.4 294.4h0M273.9 330.0h0M261.4 320.1h0M271.7 307.9h0M280.4 289.5h0M288.4 318.0h0M273.3 323.1h0M273.1 304.1h0M281.9 323.4h0M270.2 318.8h0M273.3 330.2h0M270.4 294.7h0M270.1 307.2h0M287.4 312.6h0M262.9 315.1h0M267.7 327.5h0M282.8 321.9h0M274.2 316.3h0M263.8 310.4h0M268.9 324.5h0M275.0 310.2h0M284.8 311.3h0M267.3 299.4h0M259.4 311.3h0M286.3 307.5h0M271.1 296.6h0M267.9 325.2h0M275.7 307.2h0M269.3 327.5h0M283.0 313.3h0M270.5 300.5h0M271.5 305.4h0M258.4 305.5h0M272.9 309.0h0M260.8 305.4h0M284.9 315.3h0M272.5 314.8h0M276.0 315.6h0M273.4 328.1h0M272.3 324.0h0M281.0 321.6h0M280.2 321.0h0M279.2 311.4h0M269.0 299.7h0M256.8 320.9h0M268.6 326.9h0M274.8 315.2h0M266.4 308.1h0M276.3 298.2h0M268.2 329.6h0M278.1 294.3h0M265.3 301.0h0M270.5 294.1h0M271.4 297.9h0M280.6 301.3h0M266.1 302.8h0M278.2 304.1h0M268.6 318.6h0M269.6 306.7h0M263.6 297.9h0M277.7 298.6h0M282.4 316.1h0M281.0 316.6h0M271.3 319.5h0M283.2 323.5h0M271.2 290.1h0M272.2 303.0h0M259.1 304.5h0M277.3 293.5h0M260.2 311.1h0M266.7 317.2h0M275.4 291.3h0M280.3 288.2h0M264.6 317.7h0M271.8 310.2h0M269.7 291.4h0M286.1 304.2h0M260.2 328.3h0M333.3 300.4h0M329.8 292.0h0M328.8 283.2h0M331.7 294.7h0M333.8 300.1h0M314.6 267.5h0M324.5 296.1h0M295.9 267.8h0M299.4 260.7h0M318.9 268.8h0M322.6 282.1h0M327.3 279.7h0M329.6 284.9h0M294.8 261.0h0M313.2 276.4h0M309.2 267.8h0M336.2 285.3h0M319.9 272.5h0M307.4 265.3h0M330.0 286.8h0M326.1 294.4h0M309.3 264.0h0M308.0 270.5h0M331.7 295.9h0M306.4 262.5h0M333.5 299.2h0M332.5 290.7h0M326.3 285.5h0M315.7 280.2h0M320.8 285.8h0M328.6 299.1h0M328.9 293.6h0M323.7 278.0h0M334.7 293.5h0M331.0 285.3h0M327.0 284.8h0M308.4 271.4h0M328.9 289.9h0M316.8 266.8h0M305.0 260.8h0M317.3 274.8h0M314.4 267.2h0M304.8 268.1h0M332.5 300.9h0M311.3 267.6h0M336.3 293.1h0M318.1 279.2h0M324.7 283.4h0M298.6 264.4h0M335.4 290.3h0M315.3 268.9h0M308.3 270.1h0M317.1 267.9h0M306.2 271.1h0M320.2 284.0h0M318.5 274.7h0M315.1 268.4h0M335.0 289.8h0M315.4 271.9h0M317.6 268.0h0M314.9 270.2h0M317.0 270.1h0M314.2 270.3h0M313.8 268.2h0M311.2 270.2h0M315.9 273.0h0M312.9 270.6h0M311.4 270.6h0M311.2 268.3h0M317.4 273.6h0M313.6 271.5h0M311.7 267.5h0M316.3 270.3h0M314.2 273.3h0M313.5 273.4h0M318.1 271.2h0M316.6 271.6h0M319.6 271.3h0M314.9 271.6h0M314.6 271.3h0M311.2 269.9h0M316.7 273.0h0M310.2 270.9h0M311.3 267.8h0M316.4 270.7h0M315.4 271.9h0M313.0 267.5h0M310.8 270.4h0M312.4 271.6h0M313.2 269.5h0M317.3 273.2h0M320.1 272.5h0M328.0 301.8h0M330.3 299.8h0M335.2 295.3h0M329.5 301.0h0M332.7 299.8h0M331.5 300.0h0M335.2 295.0h0M329.3 300.3h0M335.9 294.0h0M331.3 284.0h0M335.5 293.9h0M334.5 287.5h0M328.2 301.0h0M336.0 296.6h0M335.3 296.6h0M328.1 299.7h0M336.1 293.1h0M330.7 301.1h0M333.7 284.2h0M332.7 285.1h0M330.5 301.4h0M335.9 292.5h0M333.6 299.6h0M335.0 287.9h0M335.5 296.7h0M335.3 292.9h0M335.1 290.1h0M335.7 290.2h0M329.7 301.6h0M332.5 298.8h0M335.8 295.8h0M335.2 296.2h0M328.0 300.7h0M201.1 295.2h0M203.9 298.0h0M203.9 293.4h0M200.3 297.7h0M203.3 293.0h0M200.9 296.5h0M202.1 291.0h0M200.8 294.7h0M202.0 296.0h0M201.2 294.0h0M204.0 294.6h0M203.2 295.2h0M204.6 295.0h0M203.8 292.8h0M198.2 294.7h0M201.4 293.5h0M198.0 296.4h0M202.0 296.5h0M203.7 294.5h0M203.0 292.0h0M203.0 291.9h0M202.1 296.6h0M202.0 292.4h0M201.8 294.2h0M199.1 294.3h0M203.1 296.2h0M202.6 295.5h0M242.9 221.3h0M256.0 202.2h0M259.6 213.4h0M236.8 153.7h0M256.7 171.4h0M218.8 192.9h0M255.5 230.7h0M271.9 199.5h0M167.7 248.4h0M205.0 234.3h0M260.8 246.9h0M222.5 248.8h0M216.1 211.0h0M179.5 206.6h0M249.1 197.6h0M200.7 274.3h0M217.0 205.8h0M244.9 245.0h0M226.5 236.3h0M255.5 284.0h0M193.2 270.0h0M205.8 256.4h0M297.0 213.2h0M189.7 254.8h0M244.3 264.8h0M198.1 222.8h0M170.3 225.3h0M195.2 180.1h0M242.3 238.0h0M252.9 196.1h0M255.3 180.6h0M287.2 202.7h0M269.6 173.5h0M211.7 182.8h0M286.1 210.3h0M285.9 221.8h0M233.0 177.5h0M228.2 234.5h0M222.3 281.9h0M179.6 195.7h0M293.5 279.5h0M222.9 221.4h0M274.5 274.2h0M295.2 176.6h0M271.1 226.4h0M232.2 210.9h0M230.9 237.6h0M225.3 256.3h0M255.8 145.5h0M229.2 164.9h0M276.6 275.9h0M225.4 217.6h0M196.0 278.1h0M257.8 156.0h0M256.9 246.5h0M240.6 196.2h0M194.8 202.5h0M239.0 155.3h0M254.9 153.9h0M259.7 269.8h0M231.2 142.5h0M286.5 226.5h0M180.1 223.8h0M172.5 244.6h0M250.8 220.7h0M274.1 278.1h0M277.4 217.0h0M274.6 193.0h0M259.6 273.2h0M172.1 236.7h0M174.7 260.9h0M227.3 246.6h0M210.8 271.2h0M248.6 178.7h0M258.3 213.1h0M223.4 189.3h0M202.7 252.6h0M288.5 203.6h0M192.5 247.6h0M279.2 160.9h0M248.5 241.4h0M203.4 210.6h0M310.5 125.0h0M291.1 127.8h0M326.5 146.7h0M324.9 156.7h0M290.7 144.8h0M319.0 157.1h0M313.5 149.2h0M323.6 162.8h0M284.3 189.1h0M324.0 202.5h0M297.3 131.8h0M339.9 167.6h0M285.7 158.3h0M340.8 166.4h0M336.9 187.1h0M313.7 201.3h0M325.4 168.8h0M329.2 161.1h0M314.5 167.1h0M292.1 194.5h0M337.2 155.0h0M291.5 140.5h0M287.7 154.1h0M316.1 161.8h0M312.6 150.9h0M298.3 167.6h0M330.0 154.9h0M325.9 139.7h0M302.0 193.7h0M325.3 166.7h0M335.0 158.4h0M308.7 161.5h0M301.2 200.1h0M302.8 187.6h0M343.8 183.5h0M303.2 154.0h0" stroke="#F5AA3C" stroke-width="1" stroke-linecap="round" fill="none" opacity="0.68"/>
<path d="M189.6 252.5h0M245.7 151.1h0M255.2 269.8h0M269.8 245.9h0M256.6 206.9h0M283.8 203.2h0M232.9 270.3h0M198.2 248.8h0M219.9 211.6h0M231.1 188.4h0M266.5 168.6h0M243.4 173.8h0M203.1 239.6h0M180.1 237.0h0M237.7 265.9h0M200.8 222.3h0M229.0 169.5h0M252.6 215.3h0M252.9 231.0h0M226.1 269.3h0M254.5 233.4h0M228.1 190.2h0M241.6 270.4h0M253.0 158.3h0M259.7 192.5h0M220.7 176.9h0M223.2 239.9h0M220.2 232.5h0M270.4 180.7h0M243.0 154.3h0M238.9 230.9h0M235.0 225.3h0M231.7 220.2h0M241.8 222.6h0M250.0 271.5h0M240.3 262.0h0M260.8 194.3h0M230.9 170.2h0M233.3 232.7h0M193.0 215.6h0M204.3 222.4h0M221.3 266.3h0M217.4 208.2h0M282.9 225.5h0M240.1 163.3h0M242.6 172.8h0M228.5 223.3h0M204.4 226.2h0M272.1 263.0h0M200.7 240.2h0M283.3 204.2h0M252.0 199.8h0M252.6 189.3h0M222.1 173.1h0M180.0 223.6h0M240.9 257.8h0M249.7 169.1h0M284.7 212.7h0M268.5 274.7h0M227.3 186.6h0M209.6 265.9h0M256.6 239.3h0M198.2 235.1h0M283.0 256.4h0M173.3 232.2h0M255.6 227.9h0M241.4 163.9h0M227.0 222.3h0M264.4 273.3h0M262.4 244.2h0M174.8 233.5h0M284.1 210.5h0M248.2 235.0h0M176.6 224.4h0M239.9 262.9h0M209.4 219.5h0M197.0 202.4h0M200.1 197.4h0M230.1 212.9h0M219.0 271.7h0M254.2 222.6h0M202.2 190.3h0M240.6 240.6h0M194.7 240.1h0M281.0 202.0h0M244.0 258.2h0M215.8 233.9h0M244.5 214.2h0M245.8 264.8h0M201.0 218.6h0M261.1 241.2h0M251.9 265.8h0M217.3 272.2h0M274.3 262.2h0M195.8 266.9h0M277.8 215.4h0M250.6 235.9h0M180.9 213.6h0M217.6 234.7h0M184.7 213.7h0M282.1 177.3h0M215.1 201.9h0M207.8 261.2h0M267.4 238.7h0M262.5 259.2h0M275.3 202.3h0M210.6 231.2h0M199.1 193.9h0M178.9 222.6h0M264.3 156.1h0M242.9 261.1h0M272.6 157.9h0M196.4 209.9h0M180.8 253.3h0M213.2 228.0h0M229.3 201.1h0M247.2 209.9h0M249.0 198.8h0M266.0 205.9h0M202.0 239.5h0M180.4 251.5h0M269.4 271.4h0M272.4 237.4h0M211.7 195.0h0M207.9 253.2h0M200.0 188.9h0M202.0 216.5h0M193.9 252.9h0M215.3 167.9h0M176.7 223.6h0M272.0 219.1h0M257.4 243.8h0M217.7 183.1h0M214.9 213.8h0M226.7 188.4h0M281.3 229.4h0M233.9 229.3h0M268.0 174.5h0M283.6 221.0h0M197.8 204.8h0M255.6 250.3h0M269.3 188.3h0M226.3 232.4h0M193.4 244.1h0M224.4 172.6h0M242.3 217.1h0M230.1 169.8h0M231.7 156.4h0M177.4 218.5h0M255.4 207.5h0M267.9 192.2h0M218.9 273.3h0M242.4 229.3h0M258.2 184.5h0M241.0 178.8h0M284.3 225.9h0M223.1 159.1h0M211.4 227.5h0M215.5 240.1h0M227.6 170.2h0M248.6 249.0h0M277.5 260.6h0M186.4 237.8h0M193.7 245.3h0M252.4 170.7h0M259.0 221.4h0M214.8 214.5h0M224.2 274.6h0M197.8 221.3h0M222.5 268.8h0M225.6 262.7h0M216.7 186.1h0M230.0 246.4h0M264.9 235.8h0M235.2 187.0h0M246.0 225.6h0M251.3 160.0h0M219.4 168.1h0M280.3 186.2h0M272.7 217.1h0M232.3 274.8h0M215.0 234.3h0M215.8 242.3h0M233.4 193.6h0M227.0 160.9h0M266.5 240.2h0M187.6 202.3h0M278.1 261.8h0M270.2 168.8h0M226.1 206.8h0M252.3 257.4h0M278.0 262.6h0M211.3 214.2h0M227.7 271.9h0M224.5 274.7h0M277.0 190.6h0M201.2 265.4h0M282.3 230.8h0M194.5 251.7h0M255.5 267.1h0M279.6 235.0h0M243.8 240.5h0M244.0 271.6h0M269.5 210.0h0M231.6 211.7h0M212.2 233.1h0M273.3 208.5h0M230.0 184.4h0M190.8 240.6h0M189.7 231.5h0M262.6 214.8h0M203.3 211.7h0M258.9 170.1h0M199.8 215.5h0M217.8 163.6h0M208.5 193.2h0M268.1 202.2h0M205.4 256.2h0M263.3 205.3h0M192.2 219.2h0M236.2 210.7h0M264.8 176.3h0M228.3 232.5h0M202.1 190.4h0M248.4 164.2h0M238.0 246.0h0M267.4 213.6h0M225.9 207.0h0M241.5 161.3h0M234.1 153.9h0M273.5 258.0h0M281.5 247.8h0M223.4 198.4h0M233.6 183.6h0M244.4 279.6h0M184.0 242.5h0M206.5 187.4h0M222.9 178.0h0M191.2 241.9h0M284.5 263.2h0M223.6 250.7h0M169.7 232.8h0M239.0 218.5h0M178.1 239.4h0M230.8 184.6h0M271.3 231.8h0M258.9 182.4h0M246.8 148.8h0M240.8 225.9h0M217.7 216.5h0M203.5 242.2h0M273.3 222.3h0M256.3 271.7h0M242.7 183.4h0M237.6 193.8h0M249.2 153.6h0M242.6 275.3h0M262.5 200.4h0M228.9 252.8h0M267.1 238.9h0M255.0 272.0h0M219.9 262.4h0M229.3 169.5h0M242.9 223.8h0M231.1 183.6h0M268.0 268.3h0M264.7 185.2h0M273.2 198.0h0M284.0 216.7h0M279.4 261.2h0M263.4 220.3h0M246.8 208.8h0M190.8 241.3h0M254.2 264.2h0M262.7 278.9h0M219.4 214.1h0M187.8 209.9h0M249.5 214.9h0M190.0 205.8h0M282.8 203.1h0M272.0 221.2h0M226.1 177.2h0M256.6 182.8h0M266.0 233.5h0M239.7 261.2h0M301.0 148.2h0M301.0 153.4h0M317.4 189.3h0M332.8 184.1h0M300.7 131.0h0M309.5 149.8h0M320.9 140.5h0M307.6 149.4h0M313.6 175.1h0M321.6 168.6h0M312.6 154.2h0M306.4 129.1h0M307.5 185.0h0M319.9 166.6h0M307.0 144.8h0M300.6 136.7h0M315.7 147.9h0M312.1 152.3h0M323.7 156.2h0M310.4 181.6h0M311.5 186.6h0M297.8 143.0h0M298.7 168.9h0M328.6 179.5h0M320.2 181.5h0M327.7 185.5h0M315.7 177.5h0M309.0 150.8h0M299.4 135.7h0M318.0 177.5h0M327.1 185.9h0M315.1 165.2h0M335.2 179.4h0M307.3 193.4h0M328.7 184.8h0M306.6 143.2h0M324.1 166.4h0M286.6 163.5h0M328.4 150.7h0M294.5 157.9h0M313.4 192.3h0M332.9 165.3h0M295.4 178.1h0M318.9 167.1h0M315.6 156.4h0M313.9 159.0h0M289.4 145.7h0M321.3 166.3h0M320.8 159.8h0M320.4 147.0h0M333.9 174.7h0M339.8 168.6h0M308.0 193.6h0M293.6 165.4h0M318.1 176.0h0M297.7 139.3h0M300.8 186.4h0M322.2 142.8h0M324.5 150.8h0M309.8 159.5h0M321.5 159.8h0M330.0 148.3h0M324.2 173.7h0M339.2 160.6h0M312.9 157.3h0M319.7 155.9h0M316.7 188.9h0M310.0 179.8h0M300.8 176.1h0M332.8 169.2h0M331.8 183.6h0M295.9 188.5h0M294.9 127.7h0M299.9 181.3h0M338.4 158.2h0M306.9 183.8h0M306.0 187.7h0M327.6 150.1h0M308.8 131.4h0M300.4 151.5h0M320.1 143.1h0M307.2 135.8h0M246.0 51.8h0M265.4 91.4h0M230.7 99.8h0M259.4 69.2h0M237.3 66.9h0M254.0 47.8h0M233.7 87.4h0M242.9 64.3h0M257.8 64.3h0M262.4 70.2h0M245.3 60.4h0M256.6 68.3h0M240.1 71.0h0M242.5 92.4h0M258.9 94.7h0M243.6 77.3h0M244.5 50.1h0M240.7 74.7h0M255.4 68.5h0M227.6 80.7h0M234.6 82.7h0M255.5 63.1h0M236.4 89.4h0M230.0 85.1h0M254.5 83.1h0M255.3 62.1h0M257.8 57.4h0M242.0 89.7h0M254.1 82.1h0M251.9 82.7h0M226.5 94.5h0M253.7 88.2h0M230.0 79.5h0M243.8 77.7h0M232.8 82.2h0M229.6 82.2h0M257.7 76.5h0M265.4 76.5h0M237.5 73.7h0M239.6 77.7h0M259.5 70.8h0M226.9 94.5h0M254.4 80.4h0M262.1 64.3h0M254.3 78.6h0M246.3 44.5h0M248.7 74.4h0M252.2 68.9h0M233.0 77.2h0M256.5 59.1h0M233.5 65.3h0M229.8 81.7h0M238.2 57.2h0M258.6 76.1h0M243.0 54.8h0M261.5 78.6h0M241.8 61.5h0M243.5 85.7h0M231.4 74.8h0M238.2 51.5h0M252.2 98.0h0M256.6 68.2h0M248.5 65.1h0M237.6 56.9h0M252.4 52.0h0M231.8 92.2h0M234.1 81.4h0M245.5 55.7h0M257.2 75.8h0M259.7 81.7h0M252.7 71.2h0M244.2 71.3h0M258.8 74.0h0M255.3 95.7h0M251.0 88.6h0M242.0 99.0h0M229.8 87.4h0M237.6 75.2h0M257.8 51.9h0M240.5 87.2h0M239.5 77.5h0M255.5 72.2h0M245.3 66.5h0M228.8 77.4h0M236.2 103.2h0M245.3 74.1h0M245.1 43.1h0M245.8 45.9h0M93.7 202.8h0M85.4 186.3h0M91.4 193.6h0M80.3 205.5h0M86.1 175.9h0M81.0 183.3h0M96.6 191.5h0M88.4 174.5h0M95.4 212.8h0M93.0 208.7h0M97.4 209.6h0M89.8 189.1h0M78.6 197.7h0M99.4 203.4h0M200.7 273.7h0M203.1 270.9h0M204.4 291.4h0M208.8 291.1h0M203.7 294.4h0M211.3 277.4h0M197.5 278.1h0M194.5 277.4h0M209.3 283.4h0M284.8 292.7h0M262.1 314.3h0M267.9 310.0h0M265.9 319.8h0M282.3 299.1h0M276.1 285.4h0M275.3 288.8h0M255.8 323.6h0M284.4 325.6h0M273.8 321.7h0M268.8 295.7h0M284.4 288.2h0M279.7 315.1h0M274.4 303.6h0M263.0 325.7h0M288.0 326.2h0M276.0 306.6h0M269.6 326.3h0M285.0 297.0h0M280.8 324.5h0M281.1 328.4h0M279.0 305.5h0M264.3 331.1h0M268.7 319.8h0M282.8 297.0h0M254.5 321.6h0M272.7 316.9h0M265.1 329.0h0M283.0 308.9h0M273.8 295.2h0M270.2 319.5h0M336.0 296.8h0M309.0 270.2h0M334.2 297.9h0M303.9 266.2h0M300.7 271.1h0M301.6 267.5h0M307.0 260.9h0M320.1 284.1h0M331.1 287.4h0M325.7 286.8h0M328.4 291.6h0M327.1 291.8h0M301.5 260.0h0M330.3 297.9h0M327.0 294.5h0M326.7 293.9h0M200.6 295.6h0M277.4 257.7h0M205.6 188.1h0M289.2 160.8h0M202.1 196.4h0M237.0 148.6h0M214.4 247.5h0M282.9 235.2h0M280.8 275.8h0M227.2 232.8h0M298.5 229.2h0M294.6 238.8h0M283.6 219.4h0M185.8 250.2h0M198.4 199.0h0M230.5 280.2h0M218.1 245.5h0M294.4 150.8h0M288.8 174.3h0M299.3 139.6h0M292.9 143.2h0M335.0 175.4h0M340.2 151.7h0M285.7 173.2h0" stroke="#3B80C5" stroke-width="1" stroke-linecap="round" fill="none" opacity="0.68"/>
<path d="M228.9 224.7h0M202.3 242.0h0M214.3 256.5h0M192.4 196.1h0M238.0 156.8h0M267.1 202.5h0M264.8 271.9h0M247.1 208.4h0M255.7 192.3h0M263.4 269.1h0M278.8 203.9h0M263.9 214.4h0M246.6 219.2h0M220.0 242.4h0M244.8 232.0h0M279.2 266.5h0M273.6 272.7h0M242.2 275.4h0M181.5 206.6h0M202.5 244.0h0M229.4 164.4h0M268.1 271.7h0M214.3 236.6h0M265.5 169.1h0M173.4 228.7h0M226.9 159.9h0M251.8 174.3h0M236.6 164.8h0M240.5 202.9h0M221.6 212.4h0M257.6 224.2h0M250.0 278.4h0M203.1 237.7h0M199.0 264.1h0M229.0 195.4h0M228.4 156.9h0M270.8 244.0h0M250.8 172.6h0M247.6 170.6h0M271.2 198.7h0M207.7 189.3h0M271.9 261.6h0M283.7 211.5h0M268.3 203.8h0M243.4 262.8h0M220.8 263.1h0M197.5 241.3h0M232.6 248.7h0M273.0 190.5h0M223.3 246.6h0M282.2 214.2h0M261.5 196.9h0M174.1 223.6h0M176.3 239.9h0M271.7 240.8h0M179.1 251.5h0M235.3 215.6h0M239.6 217.0h0M250.1 149.6h0M274.6 231.9h0M223.4 237.9h0M263.4 237.1h0M229.0 181.2h0M249.3 210.6h0M240.6 260.1h0M223.2 242.1h0M277.4 237.6h0M196.7 227.5h0M222.3 175.8h0M278.2 194.6h0M278.9 176.1h0M261.8 205.9h0M249.2 234.1h0M258.5 275.9h0M244.9 198.0h0M270.9 157.4h0M262.5 203.5h0M282.1 265.6h0M193.7 237.6h0M265.2 225.0h0M247.2 227.9h0M202.5 180.1h0M234.4 205.0h0M234.8 227.8h0M190.3 262.6h0M210.8 250.8h0M193.6 227.1h0M261.2 244.0h0M208.8 201.4h0M259.6 245.4h0M180.7 223.5h0M229.4 167.8h0M182.1 254.8h0M235.1 194.5h0M262.8 200.7h0M220.7 254.5h0M260.4 198.0h0M241.5 223.5h0M237.6 160.1h0M190.0 213.6h0M219.4 269.1h0M227.6 223.6h0M264.1 157.8h0M233.0 237.7h0M252.6 217.1h0M275.3 250.5h0M210.2 241.7h0M249.6 184.6h0M282.2 183.8h0M187.9 242.9h0M265.8 193.2h0M260.4 149.4h0M246.1 224.2h0M210.5 271.6h0M173.2 226.2h0M252.9 219.8h0M271.4 215.9h0M245.9 226.9h0M185.1 227.6h0M253.9 241.9h0M283.1 258.3h0M224.2 243.6h0M246.3 257.8h0M250.0 263.2h0M194.2 232.8h0M205.1 267.7h0M237.8 246.8h0M229.6 263.9h0M204.3 209.4h0M262.7 227.2h0M189.4 231.8h0M274.9 188.5h0M229.5 237.5h0M238.2 168.6h0M214.2 255.3h0M243.9 261.5h0M241.0 211.3h0M254.4 214.6h0M174.5 245.7h0M223.2 235.1h0M247.4 234.6h0M249.6 254.5h0M265.0 267.4h0M257.0 257.9h0M256.1 195.4h0M257.5 220.9h0M280.6 225.4h0M194.0 266.7h0M261.1 149.3h0M256.2 252.3h0M274.1 266.1h0M252.8 201.4h0M194.7 216.8h0M225.3 161.5h0M254.6 213.0h0M226.0 179.3h0M240.5 241.5h0M237.2 235.5h0M199.0 239.9h0M225.2 158.7h0M253.4 162.0h0M230.5 213.0h0M258.5 259.8h0M198.5 266.2h0M215.2 207.9h0M229.9 278.7h0M241.2 178.8h0M261.3 229.2h0M256.3 176.3h0M265.6 203.3h0M204.7 257.1h0M271.3 211.5h0M212.5 270.4h0M255.4 268.7h0M270.8 230.9h0M225.8 250.7h0M192.6 190.2h0M285.8 207.3h0M240.1 277.5h0M184.6 223.4h0M249.9 266.9h0M223.9 161.2h0M254.0 241.0h0M221.0 219.9h0M197.9 268.5h0M224.3 161.6h0M242.0 276.2h0M254.8 212.4h0M202.8 222.0h0M234.7 249.3h0M263.4 191.7h0M261.6 225.8h0M261.8 243.2h0M231.4 173.6h0M273.7 251.5h0M205.5 236.6h0M250.9 253.9h0M204.0 231.1h0M247.8 265.4h0M272.4 163.4h0M274.6 266.7h0M207.4 189.8h0M263.0 161.8h0M249.0 229.7h0M261.3 157.0h0M246.6 218.3h0M255.6 247.4h0M266.7 199.1h0M230.6 199.4h0M213.0 206.5h0M277.4 216.0h0M179.4 234.4h0M234.2 234.0h0M263.0 246.2h0M257.9 245.7h0M282.1 244.2h0M196.0 184.7h0M202.4 211.5h0M265.7 210.5h0M185.5 214.1h0M263.5 250.1h0M248.4 208.5h0M190.9 220.4h0M210.7 265.4h0M284.1 223.3h0M225.2 213.6h0M279.8 200.4h0M274.6 257.6h0M221.4 244.9h0M190.0 231.1h0M234.2 182.0h0M183.4 214.7h0M256.4 192.7h0M243.5 272.7h0M243.3 163.0h0M217.6 193.0h0M247.9 199.8h0M273.0 268.6h0M277.9 201.0h0M268.3 270.6h0M249.3 207.4h0M254.9 204.3h0M237.2 228.9h0M231.3 276.9h0M263.7 169.0h0M224.9 221.2h0M197.9 235.9h0M269.4 189.5h0M253.7 241.3h0M276.8 211.4h0M237.8 261.8h0M198.1 227.3h0M226.8 224.7h0M243.3 155.5h0M226.2 164.3h0M198.3 258.7h0M221.5 166.9h0M230.8 246.8h0M215.7 224.3h0M189.0 250.9h0M254.1 192.9h0M225.4 250.5h0M264.0 245.6h0M252.9 268.9h0M239.1 235.2h0M279.7 168.9h0M241.9 221.6h0M247.6 149.9h0M222.2 230.0h0M208.2 256.9h0M272.8 167.5h0M221.9 212.8h0M230.7 244.9h0M206.9 198.1h0M246.6 239.7h0M255.5 199.6h0M245.2 149.7h0M262.4 262.0h0M261.2 211.5h0M277.0 273.4h0M224.0 264.9h0M215.4 223.0h0M242.3 269.7h0M222.1 263.7h0M252.7 200.7h0M263.3 231.0h0M207.8 264.4h0M279.5 181.1h0M237.6 180.3h0M192.7 197.3h0M233.7 189.3h0M195.2 209.9h0M272.7 227.9h0M235.2 230.2h0M261.8 248.4h0M194.4 217.1h0M258.1 276.4h0M233.0 263.3h0M238.9 200.8h0M217.0 199.4h0M220.8 228.5h0M266.0 183.0h0M248.9 255.6h0M240.0 221.8h0M275.0 263.1h0M231.2 190.9h0M202.5 190.2h0M182.3 239.2h0M247.3 195.6h0M253.6 207.0h0M276.0 212.1h0M250.3 222.7h0M249.9 241.5h0M281.3 259.6h0M272.9 173.1h0M237.4 152.7h0M239.2 211.6h0M219.0 223.6h0M202.1 232.4h0M284.8 220.3h0M179.9 231.6h0M214.9 214.4h0M197.1 228.2h0M282.1 252.3h0M216.9 217.2h0M271.7 252.9h0M201.4 251.6h0M267.4 276.8h0M237.9 183.3h0M205.2 219.7h0M234.4 201.0h0M257.3 184.2h0M183.2 256.2h0M280.4 258.4h0M236.1 253.0h0M224.8 157.5h0M205.1 236.2h0M258.8 216.3h0M217.1 179.8h0M234.5 190.9h0M218.5 182.3h0M269.0 184.0h0M193.3 213.3h0M210.7 188.9h0M192.6 240.4h0M235.5 187.9h0M231.7 270.7h0M243.2 166.0h0M268.2 221.5h0M267.1 267.4h0M249.3 179.9h0M230.4 266.3h0M274.3 260.5h0M227.3 173.9h0M188.6 250.4h0M254.5 204.3h0M233.5 213.0h0M241.1 275.2h0M249.8 274.0h0M219.3 275.7h0M228.3 217.2h0M236.1 273.4h0M255.6 249.3h0M209.4 242.4h0M261.6 226.3h0M212.6 257.3h0M268.1 238.1h0M229.4 264.4h0M226.5 223.1h0M276.8 196.4h0M253.0 249.0h0M250.5 187.8h0M261.5 211.3h0M255.0 199.6h0M198.4 207.8h0M222.7 189.2h0M206.5 258.1h0M239.2 158.9h0M225.6 221.3h0M239.7 262.0h0M244.1 224.3h0M208.1 273.1h0M258.6 192.0h0M237.4 240.2h0M202.8 235.3h0M236.2 216.8h0M224.0 272.5h0M271.1 241.3h0M277.1 231.0h0M222.5 174.5h0M244.2 173.8h0M268.8 201.1h0M188.1 238.4h0M270.4 193.7h0M256.9 155.4h0M216.4 231.3h0M196.5 245.0h0M202.6 219.8h0M223.4 247.1h0M259.2 275.8h0M303.5 140.2h0M303.1 197.0h0M316.8 189.0h0M308.4 138.1h0M306.1 135.1h0M322.0 141.8h0M343.1 156.8h0M323.2 170.0h0M312.8 154.0h0M297.1 131.7h0M293.2 160.2h0M318.0 141.9h0M332.5 173.7h0M320.5 194.1h0M307.2 134.2h0M315.8 173.2h0M306.7 188.5h0M311.1 149.1h0M322.5 190.3h0M307.1 164.6h0M313.6 142.8h0M308.2 155.9h0M300.5 164.4h0M323.5 167.0h0M323.2 166.6h0M315.4 188.9h0M302.2 145.2h0M308.3 187.9h0M293.5 155.7h0M331.0 168.3h0M320.5 136.3h0M294.3 136.8h0M314.5 138.7h0M317.8 148.1h0M336.0 178.5h0M295.6 135.1h0M324.9 185.5h0M334.3 167.8h0M318.6 138.7h0M320.7 169.8h0M315.5 179.5h0M302.9 135.3h0M313.9 195.3h0M301.3 180.1h0M305.9 161.8h0M325.0 156.8h0M323.5 196.1h0M319.5 197.4h0M319.0 155.3h0M314.2 167.4h0M325.0 146.1h0M291.0 156.1h0M293.6 145.8h0M318.9 142.7h0M333.0 177.2h0M315.8 184.4h0M302.9 154.3h0M305.5 129.2h0M316.1 202.0h0M320.4 197.4h0M292.6 150.9h0M332.7 168.0h0M310.7 135.4h0M326.0 149.1h0M289.8 157.4h0M298.8 153.3h0M308.6 162.1h0M309.9 180.0h0M316.8 163.5h0M302.7 149.3h0M306.5 155.3h0M307.3 181.7h0M302.1 138.1h0M329.4 160.1h0M305.9 172.5h0M316.4 190.6h0M319.3 193.1h0M294.4 135.3h0M315.7 175.9h0M315.9 178.4h0M315.5 147.5h0M340.7 170.8h0M309.6 178.3h0M301.8 128.0h0M302.6 183.0h0M328.3 190.1h0M318.9 179.5h0M323.3 155.3h0M319.0 137.5h0M331.1 152.4h0M297.2 157.5h0M318.4 192.1h0M298.4 129.5h0M311.5 140.7h0M309.0 166.9h0M299.2 183.1h0M318.3 153.1h0M325.8 175.9h0M294.8 150.2h0M333.6 148.3h0M331.0 172.6h0M302.7 177.4h0M313.7 152.6h0M311.6 180.4h0M296.2 131.1h0M305.7 138.0h0M312.0 198.0h0M301.5 129.9h0M312.4 180.0h0M306.1 152.0h0M330.9 150.9h0M322.9 191.1h0M297.9 150.6h0M335.0 161.2h0M304.5 161.0h0M320.3 169.7h0M317.6 166.7h0M318.5 165.9h0M304.5 138.4h0M315.1 174.0h0M292.3 146.4h0M323.4 169.3h0M303.7 181.3h0M323.1 140.5h0M290.5 146.7h0M328.9 157.7h0M326.0 178.1h0M307.5 200.1h0M315.5 201.1h0M322.5 174.4h0M306.9 194.9h0M305.6 165.1h0M337.9 162.9h0M307.1 175.2h0M320.0 167.3h0M336.9 166.7h0M327.3 155.7h0M309.0 192.5h0M320.7 169.3h0M328.5 154.4h0M320.2 186.1h0M289.1 162.1h0M319.0 130.6h0M340.1 171.3h0M308.2 173.8h0M294.3 166.8h0M306.6 169.4h0M299.4 159.1h0M295.9 136.0h0M308.1 184.6h0M323.2 161.8h0M295.0 134.0h0M307.5 180.4h0M330.8 169.0h0M328.9 147.6h0M324.8 167.0h0M317.5 196.8h0M308.9 155.8h0M314.9 139.9h0M295.5 183.8h0M298.3 176.1h0M323.9 163.4h0M354.9 161.6h0M358.5 163.1h0M361.5 163.0h0M353.0 162.2h0M352.7 162.2h0M362.6 163.2h0M355.9 161.8h0M359.4 161.6h0M360.4 162.7h0M356.0 161.8h0M354.9 162.6h0M362.5 162.6h0M359.7 161.6h0M361.2 161.5h0M352.2 162.7h0M352.3 161.8h0M355.4 161.8h0M359.6 161.8h0M361.4 162.1h0M352.7 162.9h0M265.8 70.5h0M264.9 70.0h0M273.2 69.8h0M264.3 70.2h0M265.4 70.5h0M272.5 69.1h0M268.7 69.1h0M264.5 69.7h0M265.2 69.1h0M267.6 70.1h0M273.9 69.9h0M264.7 70.4h0M271.1 70.5h0M271.5 70.3h0M273.6 69.7h0M272.0 70.1h0M273.3 69.1h0M270.4 69.7h0M274.4 69.5h0M269.3 68.8h0M271.3 69.0h0M273.7 70.3h0M273.1 69.3h0M270.3 69.5h0M274.3 70.1h0M273.4 70.6h0M252.6 92.1h0M243.2 83.2h0M260.8 74.9h0M259.1 87.2h0M236.9 74.4h0M247.3 91.4h0M236.0 89.7h0M248.6 67.6h0M234.3 82.8h0M247.2 102.3h0M239.8 75.5h0M235.4 89.4h0M241.3 73.9h0M226.5 90.4h0M259.5 71.7h0M249.9 70.7h0M251.7 86.3h0M260.0 76.0h0M262.1 78.4h0M240.2 70.0h0M236.1 73.9h0M243.9 74.7h0M248.6 80.1h0M235.4 75.3h0M230.9 98.7h0M247.6 96.2h0M249.1 76.2h0M231.9 87.0h0M250.5 101.6h0M236.3 93.6h0M250.9 85.5h0M228.7 72.0h0M239.0 81.5h0M243.3 69.3h0M242.7 91.5h0M237.4 88.0h0M231.3 76.1h0M256.5 77.5h0M249.6 85.3h0M237.6 82.0h0M252.0 73.8h0M243.7 96.1h0M242.3 68.6h0M229.4 84.7h0M243.4 63.3h0M256.7 86.9h0M232.1 76.8h0M240.8 83.6h0M234.3 85.3h0M266.3 91.6h0M239.6 91.7h0M235.1 86.3h0M257.0 74.6h0M243.6 76.1h0M239.9 94.8h0M237.4 86.1h0M241.8 100.8h0M246.3 73.9h0M241.5 91.1h0M251.9 90.7h0M233.2 71.2h0M254.1 56.2h0M253.7 68.4h0M250.0 73.3h0M245.0 73.1h0M260.7 82.1h0M260.8 87.1h0M238.0 81.3h0M235.5 72.2h0M252.5 99.8h0M260.8 78.0h0M247.7 94.6h0M233.2 73.1h0M261.0 76.0h0M227.9 96.2h0M239.2 58.8h0M252.2 87.1h0M254.1 83.1h0M234.6 78.5h0M265.0 88.7h0M261.4 87.2h0M263.2 74.0h0M245.6 73.9h0M260.4 86.8h0M231.2 94.3h0M258.0 83.6h0M245.7 101.6h0M253.8 82.6h0M254.7 83.7h0M261.6 68.5h0M247.9 63.0h0M246.5 63.4h0M253.8 92.6h0M244.7 97.6h0M245.8 78.3h0M252.0 69.1h0M231.1 84.8h0M249.1 87.3h0M244.4 87.1h0M242.8 65.6h0M263.6 84.4h0M224.8 102.3h0M227.7 76.8h0M240.5 82.3h0M238.3 87.3h0M244.7 86.6h0M240.6 56.6h0M255.4 55.9h0M244.3 90.9h0M240.6 78.3h0M252.1 86.8h0M228.3 89.5h0M245.4 86.7h0M248.4 90.4h0M236.8 76.3h0M234.8 83.5h0M224.6 88.0h0M253.4 85.5h0M238.5 81.5h0M252.6 72.7h0M229.0 78.5h0M254.3 85.5h0M252.5 96.9h0M259.3 70.1h0M245.0 85.2h0M251.3 70.2h0M261.6 79.9h0M228.6 95.3h0M235.7 78.4h0M250.0 52.9h0M242.8 100.4h0M236.3 75.5h0M241.0 77.1h0M254.6 71.2h0M245.6 76.2h0M238.9 91.2h0M229.3 96.0h0M242.0 84.8h0M238.1 90.6h0M250.5 77.6h0M248.8 79.5h0M245.2 49.6h0M227.9 99.2h0M227.1 73.2h0M227.6 82.7h0M260.5 81.8h0M259.7 86.7h0M252.5 63.6h0M231.0 65.9h0M244.4 95.0h0M233.8 71.7h0M248.1 88.5h0M238.7 73.1h0M256.9 87.6h0M251.5 86.3h0M239.9 68.2h0M232.1 81.7h0M243.9 80.9h0M254.4 81.4h0M230.1 88.8h0M262.2 70.2h0M255.9 89.6h0M259.0 71.2h0M240.3 99.9h0M249.9 99.7h0M232.1 81.1h0M235.6 65.5h0M254.7 81.7h0M247.5 79.8h0M248.1 84.7h0M236.2 91.2h0M263.1 76.4h0M238.0 79.7h0M253.0 88.6h0M232.4 69.8h0M229.1 91.1h0M228.8 79.3h0M227.8 94.8h0M251.7 80.0h0M260.1 72.8h0M257.0 62.6h0M231.6 87.9h0M246.0 83.3h0M247.4 90.6h0M263.3 84.6h0M229.4 92.9h0M250.9 77.7h0M245.9 95.3h0M247.5 90.0h0M237.2 99.1h0M257.0 89.7h0M227.7 95.1h0M258.2 82.7h0M224.2 84.8h0M256.1 62.9h0M227.2 83.3h0M236.1 95.5h0M246.6 88.9h0M245.0 81.0h0M243.7 78.0h0M248.8 49.9h0M227.5 84.4h0M245.8 85.2h0M246.4 77.2h0M248.1 92.1h0M259.8 67.6h0M251.9 77.3h0M248.1 97.8h0M229.0 82.1h0M248.6 92.2h0M249.9 74.0h0M252.9 81.3h0M239.2 90.4h0M262.5 77.6h0M240.6 95.3h0M228.9 82.2h0M231.3 92.1h0M238.2 73.4h0M246.0 81.4h0M250.0 73.6h0M236.5 91.3h0M240.0 72.9h0M253.4 71.3h0M260.6 78.2h0M263.5 77.4h0M249.6 93.7h0M243.8 68.0h0M261.0 87.3h0M248.1 95.8h0M230.7 92.6h0M242.3 88.5h0M239.9 91.6h0M232.3 87.8h0M251.4 58.5h0M251.5 93.4h0M263.5 90.0h0M230.5 95.8h0M251.0 84.5h0M247.7 74.8h0M91.7 186.4h0M94.3 193.8h0M93.0 187.4h0M109.1 190.9h0M196.5 286.6h0M206.5 278.2h0M207.5 284.1h0M203.2 275.9h0M203.1 290.8h0M196.6 272.9h0M199.9 294.3h0M199.2 277.9h0M197.7 272.8h0M195.7 289.3h0M198.3 278.2h0M197.8 290.8h0M203.0 276.3h0M205.3 280.4h0M193.8 280.2h0M197.1 278.9h0M196.3 283.2h0M195.5 289.1h0M267.5 312.5h0M265.8 320.1h0M285.6 311.7h0M260.6 319.8h0M266.7 306.6h0M283.3 312.5h0M282.6 315.6h0M270.6 328.0h0M277.5 311.0h0M262.5 316.8h0M267.7 317.9h0M272.5 299.3h0M269.8 321.3h0M264.9 314.2h0M264.7 293.6h0M275.7 295.4h0M267.7 303.6h0M285.6 306.8h0M281.7 318.0h0M270.1 318.0h0M275.6 329.8h0M281.7 325.0h0M272.0 308.0h0M265.1 317.9h0M273.9 324.6h0M282.1 306.5h0M268.0 304.8h0M267.6 299.5h0M283.3 313.9h0M279.2 320.6h0M274.1 308.5h0M270.6 306.7h0M266.3 316.2h0M279.7 291.0h0M282.0 287.6h0M273.8 297.9h0M283.0 309.1h0M270.7 298.9h0M279.0 305.1h0M278.2 311.9h0M261.1 309.6h0M284.7 313.5h0M262.8 308.0h0M278.1 312.0h0M314.0 279.7h0M319.5 290.3h0M309.7 269.0h0M335.8 295.2h0M329.3 287.5h0M321.1 286.1h0M307.9 267.2h0M312.9 266.9h0M333.0 286.2h0M327.2 298.0h0M334.5 294.8h0M314.8 279.3h0M311.6 267.2h0M315.5 273.0h0M312.4 272.4h0M317.6 271.4h0M314.1 269.1h0M317.8 269.8h0M317.8 271.0h0M319.8 270.8h0M336.5 289.8h0M334.9 296.8h0M330.5 299.5h0M331.4 299.2h0M332.8 300.1h0M335.3 297.6h0M336.9 292.7h0M202.9 293.2h0M200.6 297.5h0M204.0 291.7h0M199.8 296.1h0M203.0 295.0h0M203.8 294.7h0M202.5 296.6h0M201.4 295.3h0M201.0 296.9h0M201.5 299.6h0M280.4 247.5h0M232.8 212.9h0M280.7 179.2h0M228.5 221.1h0M282.3 156.7h0M182.9 228.5h0M204.3 227.0h0M268.0 167.5h0M263.8 248.9h0M221.3 169.4h0M242.8 215.4h0M231.6 212.8h0M162.6 241.4h0M262.7 269.6h0M278.3 198.5h0M220.4 214.0h0M240.8 193.0h0M286.7 166.7h0M230.8 171.8h0M330.6 187.8h0M292.3 183.8h0M316.3 146.8h0M308.0 201.2h0M296.3 138.9h0M334.8 191.1h0M312.8 126.7h0M309.3 129.0h0M309.7 124.4h0M305.1 198.4h0" stroke="#E9522B" stroke-width="1" stroke-linecap="round" fill="none" opacity="0.68"/>
</g>
<g>
<text x="425.30" y="24.00" font-size="30.50" font-weight="bold">b</text>
<rect x="630.70" y="31.20" width="339.80" height="307.40" fill="none" stroke="#5a5a5a" stroke-width="0.9"/>
<rect x="646.50" y="37.10" width="1.54" height="33.70" fill="#FC4E20" stroke="#4a4a4a" stroke-width="0.55"/>
<rect x="648.04" y="37.10" width="4.01" height="33.70" fill="#FFB133" stroke="#4a4a4a" stroke-width="0.55"/>
<rect x="652.05" y="37.10" width="3.09" height="33.70" fill="#3E84CF" stroke="#4a4a4a" stroke-width="0.55"/>
<rect x="655.14" y="37.10" width="299.86" height="33.70" fill="#A6E1FE" stroke="#4a4a4a" stroke-width="0.55"/>
<line x1="629.30" y1="53.95" x2="630.70" y2="53.95" stroke="#333" stroke-width="0.7"/>
<text x="622.60" y="55.95" font-size="12.35" text-anchor="end"><tspan>C0: CD8</tspan><tspan font-size="7.00" dy="-4.60">+</tspan><tspan dy="4.60"> T</tspan><tspan font-size="7.20" dy="3.40">Naive</tspan></text>
<rect x="646.50" y="74.63" width="34.24" height="33.70" fill="#FC4E20" stroke="#4a4a4a" stroke-width="0.55"/>
<rect x="680.74" y="74.63" width="152.09" height="33.70" fill="#FFB133" stroke="#4a4a4a" stroke-width="0.55"/>
<rect x="832.83" y="74.63" width="30.85" height="33.70" fill="#3E84CF" stroke="#4a4a4a" stroke-width="0.55"/>
<rect x="863.68" y="74.63" width="91.32" height="33.70" fill="#A6E1FE" stroke="#4a4a4a" stroke-width="0.55"/>
<line x1="629.30" y1="91.48" x2="630.70" y2="91.48" stroke="#333" stroke-width="0.7"/>
<text x="622.60" y="93.48" font-size="12.35" text-anchor="end"><tspan>C9: CD8</tspan><tspan font-size="7.00" dy="-4.60">+</tspan><tspan dy="4.60"> </tspan><tspan font-style="italic">NR4A2</tspan><tspan font-size="7.00" dy="-4.60">lo</tspan><tspan font-style="italic" dy="4.60">GZMK</tspan><tspan font-size="7.00" dy="-4.60">+</tspan><tspan dy="4.60"> T</tspan><tspan font-size="7.20" dy="3.40">Eff</tspan></text>
<rect x="646.50" y="112.16" width="25.30" height="33.70" fill="#FC4E20" stroke="#4a4a4a" stroke-width="0.55"/>
<rect x="671.80" y="112.16" width="140.68" height="33.70" fill="#FFB133" stroke="#4a4a4a" stroke-width="0.55"/>
<rect x="812.47" y="112.16" width="30.54" height="33.70" fill="#3E84CF" stroke="#4a4a4a" stroke-width="0.55"/>
<rect x="843.01" y="112.16" width="111.99" height="33.70" fill="#A6E1FE" stroke="#4a4a4a" stroke-width="0.55"/>
<line x1="629.30" y1="129.01" x2="630.70" y2="129.01" stroke="#333" stroke-width="0.7"/>
<text x="622.60" y="131.01" font-size="12.35" text-anchor="end"><tspan>C20: CD8</tspan><tspan font-size="7.00" dy="-4.60">+</tspan><tspan dy="4.60"> </tspan><tspan font-style="italic">NR4A2</tspan><tspan font-size="7.00" dy="-4.60">hi</tspan><tspan dy="4.60"> </tspan><tspan font-style="italic">GZMK</tspan><tspan font-size="7.00" dy="-4.60">+</tspan><tspan dy="4.60"> T</tspan><tspan font-size="7.20" dy="3.40">Eff</tspan></text>
<rect x="646.50" y="149.69" width="35.17" height="33.70" fill="#FC4E20" stroke="#4a4a4a" stroke-width="0.55"/>
<rect x="681.67" y="149.69" width="104.58" height="33.70" fill="#FFB133" stroke="#4a4a4a" stroke-width="0.55"/>
<rect x="786.25" y="149.69" width="35.17" height="33.70" fill="#3E84CF" stroke="#4a4a4a" stroke-width="0.55"/>
<rect x="821.42" y="149.69" width="133.58" height="33.70" fill="#A6E1FE" stroke="#4a4a4a" stroke-width="0.55"/>
<line x1="629.30" y1="166.54" x2="630.70" y2="166.54" stroke="#333" stroke-width="0.7"/>
<text x="619.60" y="168.54" font-size="12.35" text-anchor="end"><tspan>C10: CD8</tspan><tspan font-size="7.00" dy="-4.60">+</tspan><tspan dy="4.60"> Cytotoxic T</tspan><tspan font-size="7.20" dy="3.40">RM</tspan></text>
<rect x="646.50" y="187.22" width="45.35" height="33.70" fill="#FC4E20" stroke="#4a4a4a" stroke-width="0.55"/>
<rect x="691.85" y="187.22" width="185.72" height="33.70" fill="#FFB133" stroke="#4a4a4a" stroke-width="0.55"/>
<rect x="877.57" y="187.22" width="23.75" height="33.70" fill="#3E84CF" stroke="#4a4a4a" stroke-width="0.55"/>
<rect x="901.32" y="187.22" width="53.68" height="33.70" fill="#A6E1FE" stroke="#4a4a4a" stroke-width="0.55"/>
<line x1="629.30" y1="204.07" x2="630.70" y2="204.07" stroke="#333" stroke-width="0.7"/>
<text x="622.60" y="206.07" font-size="12.35" text-anchor="end"><tspan>C12: CD8</tspan><tspan font-size="7.00" dy="-4.60">+</tspan><tspan dy="4.60"> T</tspan><tspan font-size="7.20" dy="3.40">EMRA</tspan></text>
<rect x="646.50" y="224.75" width="56.46" height="33.70" fill="#FC4E20" stroke="#4a4a4a" stroke-width="0.55"/>
<rect x="702.96" y="224.75" width="124.63" height="33.70" fill="#FFB133" stroke="#4a4a4a" stroke-width="0.55"/>
<rect x="827.59" y="224.75" width="32.39" height="33.70" fill="#3E84CF" stroke="#4a4a4a" stroke-width="0.55"/>
<rect x="859.98" y="224.75" width="95.02" height="33.70" fill="#A6E1FE" stroke="#4a4a4a" stroke-width="0.55"/>
<line x1="629.30" y1="241.60" x2="630.70" y2="241.60" stroke="#333" stroke-width="0.7"/>
<text x="622.60" y="244.60" font-size="12.35" text-anchor="end"><tspan>C13: IFNγ stimulated T cells</tspan></text>
<rect x="646.50" y="262.28" width="114.14" height="33.70" fill="#FC4E20" stroke="#4a4a4a" stroke-width="0.55"/>
<rect x="760.64" y="262.28" width="53.06" height="33.70" fill="#FFB133" stroke="#4a4a4a" stroke-width="0.55"/>
<rect x="813.71" y="262.28" width="29.92" height="33.70" fill="#3E84CF" stroke="#4a4a4a" stroke-width="0.55"/>
<rect x="843.63" y="262.28" width="111.37" height="33.70" fill="#A6E1FE" stroke="#4a4a4a" stroke-width="0.55"/>
<line x1="629.30" y1="279.13" x2="630.70" y2="279.13" stroke="#333" stroke-width="0.7"/>
<text x="622.60" y="282.13" font-size="12.35" text-anchor="end"><tspan>C15: MAIT-like</tspan></text>
<rect x="646.50" y="299.81" width="75.89" height="33.70" fill="#FC4E20" stroke="#4a4a4a" stroke-width="0.55"/>
<rect x="722.39" y="299.81" width="105.20" height="33.70" fill="#FFB133" stroke="#4a4a4a" stroke-width="0.55"/>
<rect x="827.59" y="299.81" width="22.21" height="33.70" fill="#3E84CF" stroke="#4a4a4a" stroke-width="0.55"/>
<rect x="849.80" y="299.81" width="105.20" height="33.70" fill="#A6E1FE" stroke="#4a4a4a" stroke-width="0.55"/>
<line x1="629.30" y1="316.66" x2="630.70" y2="316.66" stroke="#333" stroke-width="0.7"/>
<text x="622.60" y="319.66" font-size="12.35" text-anchor="end"><tspan>C18: Proliferating</tspan></text>
<line x1="646.50" y1="338.60" x2="646.50" y2="340.60" stroke="#333" stroke-width="0.7"/>
<text x="646.50" y="351.50" font-size="10.00" text-anchor="middle">0.00</text>
<line x1="723.62" y1="338.60" x2="723.62" y2="340.60" stroke="#333" stroke-width="0.7"/>
<text x="723.62" y="351.50" font-size="10.00" text-anchor="middle">0.25</text>
<line x1="800.75" y1="338.60" x2="800.75" y2="340.60" stroke="#333" stroke-width="0.7"/>
<text x="800.75" y="351.50" font-size="10.00" text-anchor="middle">0.50</text>
<line x1="877.88" y1="338.60" x2="877.88" y2="340.60" stroke="#333" stroke-width="0.7"/>
<text x="877.88" y="351.50" font-size="10.00" text-anchor="middle">0.75</text>
<line x1="955.00" y1="338.60" x2="955.00" y2="340.60" stroke="#333" stroke-width="0.7"/>
<text x="955.00" y="351.50" font-size="10.00" text-anchor="middle">1.00</text>
<text x="800.70" y="366.20" font-size="9.79" text-anchor="middle">Frequency of expansion states per cell state</text>
</g>
<g>
<text x="0.60" y="385.20" font-size="30.50" font-weight="bold">c</text>
<text x="21.50" y="628.40" font-size="11.75" text-anchor="middle" transform="rotate(-90 21.50 628.40)">Absolute count of TCR clonotype</text>
<circle cx="230.7" cy="398.1" r="3.05" fill="#E0601F"/>
<text x="243.60" y="401.60" font-size="9.95"><tspan>C0: CD8</tspan><tspan font-size="5.80" dy="-3.80">+</tspan><tspan dy="3.80"> T</tspan><tspan font-size="5.80" dy="3.80">Naive</tspan></text>
<circle cx="230.7" cy="411.5" r="3.05" fill="#A8D3E9"/>
<text x="243.60" y="415.00" font-size="9.95"><tspan>C9: CD8</tspan><tspan font-size="5.80" dy="-3.80">+</tspan><tspan dy="3.80"> </tspan><tspan font-style="italic">NR4A2</tspan><tspan font-size="5.80" dy="-3.80">lo</tspan><tspan dy="3.80"> </tspan><tspan font-style="italic">GZMK</tspan><tspan font-size="5.80" dy="-3.80">+</tspan><tspan dy="3.80"> T</tspan><tspan font-size="5.80" dy="3.80">Eff</tspan></text>
<circle cx="230.7" cy="424.4" r="3.05" fill="#6C63B3"/>
<text x="243.60" y="427.90" font-size="9.95"><tspan>C20: CD8</tspan><tspan font-size="5.80" dy="-3.80">+</tspan><tspan dy="3.80"> </tspan><tspan font-style="italic">NR4A2</tspan><tspan font-size="5.80" dy="-3.80">hi</tspan><tspan dy="3.80"> </tspan><tspan font-style="italic">GZMK</tspan><tspan font-size="5.80" dy="-3.80">+</tspan><tspan dy="3.80"> T</tspan><tspan font-size="5.80" dy="3.80">Eff</tspan></text>
<circle cx="230.7" cy="437.3" r="3.05" fill="#C7C3E5"/>
<text x="243.60" y="440.80" font-size="9.95"><tspan>C10: CD8</tspan><tspan font-size="5.80" dy="-3.80">+</tspan><tspan dy="3.80"> Cytotoxic T</tspan><tspan font-size="5.80" dy="3.80">RM</tspan></text>
<circle cx="230.7" cy="450.2" r="3.05" fill="#E0606A"/>
<text x="243.60" y="453.70" font-size="9.95"><tspan>C12: CD8</tspan><tspan font-size="5.80" dy="-3.80">+</tspan><tspan dy="3.80"> T</tspan><tspan font-size="5.80" dy="3.80">EMRA</tspan></text>
<circle cx="230.7" cy="463.1" r="3.05" fill="#F2BFCC"/>
<text x="243.60" y="466.60" font-size="9.95"><tspan>C13: IFNγ stimulated T cells</tspan></text>
<circle cx="230.7" cy="475.2" r="3.05" fill="#1B8090"/>
<text x="243.60" y="478.70" font-size="9.95"><tspan>C15: MAIT-like</tspan></text>
<circle cx="230.7" cy="487.2" r="3.05" fill="#C4C4C4"/>
<text x="243.60" y="490.70" font-size="9.95"><tspan>C18: Proliferating</tspan></text>
<rect x="47.40" y="445.48" width="5.51" height="87.32" fill="#1B8090" stroke="#3a3a55" stroke-width="0.35"/>
<rect x="47.40" y="441.40" width="5.51" height="4.08" fill="#E0606A" stroke="#3a3a55" stroke-width="0.35"/>
<rect x="47.40" y="420.85" width="5.51" height="20.55" fill="#C7C3E5" stroke="#3a3a55" stroke-width="0.35"/>
<rect x="47.40" y="415.85" width="5.51" height="5.00" fill="#6C63B3" stroke="#3a3a55" stroke-width="0.35"/>
<rect x="47.40" y="407.03" width="5.51" height="8.82" fill="#A8D3E9" stroke="#3a3a55" stroke-width="0.35"/>
<rect x="52.91" y="471.03" width="5.51" height="61.77" fill="#1B8090" stroke="#3a3a55" stroke-width="0.35"/>
<rect x="52.91" y="468.40" width="5.51" height="2.63" fill="#6C63B3" stroke="#3a3a55" stroke-width="0.35"/>
<rect x="58.43" y="511.07" width="5.51" height="21.73" fill="#E0606A" stroke="#3a3a55" stroke-width="0.35"/>
<rect x="58.43" y="510.08" width="5.51" height="0.99" fill="#6C63B3" stroke="#3a3a55" stroke-width="0.35"/>
<rect x="58.43" y="507.25" width="5.51" height="2.83" fill="#A8D3E9" stroke="#3a3a55" stroke-width="0.35"/>
<rect x="63.94" y="511.07" width="5.51" height="21.73" fill="#E0606A" stroke="#3a3a55" stroke-width="0.35"/>
<rect x="63.94" y="510.08" width="5.51" height="0.99" fill="#6C63B3" stroke="#3a3a55" stroke-width="0.35"/>
<rect x="63.94" y="507.12" width="5.51" height="2.96" fill="#A8D3E9" stroke="#3a3a55" stroke-width="0.35"/>
<rect x="69.46" y="520.29" width="5.51" height="12.51" fill="#1B8090" stroke="#3a3a55" stroke-width="0.35"/>
<rect x="69.46" y="517.65" width="5.51" height="2.63" fill="#A8D3E9" stroke="#3a3a55" stroke-width="0.35"/>
<rect x="69.46" y="514.36" width="5.51" height="3.29" fill="#C7C3E5" stroke="#3a3a55" stroke-width="0.35"/>
<rect x="74.97" y="516.34" width="5.51" height="16.46" fill="#E0606A" stroke="#3a3a55" stroke-width="0.35"/>
<rect x="74.97" y="514.36" width="5.51" height="1.98" fill="#C7C3E5" stroke="#3a3a55" stroke-width="0.35"/>
<rect x="80.49" y="518.97" width="5.51" height="13.83" fill="#E0606A" stroke="#3a3a55" stroke-width="0.35"/>
<rect x="80.49" y="518.31" width="5.51" height="0.66" fill="#6C63B3" stroke="#3a3a55" stroke-width="0.35"/>
<rect x="86.00" y="522.26" width="5.51" height="10.54" fill="#E0606A" stroke="#3a3a55" stroke-width="0.35"/>
<rect x="86.00" y="520.55" width="5.51" height="1.71" fill="#C7C3E5" stroke="#3a3a55" stroke-width="0.35"/>
<rect x="91.52" y="531.48" width="5.51" height="1.32" fill="#1B8090" stroke="#3a3a55" stroke-width="0.35"/>
<rect x="91.52" y="529.51" width="5.51" height="1.98" fill="#C7C3E5" stroke="#3a3a55" stroke-width="0.35"/>
<rect x="91.52" y="523.58" width="5.51" height="5.93" fill="#6C63B3" stroke="#3a3a55" stroke-width="0.35"/>
<rect x="91.52" y="520.55" width="5.51" height="3.03" fill="#A8D3E9" stroke="#3a3a55" stroke-width="0.35"/>
<rect x="97.03" y="526.21" width="5.51" height="6.58" fill="#E0606A" stroke="#3a3a55" stroke-width="0.35"/>
<rect x="97.03" y="521.14" width="5.51" height="5.07" fill="#C7C3E5" stroke="#3a3a55" stroke-width="0.35"/>
<rect x="102.55" y="527.53" width="5.51" height="5.27" fill="#E0606A" stroke="#3a3a55" stroke-width="0.35"/>
<rect x="102.55" y="525.56" width="5.51" height="1.98" fill="#C7C3E5" stroke="#3a3a55" stroke-width="0.35"/>
<rect x="102.55" y="523.19" width="5.51" height="2.37" fill="#A8D3E9" stroke="#3a3a55" stroke-width="0.35"/>
<rect x="108.06" y="525.89" width="5.51" height="6.91" fill="#E0606A" stroke="#3a3a55" stroke-width="0.35"/>
<rect x="108.06" y="523.19" width="5.51" height="2.70" fill="#6C63B3" stroke="#3a3a55" stroke-width="0.35"/>
<rect x="113.58" y="527.53" width="5.51" height="5.27" fill="#E0606A" stroke="#3a3a55" stroke-width="0.35"/>
<rect x="113.58" y="524.63" width="5.51" height="2.90" fill="#C7C3E5" stroke="#3a3a55" stroke-width="0.35"/>
<rect x="119.09" y="530.17" width="5.51" height="2.63" fill="#E0606A" stroke="#3a3a55" stroke-width="0.35"/>
<rect x="119.09" y="526.87" width="5.51" height="3.29" fill="#6C63B3" stroke="#3a3a55" stroke-width="0.35"/>
<rect x="119.09" y="524.24" width="5.51" height="2.63" fill="#C7C3E5" stroke="#3a3a55" stroke-width="0.35"/>
<rect x="124.61" y="525.23" width="5.51" height="7.57" fill="#6C63B3" stroke="#3a3a55" stroke-width="0.35"/>
<rect x="130.12" y="526.87" width="5.51" height="5.93" fill="#E0606A" stroke="#3a3a55" stroke-width="0.35"/>
<rect x="130.12" y="525.23" width="5.51" height="1.65" fill="#6C63B3" stroke="#3a3a55" stroke-width="0.35"/>
<rect x="135.64" y="528.85" width="5.51" height="3.95" fill="#E0606A" stroke="#3a3a55" stroke-width="0.35"/>
<rect x="135.64" y="527.53" width="5.51" height="1.32" fill="#C7C3E5" stroke="#3a3a55" stroke-width="0.35"/>
<rect x="135.64" y="525.42" width="5.51" height="2.11" fill="#6C63B3" stroke="#3a3a55" stroke-width="0.35"/>
<rect x="141.16" y="527.53" width="5.51" height="5.27" fill="#E0606A" stroke="#3a3a55" stroke-width="0.35"/>
<rect x="141.16" y="525.56" width="5.51" height="1.98" fill="#6C63B3" stroke="#3a3a55" stroke-width="0.35"/>
<rect x="146.67" y="526.87" width="5.51" height="5.93" fill="#E0606A" stroke="#3a3a55" stroke-width="0.35"/>
<rect x="146.67" y="525.69" width="5.51" height="1.19" fill="#6C63B3" stroke="#3a3a55" stroke-width="0.35"/>
<rect x="152.19" y="525.89" width="5.51" height="6.91" fill="#1B8090" stroke="#3a3a55" stroke-width="0.35"/>
<rect x="157.70" y="527.86" width="5.51" height="4.94" fill="#E0606A" stroke="#3a3a55" stroke-width="0.35"/>
<rect x="157.70" y="526.21" width="5.51" height="1.65" fill="#6C63B3" stroke="#3a3a55" stroke-width="0.35"/>
<rect x="163.22" y="528.06" width="5.51" height="4.74" fill="#E0606A" stroke="#3a3a55" stroke-width="0.35"/>
<rect x="163.22" y="526.47" width="5.51" height="1.58" fill="#6C63B3" stroke="#3a3a55" stroke-width="0.35"/>
<rect x="168.73" y="526.73" width="5.51" height="6.07" fill="#E0606A" stroke="#3a3a55" stroke-width="0.35"/>
<rect x="174.25" y="528.43" width="5.51" height="4.37" fill="#E0606A" stroke="#3a3a55" stroke-width="0.35"/>
<rect x="174.25" y="526.97" width="5.51" height="1.46" fill="#6C63B3" stroke="#3a3a55" stroke-width="0.35"/>
<rect x="179.76" y="527.21" width="5.51" height="5.59" fill="#E0606A" stroke="#3a3a55" stroke-width="0.35"/>
<rect x="185.28" y="528.78" width="5.51" height="4.02" fill="#E0606A" stroke="#3a3a55" stroke-width="0.35"/>
<rect x="185.28" y="527.44" width="5.51" height="1.34" fill="#6C63B3" stroke="#3a3a55" stroke-width="0.35"/>
<rect x="190.79" y="528.95" width="5.51" height="3.85" fill="#E0606A" stroke="#3a3a55" stroke-width="0.35"/>
<rect x="190.79" y="527.66" width="5.51" height="1.28" fill="#6C63B3" stroke="#3a3a55" stroke-width="0.35"/>
<rect x="196.31" y="527.88" width="5.51" height="4.92" fill="#E0606A" stroke="#3a3a55" stroke-width="0.35"/>
<rect x="201.82" y="529.26" width="5.51" height="3.54" fill="#E0606A" stroke="#3a3a55" stroke-width="0.35"/>
<rect x="201.82" y="528.09" width="5.51" height="1.18" fill="#6C63B3" stroke="#3a3a55" stroke-width="0.35"/>
<rect x="207.34" y="529.42" width="5.51" height="3.38" fill="#E0606A" stroke="#3a3a55" stroke-width="0.35"/>
<rect x="207.34" y="528.29" width="5.51" height="1.13" fill="#6C63B3" stroke="#3a3a55" stroke-width="0.35"/>
<rect x="212.85" y="529.56" width="5.51" height="3.24" fill="#E0606A" stroke="#3a3a55" stroke-width="0.35"/>
<rect x="212.85" y="528.48" width="5.51" height="1.08" fill="#6C63B3" stroke="#3a3a55" stroke-width="0.35"/>
<rect x="218.37" y="528.67" width="5.51" height="4.13" fill="#1B8090" stroke="#3a3a55" stroke-width="0.35"/>
<rect x="223.88" y="529.84" width="5.51" height="2.96" fill="#E0606A" stroke="#3a3a55" stroke-width="0.35"/>
<rect x="223.88" y="528.85" width="5.51" height="0.99" fill="#6C63B3" stroke="#3a3a55" stroke-width="0.35"/>
<rect x="229.39" y="531.67" width="5.51" height="1.13" fill="#E0606A" stroke="#3a3a55" stroke-width="0.35"/>
<rect x="229.39" y="529.97" width="5.51" height="1.70" fill="#A8D3E9" stroke="#3a3a55" stroke-width="0.35"/>
<rect x="229.39" y="529.02" width="5.51" height="0.94" fill="#6C63B3" stroke="#3a3a55" stroke-width="0.35"/>
<rect x="234.91" y="530.09" width="5.51" height="2.71" fill="#E0606A" stroke="#3a3a55" stroke-width="0.35"/>
<rect x="234.91" y="529.19" width="5.51" height="0.90" fill="#6C63B3" stroke="#3a3a55" stroke-width="0.35"/>
<rect x="240.42" y="530.21" width="5.51" height="2.59" fill="#E0606A" stroke="#3a3a55" stroke-width="0.35"/>
<rect x="240.42" y="529.35" width="5.51" height="0.86" fill="#6C63B3" stroke="#3a3a55" stroke-width="0.35"/>
<rect x="245.94" y="531.81" width="5.51" height="0.99" fill="#E0606A" stroke="#3a3a55" stroke-width="0.35"/>
<rect x="245.94" y="530.33" width="5.51" height="1.48" fill="#A8D3E9" stroke="#3a3a55" stroke-width="0.35"/>
<rect x="245.94" y="529.51" width="5.51" height="0.82" fill="#6C63B3" stroke="#3a3a55" stroke-width="0.35"/>
<rect x="251.45" y="530.91" width="5.51" height="1.89" fill="#6C63B3" stroke="#3a3a55" stroke-width="0.35"/>
<rect x="251.45" y="529.65" width="5.51" height="1.26" fill="#E0606A" stroke="#3a3a55" stroke-width="0.35"/>
<rect x="256.97" y="529.79" width="5.51" height="3.01" fill="#E0606A" stroke="#3a3a55" stroke-width="0.35"/>
<rect x="262.48" y="530.65" width="5.51" height="2.15" fill="#E0606A" stroke="#3a3a55" stroke-width="0.35"/>
<rect x="262.48" y="529.93" width="5.51" height="0.72" fill="#6C63B3" stroke="#3a3a55" stroke-width="0.35"/>
<rect x="268.00" y="531.15" width="5.51" height="1.65" fill="#6C63B3" stroke="#3a3a55" stroke-width="0.35"/>
<rect x="268.00" y="530.05" width="5.51" height="1.10" fill="#E0606A" stroke="#3a3a55" stroke-width="0.35"/>
<rect x="273.51" y="530.18" width="5.51" height="2.62" fill="#1B8090" stroke="#3a3a55" stroke-width="0.35"/>
<rect x="279.03" y="530.29" width="5.51" height="2.51" fill="#1B8090" stroke="#3a3a55" stroke-width="0.35"/>
<rect x="284.54" y="531.00" width="5.51" height="1.80" fill="#E0606A" stroke="#3a3a55" stroke-width="0.35"/>
<rect x="284.54" y="530.40" width="5.51" height="0.60" fill="#6C63B3" stroke="#3a3a55" stroke-width="0.35"/>
<rect x="290.06" y="531.07" width="5.51" height="1.73" fill="#E0606A" stroke="#3a3a55" stroke-width="0.35"/>
<rect x="290.06" y="530.50" width="5.51" height="0.58" fill="#6C63B3" stroke="#3a3a55" stroke-width="0.35"/>
<rect x="295.57" y="531.15" width="5.51" height="1.65" fill="#E0606A" stroke="#3a3a55" stroke-width="0.35"/>
<rect x="295.57" y="530.60" width="5.51" height="0.55" fill="#6C63B3" stroke="#3a3a55" stroke-width="0.35"/>
<rect x="301.09" y="531.21" width="5.51" height="1.59" fill="#E0606A" stroke="#3a3a55" stroke-width="0.35"/>
<rect x="301.09" y="530.68" width="5.51" height="0.53" fill="#6C63B3" stroke="#3a3a55" stroke-width="0.35"/>
<rect x="306.60" y="532.19" width="5.51" height="0.61" fill="#E0606A" stroke="#3a3a55" stroke-width="0.35"/>
<rect x="306.60" y="531.28" width="5.51" height="0.91" fill="#A8D3E9" stroke="#3a3a55" stroke-width="0.35"/>
<rect x="306.60" y="530.77" width="5.51" height="0.51" fill="#6C63B3" stroke="#3a3a55" stroke-width="0.35"/>
<rect x="312.12" y="531.33" width="5.51" height="1.47" fill="#E0606A" stroke="#3a3a55" stroke-width="0.35"/>
<rect x="312.12" y="530.84" width="5.51" height="0.49" fill="#6C63B3" stroke="#3a3a55" stroke-width="0.35"/>
<rect x="317.63" y="530.92" width="5.51" height="1.88" fill="#E0606A" stroke="#3a3a55" stroke-width="0.35"/>
<rect x="323.15" y="530.98" width="5.51" height="1.82" fill="#E0606A" stroke="#3a3a55" stroke-width="0.35"/>
<rect x="328.66" y="531.48" width="5.51" height="1.32" fill="#E0606A" stroke="#3a3a55" stroke-width="0.35"/>
<rect x="328.66" y="531.04" width="5.51" height="0.44" fill="#6C63B3" stroke="#3a3a55" stroke-width="0.35"/>
<rect x="334.18" y="531.10" width="5.51" height="1.70" fill="#1B8090" stroke="#3a3a55" stroke-width="0.35"/>
<rect x="339.69" y="531.56" width="5.51" height="1.24" fill="#E0606A" stroke="#3a3a55" stroke-width="0.35"/>
<rect x="339.69" y="531.14" width="5.51" height="0.41" fill="#6C63B3" stroke="#3a3a55" stroke-width="0.35"/>
<rect x="345.21" y="531.59" width="5.51" height="1.21" fill="#E0606A" stroke="#3a3a55" stroke-width="0.35"/>
<rect x="345.21" y="531.19" width="5.51" height="0.40" fill="#6C63B3" stroke="#3a3a55" stroke-width="0.35"/>
<rect x="350.72" y="531.62" width="5.51" height="1.18" fill="#E0606A" stroke="#3a3a55" stroke-width="0.35"/>
<rect x="350.72" y="531.22" width="5.51" height="0.39" fill="#6C63B3" stroke="#3a3a55" stroke-width="0.35"/>
<rect x="356.24" y="531.26" width="5.51" height="1.54" fill="#E0606A" stroke="#3a3a55" stroke-width="0.35"/>
<rect x="361.75" y="531.66" width="5.51" height="1.14" fill="#E0606A" stroke="#3a3a55" stroke-width="0.35"/>
<rect x="361.75" y="531.28" width="5.51" height="0.38" fill="#6C63B3" stroke="#3a3a55" stroke-width="0.35"/>
<rect x="367.27" y="531.68" width="5.51" height="1.12" fill="#E0606A" stroke="#3a3a55" stroke-width="0.35"/>
<rect x="367.27" y="531.31" width="5.51" height="0.37" fill="#6C63B3" stroke="#3a3a55" stroke-width="0.35"/>
<rect x="372.78" y="531.32" width="5.51" height="1.48" fill="#E0606A" stroke="#3a3a55" stroke-width="0.35"/>
<rect x="378.30" y="531.34" width="5.51" height="1.46" fill="#E0606A" stroke="#3a3a55" stroke-width="0.35"/>
<rect x="383.81" y="531.71" width="5.51" height="1.09" fill="#E0606A" stroke="#3a3a55" stroke-width="0.35"/>
<rect x="383.81" y="531.35" width="5.51" height="0.36" fill="#6C63B3" stroke="#3a3a55" stroke-width="0.35"/>
<rect x="389.33" y="532.07" width="5.51" height="0.73" fill="#E0606A" stroke="#3a3a55" stroke-width="0.35"/>
<rect x="389.33" y="531.78" width="5.51" height="0.29" fill="#C7C3E5" stroke="#3a3a55" stroke-width="0.35"/>
<rect x="389.33" y="531.35" width="5.51" height="0.44" fill="#6C63B3" stroke="#3a3a55" stroke-width="0.35"/>
<line x1="46.80" y1="397.50" x2="46.80" y2="539.30" stroke="#555" stroke-width="0.8"/>
<line x1="46.40" y1="539.30" x2="394.80" y2="539.30" stroke="#8a8a8a" stroke-width="1"/>
<text x="43.60" y="535.10" font-size="6.40" text-anchor="end" fill="#222">0</text>
<text x="43.60" y="502.17" font-size="6.40" text-anchor="end" fill="#222">50</text>
<text x="43.60" y="469.25" font-size="6.40" text-anchor="end" fill="#222">100</text>
<text x="43.60" y="436.32" font-size="6.40" text-anchor="end" fill="#222">150</text>
<text x="43.60" y="403.40" font-size="6.40" text-anchor="end" fill="#222">200</text>
<text x="46.50" y="394.20" font-size="10.05" font-weight="bold" fill="#111">HGG Matched PBMC</text>
<rect x="47.40" y="613.43" width="6.42" height="82.97" fill="#1B8090" stroke="#3a3a55" stroke-width="0.35"/>
<rect x="47.40" y="610.09" width="6.42" height="3.34" fill="#6C63B3" stroke="#3a3a55" stroke-width="0.35"/>
<rect x="47.40" y="608.83" width="6.42" height="1.26" fill="#C7C3E5" stroke="#3a3a55" stroke-width="0.35"/>
<rect x="47.40" y="606.31" width="6.42" height="2.52" fill="#A8D3E9" stroke="#3a3a55" stroke-width="0.35"/>
<rect x="53.82" y="692.62" width="6.42" height="3.78" fill="#C7C3E5" stroke="#3a3a55" stroke-width="0.35"/>
<rect x="53.82" y="690.73" width="6.42" height="1.89" fill="#F2BFCC" stroke="#3a3a55" stroke-width="0.35"/>
<rect x="53.82" y="688.21" width="6.42" height="2.52" fill="#C7C3E5" stroke="#3a3a55" stroke-width="0.35"/>
<rect x="53.82" y="664.27" width="6.42" height="23.94" fill="#6C63B3" stroke="#3a3a55" stroke-width="0.35"/>
<rect x="53.82" y="648.27" width="6.42" height="16.00" fill="#A8D3E9" stroke="#3a3a55" stroke-width="0.35"/>
<rect x="60.24" y="656.08" width="6.42" height="40.32" fill="#1B8090" stroke="#3a3a55" stroke-width="0.35"/>
<rect x="60.24" y="650.41" width="6.42" height="5.67" fill="#C7C3E5" stroke="#3a3a55" stroke-width="0.35"/>
<rect x="60.24" y="649.15" width="6.42" height="1.26" fill="#6C63B3" stroke="#3a3a55" stroke-width="0.35"/>
<rect x="66.66" y="674.98" width="6.42" height="21.42" fill="#C7C3E5" stroke="#3a3a55" stroke-width="0.35"/>
<rect x="66.66" y="670.57" width="6.42" height="4.41" fill="#6C63B3" stroke="#3a3a55" stroke-width="0.35"/>
<rect x="66.66" y="655.45" width="6.42" height="15.12" fill="#A8D3E9" stroke="#3a3a55" stroke-width="0.35"/>
<rect x="73.08" y="670.57" width="6.42" height="25.83" fill="#6C63B3" stroke="#3a3a55" stroke-width="0.35"/>
<rect x="73.08" y="659.54" width="6.42" height="11.03" fill="#A8D3E9" stroke="#3a3a55" stroke-width="0.35"/>
<rect x="79.50" y="693.25" width="6.42" height="3.15" fill="#F2BFCC" stroke="#3a3a55" stroke-width="0.35"/>
<rect x="79.50" y="666.79" width="6.42" height="26.46" fill="#E0606A" stroke="#3a3a55" stroke-width="0.35"/>
<rect x="79.50" y="664.27" width="6.42" height="2.52" fill="#C7C3E5" stroke="#3a3a55" stroke-width="0.35"/>
<rect x="85.92" y="681.28" width="6.42" height="15.12" fill="#E0606A" stroke="#3a3a55" stroke-width="0.35"/>
<rect x="85.92" y="677.50" width="6.42" height="3.78" fill="#C7C3E5" stroke="#3a3a55" stroke-width="0.35"/>
<rect x="85.92" y="671.20" width="6.42" height="6.30" fill="#6C63B3" stroke="#3a3a55" stroke-width="0.35"/>
<rect x="85.92" y="667.11" width="6.42" height="4.09" fill="#A8D3E9" stroke="#3a3a55" stroke-width="0.35"/>
<rect x="85.92" y="665.66" width="6.42" height="1.45" fill="#E0606A" stroke="#3a3a55" stroke-width="0.35"/>
<rect x="92.34" y="690.10" width="6.42" height="6.30" fill="#E0606A" stroke="#3a3a55" stroke-width="0.35"/>
<rect x="92.34" y="673.72" width="6.42" height="16.38" fill="#6C63B3" stroke="#3a3a55" stroke-width="0.35"/>
<rect x="92.34" y="666.79" width="6.42" height="6.93" fill="#A8D3E9" stroke="#3a3a55" stroke-width="0.35"/>
<rect x="98.76" y="676.87" width="6.42" height="19.53" fill="#6C63B3" stroke="#3a3a55" stroke-width="0.35"/>
<rect x="98.76" y="667.42" width="6.42" height="9.45" fill="#A8D3E9" stroke="#3a3a55" stroke-width="0.35"/>
<rect x="105.18" y="678.13" width="6.42" height="18.27" fill="#6C63B3" stroke="#3a3a55" stroke-width="0.35"/>
<rect x="105.18" y="667.42" width="6.42" height="10.71" fill="#A8D3E9" stroke="#3a3a55" stroke-width="0.35"/>
<rect x="111.60" y="678.13" width="6.42" height="18.27" fill="#6C63B3" stroke="#3a3a55" stroke-width="0.35"/>
<rect x="111.60" y="667.42" width="6.42" height="10.71" fill="#A8D3E9" stroke="#3a3a55" stroke-width="0.35"/>
<rect x="118.02" y="687.58" width="6.42" height="8.82" fill="#E0606A" stroke="#3a3a55" stroke-width="0.35"/>
<rect x="118.02" y="679.01" width="6.42" height="8.57" fill="#6C63B3" stroke="#3a3a55" stroke-width="0.35"/>
<rect x="118.02" y="669.31" width="6.42" height="9.70" fill="#A8D3E9" stroke="#3a3a55" stroke-width="0.35"/>
<rect x="124.44" y="681.47" width="6.42" height="14.93" fill="#6C63B3" stroke="#3a3a55" stroke-width="0.35"/>
<rect x="124.44" y="671.39" width="6.42" height="10.08" fill="#A8D3E9" stroke="#3a3a55" stroke-width="0.35"/>
<rect x="130.86" y="693.25" width="6.42" height="3.15" fill="#C7C3E5" stroke="#3a3a55" stroke-width="0.35"/>
<rect x="130.86" y="681.47" width="6.42" height="11.78" fill="#6C63B3" stroke="#3a3a55" stroke-width="0.35"/>
<rect x="130.86" y="674.35" width="6.42" height="7.12" fill="#A8D3E9" stroke="#3a3a55" stroke-width="0.35"/>
<rect x="137.28" y="684.43" width="6.42" height="11.97" fill="#6C63B3" stroke="#3a3a55" stroke-width="0.35"/>
<rect x="137.28" y="674.35" width="6.42" height="10.08" fill="#A8D3E9" stroke="#3a3a55" stroke-width="0.35"/>
<rect x="143.70" y="687.58" width="6.42" height="8.82" fill="#E0606A" stroke="#3a3a55" stroke-width="0.35"/>
<rect x="143.70" y="682.04" width="6.42" height="5.54" fill="#6C63B3" stroke="#3a3a55" stroke-width="0.35"/>
<rect x="143.70" y="674.98" width="6.42" height="7.06" fill="#A8D3E9" stroke="#3a3a55" stroke-width="0.35"/>
<rect x="150.12" y="686.32" width="6.42" height="10.08" fill="#6C63B3" stroke="#3a3a55" stroke-width="0.35"/>
<rect x="150.12" y="675.29" width="6.42" height="11.03" fill="#A8D3E9" stroke="#3a3a55" stroke-width="0.35"/>
<rect x="156.54" y="687.58" width="6.42" height="8.82" fill="#E0606A" stroke="#3a3a55" stroke-width="0.35"/>
<rect x="156.54" y="678.13" width="6.42" height="9.45" fill="#6C63B3" stroke="#3a3a55" stroke-width="0.35"/>
<rect x="156.54" y="675.92" width="6.42" height="2.21" fill="#C7C3E5" stroke="#3a3a55" stroke-width="0.35"/>
<rect x="162.96" y="677.50" width="6.42" height="18.90" fill="#E0606A" stroke="#3a3a55" stroke-width="0.35"/>
<rect x="162.96" y="675.92" width="6.42" height="1.57" fill="#F2BFCC" stroke="#3a3a55" stroke-width="0.35"/>
<rect x="169.38" y="677.50" width="6.42" height="18.90" fill="#E0606A" stroke="#3a3a55" stroke-width="0.35"/>
<rect x="169.38" y="676.24" width="6.42" height="1.26" fill="#6C63B3" stroke="#3a3a55" stroke-width="0.35"/>
<rect x="175.80" y="679.01" width="6.42" height="17.39" fill="#E0606A" stroke="#3a3a55" stroke-width="0.35"/>
<rect x="175.80" y="676.24" width="6.42" height="2.77" fill="#A8D3E9" stroke="#3a3a55" stroke-width="0.35"/>
<rect x="182.22" y="683.17" width="6.42" height="13.23" fill="#6C63B3" stroke="#3a3a55" stroke-width="0.35"/>
<rect x="182.22" y="676.87" width="6.42" height="6.30" fill="#A8D3E9" stroke="#3a3a55" stroke-width="0.35"/>
<rect x="188.64" y="691.36" width="6.42" height="5.04" fill="#C7C3E5" stroke="#3a3a55" stroke-width="0.35"/>
<rect x="188.64" y="685.06" width="6.42" height="6.30" fill="#6C63B3" stroke="#3a3a55" stroke-width="0.35"/>
<rect x="188.64" y="676.87" width="6.42" height="8.19" fill="#A8D3E9" stroke="#3a3a55" stroke-width="0.35"/>
<rect x="195.06" y="693.88" width="6.42" height="2.52" fill="#C7C3E5" stroke="#3a3a55" stroke-width="0.35"/>
<rect x="195.06" y="687.20" width="6.42" height="6.68" fill="#6C63B3" stroke="#3a3a55" stroke-width="0.35"/>
<rect x="195.06" y="677.50" width="6.42" height="9.70" fill="#A8D3E9" stroke="#3a3a55" stroke-width="0.35"/>
<rect x="201.48" y="682.04" width="6.42" height="14.36" fill="#1B8090" stroke="#3a3a55" stroke-width="0.35"/>
<rect x="201.48" y="678.76" width="6.42" height="3.28" fill="#6C63B3" stroke="#3a3a55" stroke-width="0.35"/>
<rect x="207.90" y="687.58" width="6.42" height="8.82" fill="#E0606A" stroke="#3a3a55" stroke-width="0.35"/>
<rect x="207.90" y="681.91" width="6.42" height="5.67" fill="#6C63B3" stroke="#3a3a55" stroke-width="0.35"/>
<rect x="207.90" y="678.76" width="6.42" height="3.15" fill="#A8D3E9" stroke="#3a3a55" stroke-width="0.35"/>
<rect x="214.32" y="686.32" width="6.42" height="10.08" fill="#E0606A" stroke="#3a3a55" stroke-width="0.35"/>
<rect x="214.32" y="683.17" width="6.42" height="3.15" fill="#6C63B3" stroke="#3a3a55" stroke-width="0.35"/>
<rect x="214.32" y="679.58" width="6.42" height="3.59" fill="#A8D3E9" stroke="#3a3a55" stroke-width="0.35"/>
<rect x="220.74" y="682.04" width="6.42" height="14.36" fill="#E0606A" stroke="#3a3a55" stroke-width="0.35"/>
<rect x="220.74" y="680.02" width="6.42" height="2.02" fill="#6C63B3" stroke="#3a3a55" stroke-width="0.35"/>
<rect x="227.16" y="680.40" width="6.42" height="16.00" fill="#C7C3E5" stroke="#3a3a55" stroke-width="0.35"/>
<rect x="233.58" y="693.88" width="6.42" height="2.52" fill="#E0606A" stroke="#3a3a55" stroke-width="0.35"/>
<rect x="233.58" y="681.03" width="6.42" height="12.85" fill="#6C63B3" stroke="#3a3a55" stroke-width="0.35"/>
<rect x="233.58" y="680.02" width="6.42" height="1.01" fill="#A8D3E9" stroke="#3a3a55" stroke-width="0.35"/>
<rect x="240.00" y="680.40" width="6.42" height="16.00" fill="#C7C3E5" stroke="#3a3a55" stroke-width="0.35"/>
<rect x="246.42" y="688.21" width="6.42" height="8.19" fill="#E0606A" stroke="#3a3a55" stroke-width="0.35"/>
<rect x="246.42" y="685.69" width="6.42" height="2.52" fill="#C7C3E5" stroke="#3a3a55" stroke-width="0.35"/>
<rect x="246.42" y="681.03" width="6.42" height="4.66" fill="#A8D3E9" stroke="#3a3a55" stroke-width="0.35"/>
<rect x="252.84" y="685.69" width="6.42" height="10.71" fill="#6C63B3" stroke="#3a3a55" stroke-width="0.35"/>
<rect x="252.84" y="681.03" width="6.42" height="4.66" fill="#A8D3E9" stroke="#3a3a55" stroke-width="0.35"/>
<rect x="259.26" y="685.69" width="6.42" height="10.71" fill="#6C63B3" stroke="#3a3a55" stroke-width="0.35"/>
<rect x="259.26" y="681.03" width="6.42" height="4.66" fill="#A8D3E9" stroke="#3a3a55" stroke-width="0.35"/>
<rect x="265.68" y="690.10" width="6.42" height="6.30" fill="#E0606A" stroke="#3a3a55" stroke-width="0.35"/>
<rect x="265.68" y="685.69" width="6.42" height="4.41" fill="#6C63B3" stroke="#3a3a55" stroke-width="0.35"/>
<rect x="265.68" y="681.66" width="6.42" height="4.03" fill="#A8D3E9" stroke="#3a3a55" stroke-width="0.35"/>
<rect x="272.10" y="684.12" width="6.42" height="12.29" fill="#6C63B3" stroke="#3a3a55" stroke-width="0.35"/>
<rect x="272.10" y="682.54" width="6.42" height="1.57" fill="#A8D3E9" stroke="#3a3a55" stroke-width="0.35"/>
<rect x="278.52" y="694.51" width="6.42" height="1.89" fill="#F2BFCC" stroke="#3a3a55" stroke-width="0.35"/>
<rect x="278.52" y="689.22" width="6.42" height="5.29" fill="#E0606A" stroke="#3a3a55" stroke-width="0.35"/>
<rect x="278.52" y="684.12" width="6.42" height="5.10" fill="#6C63B3" stroke="#3a3a55" stroke-width="0.35"/>
<rect x="278.52" y="682.54" width="6.42" height="1.57" fill="#A8D3E9" stroke="#3a3a55" stroke-width="0.35"/>
<rect x="284.94" y="689.22" width="6.42" height="7.18" fill="#6C63B3" stroke="#3a3a55" stroke-width="0.35"/>
<rect x="284.94" y="683.17" width="6.42" height="6.05" fill="#A8D3E9" stroke="#3a3a55" stroke-width="0.35"/>
<rect x="291.36" y="689.22" width="6.42" height="7.18" fill="#6C63B3" stroke="#3a3a55" stroke-width="0.35"/>
<rect x="291.36" y="683.80" width="6.42" height="5.42" fill="#A8D3E9" stroke="#3a3a55" stroke-width="0.35"/>
<rect x="297.78" y="688.21" width="6.42" height="8.19" fill="#6C63B3" stroke="#3a3a55" stroke-width="0.35"/>
<rect x="297.78" y="684.43" width="6.42" height="3.78" fill="#A8D3E9" stroke="#3a3a55" stroke-width="0.35"/>
<rect x="304.20" y="689.22" width="6.42" height="7.18" fill="#E0606A" stroke="#3a3a55" stroke-width="0.35"/>
<rect x="304.20" y="686.76" width="6.42" height="2.46" fill="#6C63B3" stroke="#3a3a55" stroke-width="0.35"/>
<rect x="304.20" y="684.12" width="6.42" height="2.65" fill="#A8D3E9" stroke="#3a3a55" stroke-width="0.35"/>
<rect x="310.62" y="684.12" width="6.42" height="12.29" fill="#E0606A" stroke="#3a3a55" stroke-width="0.35"/>
<rect x="317.04" y="688.21" width="6.42" height="8.19" fill="#6C63B3" stroke="#3a3a55" stroke-width="0.35"/>
<rect x="317.04" y="684.75" width="6.42" height="3.46" fill="#A8D3E9" stroke="#3a3a55" stroke-width="0.35"/>
<rect x="323.46" y="690.23" width="6.42" height="6.17" fill="#6C63B3" stroke="#3a3a55" stroke-width="0.35"/>
<rect x="323.46" y="684.75" width="6.42" height="5.48" fill="#A8D3E9" stroke="#3a3a55" stroke-width="0.35"/>
<rect x="329.88" y="686.32" width="6.42" height="10.08" fill="#C7C3E5" stroke="#3a3a55" stroke-width="0.35"/>
<rect x="329.88" y="685.69" width="6.42" height="0.63" fill="#A8D3E9" stroke="#3a3a55" stroke-width="0.35"/>
<rect x="336.30" y="691.36" width="6.42" height="5.04" fill="#6C63B3" stroke="#3a3a55" stroke-width="0.35"/>
<rect x="336.30" y="685.69" width="6.42" height="5.67" fill="#A8D3E9" stroke="#3a3a55" stroke-width="0.35"/>
<rect x="342.72" y="689.22" width="6.42" height="7.18" fill="#E0606A" stroke="#3a3a55" stroke-width="0.35"/>
<rect x="342.72" y="685.69" width="6.42" height="3.53" fill="#A8D3E9" stroke="#3a3a55" stroke-width="0.35"/>
<rect x="349.14" y="688.21" width="6.42" height="8.19" fill="#E0606A" stroke="#3a3a55" stroke-width="0.35"/>
<rect x="349.14" y="685.69" width="6.42" height="2.52" fill="#A8D3E9" stroke="#3a3a55" stroke-width="0.35"/>
<rect x="355.56" y="689.22" width="6.42" height="7.18" fill="#E0606A" stroke="#3a3a55" stroke-width="0.35"/>
<rect x="355.56" y="686.76" width="6.42" height="2.46" fill="#6C63B3" stroke="#3a3a55" stroke-width="0.35"/>
<rect x="355.56" y="685.69" width="6.42" height="1.07" fill="#A8D3E9" stroke="#3a3a55" stroke-width="0.35"/>
<rect x="361.98" y="692.30" width="6.42" height="4.09" fill="#E0606A" stroke="#3a3a55" stroke-width="0.35"/>
<rect x="361.98" y="686.76" width="6.42" height="5.54" fill="#6C63B3" stroke="#3a3a55" stroke-width="0.35"/>
<rect x="368.40" y="688.21" width="6.42" height="8.19" fill="#6C63B3" stroke="#3a3a55" stroke-width="0.35"/>
<rect x="368.40" y="686.32" width="6.42" height="1.89" fill="#A8D3E9" stroke="#3a3a55" stroke-width="0.35"/>
<rect x="374.82" y="690.23" width="6.42" height="6.17" fill="#E0606A" stroke="#3a3a55" stroke-width="0.35"/>
<rect x="374.82" y="687.58" width="6.42" height="2.65" fill="#6C63B3" stroke="#3a3a55" stroke-width="0.35"/>
<rect x="374.82" y="686.32" width="6.42" height="1.26" fill="#A8D3E9" stroke="#3a3a55" stroke-width="0.35"/>
<rect x="381.24" y="694.51" width="6.42" height="1.89" fill="#C7C3E5" stroke="#3a3a55" stroke-width="0.35"/>
<rect x="381.24" y="691.36" width="6.42" height="3.15" fill="#6C63B3" stroke="#3a3a55" stroke-width="0.35"/>
<rect x="381.24" y="686.32" width="6.42" height="5.04" fill="#A8D3E9" stroke="#3a3a55" stroke-width="0.35"/>
<rect x="387.66" y="687.20" width="6.42" height="9.20" fill="#C7C3E5" stroke="#3a3a55" stroke-width="0.35"/>
<rect x="387.66" y="686.32" width="6.42" height="0.88" fill="#A8D3E9" stroke="#3a3a55" stroke-width="0.35"/>
<line x1="46.80" y1="564.20" x2="46.80" y2="702.50" stroke="#555" stroke-width="0.8"/>
<line x1="46.40" y1="702.50" x2="394.80" y2="702.50" stroke="#8a8a8a" stroke-width="1"/>
<text x="43.60" y="698.70" font-size="6.40" text-anchor="end" fill="#222">0</text>
<text x="43.60" y="667.20" font-size="6.40" text-anchor="end" fill="#222">50</text>
<text x="43.60" y="635.70" font-size="6.40" text-anchor="end" fill="#222">100</text>
<text x="43.60" y="604.20" font-size="6.40" text-anchor="end" fill="#222">150</text>
<text x="43.60" y="572.70" font-size="6.40" text-anchor="end" fill="#222">200</text>
<text x="46.50" y="557.80" font-size="10.05" font-weight="bold" fill="#7FB3D6">Primary and recurrent HGG TIL</text>
<rect x="47.40" y="843.10" width="5.69" height="17.40" fill="#C4C4C4" stroke="#3a3a55" stroke-width="0.35"/>
<rect x="47.40" y="840.40" width="5.69" height="2.70" fill="#1B8090" stroke="#3a3a55" stroke-width="0.35"/>
<rect x="47.40" y="825.08" width="5.69" height="15.32" fill="#F2BFCC" stroke="#3a3a55" stroke-width="0.35"/>
<rect x="47.40" y="819.93" width="5.69" height="5.15" fill="#E0606A" stroke="#3a3a55" stroke-width="0.35"/>
<rect x="47.40" y="775.09" width="5.69" height="44.84" fill="#C7C3E5" stroke="#3a3a55" stroke-width="0.35"/>
<rect x="47.40" y="756.25" width="5.69" height="18.84" fill="#6C63B3" stroke="#3a3a55" stroke-width="0.35"/>
<rect x="47.40" y="735.53" width="5.69" height="20.72" fill="#A8D3E9" stroke="#3a3a55" stroke-width="0.35"/>
<rect x="47.40" y="733.96" width="5.69" height="1.57" fill="#E0601F" stroke="#3a3a55" stroke-width="0.35"/>
<rect x="53.09" y="854.22" width="5.69" height="6.28" fill="#C4C4C4" stroke="#3a3a55" stroke-width="0.35"/>
<rect x="53.09" y="840.40" width="5.69" height="13.82" fill="#F2BFCC" stroke="#3a3a55" stroke-width="0.35"/>
<rect x="53.09" y="828.47" width="5.69" height="11.93" fill="#C7C3E5" stroke="#3a3a55" stroke-width="0.35"/>
<rect x="53.09" y="821.56" width="5.69" height="6.91" fill="#6C63B3" stroke="#3a3a55" stroke-width="0.35"/>
<rect x="53.09" y="816.54" width="5.69" height="5.02" fill="#A8D3E9" stroke="#3a3a55" stroke-width="0.35"/>
<rect x="58.78" y="857.36" width="5.69" height="3.14" fill="#C7C3E5" stroke="#3a3a55" stroke-width="0.35"/>
<rect x="58.78" y="836.95" width="5.69" height="20.41" fill="#6C63B3" stroke="#3a3a55" stroke-width="0.35"/>
<rect x="58.78" y="827.22" width="5.69" height="9.73" fill="#A8D3E9" stroke="#3a3a55" stroke-width="0.35"/>
<rect x="64.47" y="834.75" width="5.69" height="25.75" fill="#C7C3E5" stroke="#3a3a55" stroke-width="0.35"/>
<rect x="64.47" y="833.50" width="5.69" height="1.26" fill="#6C63B3" stroke="#3a3a55" stroke-width="0.35"/>
<rect x="64.47" y="831.17" width="5.69" height="2.32" fill="#A8D3E9" stroke="#3a3a55" stroke-width="0.35"/>
<rect x="70.16" y="845.11" width="5.69" height="15.39" fill="#6C63B3" stroke="#3a3a55" stroke-width="0.35"/>
<rect x="70.16" y="842.04" width="5.69" height="3.08" fill="#A8D3E9" stroke="#3a3a55" stroke-width="0.35"/>
<rect x="75.85" y="858.62" width="5.69" height="1.88" fill="#C4C4C4" stroke="#3a3a55" stroke-width="0.35"/>
<rect x="75.85" y="856.42" width="5.69" height="2.20" fill="#C7C3E5" stroke="#3a3a55" stroke-width="0.35"/>
<rect x="75.85" y="849.20" width="5.69" height="7.22" fill="#6C63B3" stroke="#3a3a55" stroke-width="0.35"/>
<rect x="75.85" y="841.66" width="5.69" height="7.54" fill="#A8D3E9" stroke="#3a3a55" stroke-width="0.35"/>
<rect x="81.54" y="847.31" width="5.69" height="13.19" fill="#C7C3E5" stroke="#3a3a55" stroke-width="0.35"/>
<rect x="81.54" y="845.11" width="5.69" height="2.20" fill="#6C63B3" stroke="#3a3a55" stroke-width="0.35"/>
<rect x="87.23" y="848.19" width="5.69" height="12.31" fill="#C7C3E5" stroke="#3a3a55" stroke-width="0.35"/>
<rect x="87.23" y="845.74" width="5.69" height="2.45" fill="#6C63B3" stroke="#3a3a55" stroke-width="0.35"/>
<rect x="92.92" y="856.42" width="5.69" height="4.08" fill="#F2BFCC" stroke="#3a3a55" stroke-width="0.35"/>
<rect x="92.92" y="850.45" width="5.69" height="5.97" fill="#C7C3E5" stroke="#3a3a55" stroke-width="0.35"/>
<rect x="92.92" y="849.20" width="5.69" height="1.26" fill="#6C63B3" stroke="#3a3a55" stroke-width="0.35"/>
<rect x="92.92" y="845.55" width="5.69" height="3.64" fill="#A8D3E9" stroke="#3a3a55" stroke-width="0.35"/>
<rect x="98.61" y="856.42" width="5.69" height="4.08" fill="#C7C3E5" stroke="#3a3a55" stroke-width="0.35"/>
<rect x="98.61" y="853.34" width="5.69" height="3.08" fill="#6C63B3" stroke="#3a3a55" stroke-width="0.35"/>
<rect x="98.61" y="848.57" width="5.69" height="4.77" fill="#A8D3E9" stroke="#3a3a55" stroke-width="0.35"/>
<rect x="104.30" y="849.20" width="5.69" height="11.30" fill="#C7C3E5" stroke="#3a3a55" stroke-width="0.35"/>
<rect x="109.99" y="849.64" width="5.69" height="10.86" fill="#C7C3E5" stroke="#3a3a55" stroke-width="0.35"/>
<rect x="115.68" y="854.35" width="5.69" height="6.15" fill="#6C63B3" stroke="#3a3a55" stroke-width="0.35"/>
<rect x="115.68" y="849.64" width="5.69" height="4.71" fill="#A8D3E9" stroke="#3a3a55" stroke-width="0.35"/>
<rect x="121.37" y="851.90" width="5.69" height="8.60" fill="#6C63B3" stroke="#3a3a55" stroke-width="0.35"/>
<rect x="121.37" y="850.45" width="5.69" height="1.44" fill="#A8D3E9" stroke="#3a3a55" stroke-width="0.35"/>
<rect x="127.06" y="851.71" width="5.69" height="8.79" fill="#6C63B3" stroke="#3a3a55" stroke-width="0.35"/>
<rect x="127.06" y="850.26" width="5.69" height="1.44" fill="#A8D3E9" stroke="#3a3a55" stroke-width="0.35"/>
<rect x="132.75" y="853.34" width="5.69" height="7.16" fill="#6C63B3" stroke="#3a3a55" stroke-width="0.35"/>
<rect x="132.75" y="851.08" width="5.69" height="2.26" fill="#A8D3E9" stroke="#3a3a55" stroke-width="0.35"/>
<rect x="138.44" y="857.36" width="5.69" height="3.14" fill="#C7C3E5" stroke="#3a3a55" stroke-width="0.35"/>
<rect x="138.44" y="853.59" width="5.69" height="3.77" fill="#6C63B3" stroke="#3a3a55" stroke-width="0.35"/>
<rect x="138.44" y="851.90" width="5.69" height="1.70" fill="#A8D3E9" stroke="#3a3a55" stroke-width="0.35"/>
<rect x="144.13" y="852.71" width="5.69" height="7.79" fill="#6C63B3" stroke="#3a3a55" stroke-width="0.35"/>
<rect x="149.82" y="853.28" width="5.69" height="7.22" fill="#6C63B3" stroke="#3a3a55" stroke-width="0.35"/>
<rect x="155.51" y="855.48" width="5.69" height="5.02" fill="#C7C3E5" stroke="#3a3a55" stroke-width="0.35"/>
<rect x="155.51" y="853.34" width="5.69" height="2.14" fill="#A8D3E9" stroke="#3a3a55" stroke-width="0.35"/>
<rect x="161.20" y="854.85" width="5.69" height="5.65" fill="#6C63B3" stroke="#3a3a55" stroke-width="0.35"/>
<rect x="161.20" y="853.34" width="5.69" height="1.51" fill="#E0606A" stroke="#3a3a55" stroke-width="0.35"/>
<rect x="166.89" y="857.99" width="5.69" height="2.51" fill="#C7C3E5" stroke="#3a3a55" stroke-width="0.35"/>
<rect x="166.89" y="853.59" width="5.69" height="4.40" fill="#6C63B3" stroke="#3a3a55" stroke-width="0.35"/>
<rect x="172.58" y="856.10" width="5.69" height="4.40" fill="#6C63B3" stroke="#3a3a55" stroke-width="0.35"/>
<rect x="172.58" y="853.72" width="5.69" height="2.39" fill="#A8D3E9" stroke="#3a3a55" stroke-width="0.35"/>
<rect x="178.27" y="853.91" width="5.69" height="6.59" fill="#C7C3E5" stroke="#3a3a55" stroke-width="0.35"/>
<rect x="183.96" y="853.91" width="5.69" height="6.59" fill="#E0606A" stroke="#3a3a55" stroke-width="0.35"/>
<rect x="189.65" y="854.22" width="5.69" height="6.28" fill="#6C63B3" stroke="#3a3a55" stroke-width="0.35"/>
<rect x="195.34" y="856.73" width="5.69" height="3.77" fill="#6C63B3" stroke="#3a3a55" stroke-width="0.35"/>
<rect x="195.34" y="854.35" width="5.69" height="2.39" fill="#A8D3E9" stroke="#3a3a55" stroke-width="0.35"/>
<rect x="201.03" y="854.35" width="5.69" height="6.15" fill="#C7C3E5" stroke="#3a3a55" stroke-width="0.35"/>
<rect x="206.72" y="854.47" width="5.69" height="6.03" fill="#E0606A" stroke="#3a3a55" stroke-width="0.35"/>
<rect x="212.41" y="856.73" width="5.69" height="3.77" fill="#E0606A" stroke="#3a3a55" stroke-width="0.35"/>
<rect x="212.41" y="854.60" width="5.69" height="2.14" fill="#6C63B3" stroke="#3a3a55" stroke-width="0.35"/>
<rect x="218.10" y="857.99" width="5.69" height="2.51" fill="#C4C4C4" stroke="#3a3a55" stroke-width="0.35"/>
<rect x="218.10" y="856.10" width="5.69" height="1.88" fill="#C7C3E5" stroke="#3a3a55" stroke-width="0.35"/>
<rect x="223.79" y="855.16" width="5.69" height="5.34" fill="#6C63B3" stroke="#3a3a55" stroke-width="0.35"/>
<rect x="229.48" y="855.35" width="5.69" height="5.15" fill="#C7C3E5" stroke="#3a3a55" stroke-width="0.35"/>
<rect x="235.17" y="855.51" width="5.69" height="4.99" fill="#A8D3E9" stroke="#3a3a55" stroke-width="0.35"/>
<rect x="240.86" y="855.67" width="5.69" height="4.83" fill="#C7C3E5" stroke="#3a3a55" stroke-width="0.35"/>
<rect x="246.55" y="858.16" width="5.69" height="2.34" fill="#C7C3E5" stroke="#3a3a55" stroke-width="0.35"/>
<rect x="246.55" y="855.82" width="5.69" height="2.34" fill="#6C63B3" stroke="#3a3a55" stroke-width="0.35"/>
<rect x="252.24" y="855.98" width="5.69" height="4.52" fill="#E0606A" stroke="#3a3a55" stroke-width="0.35"/>
<rect x="257.93" y="856.13" width="5.69" height="4.37" fill="#E0606A" stroke="#3a3a55" stroke-width="0.35"/>
<rect x="263.62" y="856.27" width="5.69" height="4.23" fill="#6C63B3" stroke="#3a3a55" stroke-width="0.35"/>
<rect x="269.31" y="858.46" width="5.69" height="2.04" fill="#E0606A" stroke="#3a3a55" stroke-width="0.35"/>
<rect x="269.31" y="856.42" width="5.69" height="2.04" fill="#6C63B3" stroke="#3a3a55" stroke-width="0.35"/>
<rect x="275.00" y="856.56" width="5.69" height="3.94" fill="#6C63B3" stroke="#3a3a55" stroke-width="0.35"/>
<rect x="280.69" y="856.69" width="5.69" height="3.81" fill="#A8D3E9" stroke="#3a3a55" stroke-width="0.35"/>
<rect x="286.38" y="858.30" width="5.69" height="2.20" fill="#6C63B3" stroke="#3a3a55" stroke-width="0.35"/>
<rect x="286.38" y="856.83" width="5.69" height="1.47" fill="#A8D3E9" stroke="#3a3a55" stroke-width="0.35"/>
<rect x="292.07" y="856.95" width="5.69" height="3.55" fill="#6C63B3" stroke="#3a3a55" stroke-width="0.35"/>
<rect x="297.76" y="857.08" width="5.69" height="3.42" fill="#1B8090" stroke="#3a3a55" stroke-width="0.35"/>
<rect x="303.45" y="857.20" width="5.69" height="3.30" fill="#A8D3E9" stroke="#3a3a55" stroke-width="0.35"/>
<rect x="309.14" y="857.32" width="5.69" height="3.18" fill="#C7C3E5" stroke="#3a3a55" stroke-width="0.35"/>
<rect x="314.83" y="858.66" width="5.69" height="1.84" fill="#6C63B3" stroke="#3a3a55" stroke-width="0.35"/>
<rect x="314.83" y="857.44" width="5.69" height="1.23" fill="#A8D3E9" stroke="#3a3a55" stroke-width="0.35"/>
<rect x="320.52" y="857.55" width="5.69" height="2.95" fill="#C7C3E5" stroke="#3a3a55" stroke-width="0.35"/>
<rect x="326.21" y="857.65" width="5.69" height="2.85" fill="#A8D3E9" stroke="#3a3a55" stroke-width="0.35"/>
<rect x="331.90" y="857.76" width="5.69" height="2.74" fill="#1B8090" stroke="#3a3a55" stroke-width="0.35"/>
<rect x="337.59" y="857.85" width="5.69" height="2.65" fill="#1B8090" stroke="#3a3a55" stroke-width="0.35"/>
<rect x="343.28" y="857.95" width="5.69" height="2.55" fill="#C7C3E5" stroke="#3a3a55" stroke-width="0.35"/>
<rect x="348.97" y="858.04" width="5.69" height="2.46" fill="#C7C3E5" stroke="#3a3a55" stroke-width="0.35"/>
<rect x="354.66" y="859.31" width="5.69" height="1.19" fill="#C7C3E5" stroke="#3a3a55" stroke-width="0.35"/>
<rect x="354.66" y="858.12" width="5.69" height="1.19" fill="#6C63B3" stroke="#3a3a55" stroke-width="0.35"/>
<rect x="360.35" y="859.12" width="5.69" height="1.38" fill="#6C63B3" stroke="#3a3a55" stroke-width="0.35"/>
<rect x="360.35" y="858.19" width="5.69" height="0.92" fill="#A8D3E9" stroke="#3a3a55" stroke-width="0.35"/>
<rect x="366.04" y="859.38" width="5.69" height="1.12" fill="#E0606A" stroke="#3a3a55" stroke-width="0.35"/>
<rect x="366.04" y="858.27" width="5.69" height="1.12" fill="#6C63B3" stroke="#3a3a55" stroke-width="0.35"/>
<rect x="371.73" y="859.41" width="5.69" height="1.09" fill="#C7C3E5" stroke="#3a3a55" stroke-width="0.35"/>
<rect x="371.73" y="858.33" width="5.69" height="1.09" fill="#6C63B3" stroke="#3a3a55" stroke-width="0.35"/>
<rect x="377.42" y="858.39" width="5.69" height="2.11" fill="#C7C3E5" stroke="#3a3a55" stroke-width="0.35"/>
<rect x="383.11" y="858.43" width="5.69" height="2.07" fill="#6C63B3" stroke="#3a3a55" stroke-width="0.35"/>
<rect x="388.80" y="859.28" width="5.69" height="1.22" fill="#6C63B3" stroke="#3a3a55" stroke-width="0.35"/>
<rect x="388.80" y="858.47" width="5.69" height="0.81" fill="#A8D3E9" stroke="#3a3a55" stroke-width="0.35"/>
<line x1="46.80" y1="728.30" x2="46.80" y2="867.70" stroke="#555" stroke-width="0.8"/>
<line x1="46.40" y1="867.70" x2="394.80" y2="867.70" stroke="#8a8a8a" stroke-width="1"/>
<text x="43.60" y="862.80" font-size="6.40" text-anchor="end" fill="#222">0</text>
<text x="43.60" y="831.40" font-size="6.40" text-anchor="end" fill="#222">50</text>
<text x="43.60" y="800.00" font-size="6.40" text-anchor="end" fill="#222">100</text>
<text x="43.60" y="768.60" font-size="6.40" text-anchor="end" fill="#222">150</text>
<text x="43.60" y="737.20" font-size="6.40" text-anchor="end" fill="#222">200</text>
<text x="46.50" y="721.20" font-size="10.05" font-weight="bold" fill="#B5545A">Brain metastases TIL</text>
</g>
<g>
<text x="423.20" y="385.80" font-size="30.50" font-weight="bold">d</text>
<rect x="466.70" y="395.60" width="11.00" height="10.60" fill="#E8601C" stroke="#444" stroke-width="0.5"/>
<text x="484.40" y="404.20" font-size="9.30">C0</text>
<rect x="511.80" y="395.60" width="11.00" height="10.60" fill="#A8D3E9" stroke="#444" stroke-width="0.5"/>
<text x="529.50" y="404.20" font-size="9.30">C9</text>
<rect x="556.50" y="395.60" width="11.00" height="10.60" fill="#6C63B3" stroke="#444" stroke-width="0.5"/>
<text x="574.20" y="404.20" font-size="9.30">C20</text>
<rect x="606.50" y="395.60" width="11.00" height="10.60" fill="#C7C3E5" stroke="#444" stroke-width="0.5"/>
<text x="624.20" y="404.20" font-size="9.30">C10</text>
<rect x="656.90" y="395.60" width="11.00" height="10.60" fill="#E0626E" stroke="#444" stroke-width="0.5"/>
<text x="674.60" y="404.20" font-size="9.30">C12</text>
<rect x="707.30" y="395.60" width="11.00" height="10.60" fill="#F2BFCC" stroke="#444" stroke-width="0.5"/>
<text x="725.00" y="404.20" font-size="9.30">C13</text>
<rect x="758.10" y="395.60" width="11.00" height="10.60" fill="#1B8090" stroke="#444" stroke-width="0.5"/>
<text x="775.80" y="404.20" font-size="9.30">C15</text>
<rect x="808.60" y="395.60" width="11.00" height="10.60" fill="#BEBEBE" stroke="#444" stroke-width="0.5"/>
<text x="826.30" y="404.20" font-size="9.30">C18</text>
<text x="720.00" y="431.20" font-size="12.90" text-anchor="middle" font-weight="bold">HGG (GBM106)</text>
<text x="720.00" y="646.20" font-size="12.90" text-anchor="middle" font-weight="bold">HGG (G4A112_Re)</text>
<rect x="715.96" y="443.00" width="3.83" height="4.09" fill="#E0626E" stroke="#1f1d48" stroke-width="0.65"/>
<rect x="700.62" y="443.00" width="15.34" height="4.09" fill="#6C63B3" stroke="#1f1d48" stroke-width="0.65"/>
<rect x="696.79" y="443.00" width="3.83" height="4.09" fill="#C7C3E5" stroke="#1f1d48" stroke-width="0.65"/>
<rect x="719.80" y="443.00" width="3.83" height="4.09" fill="#E0626E" stroke="#1f1d48" stroke-width="0.65"/>
<rect x="715.96" y="447.09" width="3.83" height="4.09" fill="#C7C3E5" stroke="#1f1d48" stroke-width="0.65"/>
<rect x="719.80" y="447.09" width="3.83" height="4.09" fill="#C7C3E5" stroke="#1f1d48" stroke-width="0.65"/>
<rect x="715.96" y="451.18" width="3.83" height="4.09" fill="#6C63B3" stroke="#1f1d48" stroke-width="0.65"/>
<rect x="715.96" y="455.27" width="3.83" height="4.09" fill="#6C63B3" stroke="#1f1d48" stroke-width="0.65"/>
<rect x="715.96" y="459.36" width="3.83" height="4.09" fill="#C7C3E5" stroke="#1f1d48" stroke-width="0.65"/>
<rect x="715.96" y="463.45" width="3.83" height="4.09" fill="#A8D3E9" stroke="#1f1d48" stroke-width="0.65"/>
<rect x="715.96" y="467.54" width="3.83" height="4.09" fill="#C7C3E5" stroke="#1f1d48" stroke-width="0.65"/>
<rect x="715.96" y="471.63" width="3.83" height="4.09" fill="#6C63B3" stroke="#1f1d48" stroke-width="0.65"/>
<rect x="715.96" y="475.72" width="3.83" height="4.09" fill="#A8D3E9" stroke="#1f1d48" stroke-width="0.65"/>
<rect x="715.96" y="479.81" width="3.83" height="4.09" fill="#6C63B3" stroke="#1f1d48" stroke-width="0.65"/>
<rect x="467.50" y="442.60" width="504.80" height="41.70" fill="none" stroke="#505050" stroke-width="0.8"/>
<rect x="715.96" y="519.50" width="3.83" height="4.07" fill="#EEF3EE" stroke="#1f1d48" stroke-width="0.65"/>
<rect x="719.80" y="519.50" width="4.22" height="4.07" fill="#EEF3EE" stroke="#1f1d48" stroke-width="0.65"/>
<rect x="724.02" y="519.50" width="7.29" height="4.07" fill="#F2BFCC" stroke="#1f1d48" stroke-width="0.65"/>
<rect x="731.30" y="519.50" width="103.55" height="4.07" fill="#6C63B3" stroke="#1f1d48" stroke-width="0.65"/>
<rect x="834.85" y="519.50" width="64.43" height="4.07" fill="#A8D3E9" stroke="#1f1d48" stroke-width="0.65"/>
<rect x="719.80" y="523.57" width="4.22" height="4.07" fill="#E0626E" stroke="#1f1d48" stroke-width="0.65"/>
<rect x="724.02" y="523.57" width="22.63" height="4.07" fill="#C7C3E5" stroke="#1f1d48" stroke-width="0.65"/>
<rect x="746.64" y="523.57" width="23.01" height="4.07" fill="#6C63B3" stroke="#1f1d48" stroke-width="0.65"/>
<rect x="769.65" y="523.57" width="11.50" height="4.07" fill="#A8D3E9" stroke="#1f1d48" stroke-width="0.65"/>
<rect x="719.80" y="527.64" width="26.84" height="4.07" fill="#C7C3E5" stroke="#1f1d48" stroke-width="0.65"/>
<rect x="746.64" y="527.64" width="7.67" height="4.07" fill="#6C63B3" stroke="#1f1d48" stroke-width="0.65"/>
<rect x="754.31" y="527.64" width="11.50" height="4.07" fill="#A8D3E9" stroke="#1f1d48" stroke-width="0.65"/>
<rect x="719.80" y="531.71" width="4.22" height="4.07" fill="#E0626E" stroke="#1f1d48" stroke-width="0.65"/>
<rect x="724.02" y="531.71" width="3.45" height="4.07" fill="#C7C3E5" stroke="#1f1d48" stroke-width="0.65"/>
<rect x="727.47" y="531.71" width="8.44" height="4.07" fill="#6C63B3" stroke="#1f1d48" stroke-width="0.65"/>
<rect x="735.91" y="531.71" width="10.74" height="4.07" fill="#A8D3E9" stroke="#1f1d48" stroke-width="0.65"/>
<rect x="719.80" y="535.78" width="19.18" height="4.07" fill="#6C63B3" stroke="#1f1d48" stroke-width="0.65"/>
<rect x="719.80" y="539.85" width="11.50" height="4.07" fill="#6C63B3" stroke="#1f1d48" stroke-width="0.65"/>
<rect x="731.30" y="539.85" width="7.67" height="4.07" fill="#A8D3E9" stroke="#1f1d48" stroke-width="0.65"/>
<rect x="719.80" y="543.92" width="7.67" height="4.07" fill="#6C63B3" stroke="#1f1d48" stroke-width="0.65"/>
<rect x="727.47" y="543.92" width="7.67" height="4.07" fill="#A8D3E9" stroke="#1f1d48" stroke-width="0.65"/>
<rect x="719.80" y="547.99" width="11.50" height="4.07" fill="#6C63B3" stroke="#1f1d48" stroke-width="0.65"/>
<rect x="731.30" y="547.99" width="3.83" height="4.07" fill="#A8D3E9" stroke="#1f1d48" stroke-width="0.65"/>
<rect x="715.96" y="552.06" width="3.83" height="4.07" fill="#6C63B3" stroke="#1f1d48" stroke-width="0.65"/>
<rect x="719.80" y="552.06" width="11.50" height="4.07" fill="#6C63B3" stroke="#1f1d48" stroke-width="0.65"/>
<rect x="715.96" y="556.13" width="3.83" height="4.07" fill="#6C63B3" stroke="#1f1d48" stroke-width="0.65"/>
<rect x="719.80" y="556.13" width="11.50" height="4.07" fill="#A8D3E9" stroke="#1f1d48" stroke-width="0.65"/>
<rect x="467.50" y="519.10" width="504.80" height="41.50" fill="none" stroke="#505050" stroke-width="0.8"/>
<text x="490.30" y="495.70" font-size="11.30" text-anchor="middle" fill="#111">60</text>
<line x1="489.70" y1="484.30" x2="489.70" y2="485.60" stroke="#444" stroke-width="0.6"/>
<text x="605.35" y="495.70" font-size="11.30" text-anchor="middle" fill="#111">30</text>
<line x1="604.75" y1="484.30" x2="604.75" y2="485.60" stroke="#444" stroke-width="0.6"/>
<text x="720.40" y="495.70" font-size="11.30" text-anchor="middle" fill="#111">0</text>
<line x1="719.80" y1="484.30" x2="719.80" y2="485.60" stroke="#444" stroke-width="0.6"/>
<text x="835.45" y="495.70" font-size="11.30" text-anchor="middle" fill="#111">30</text>
<line x1="834.85" y1="484.30" x2="834.85" y2="485.60" stroke="#444" stroke-width="0.6"/>
<text x="950.50" y="495.70" font-size="11.30" text-anchor="middle" fill="#111">60</text>
<line x1="949.90" y1="484.30" x2="949.90" y2="485.60" stroke="#444" stroke-width="0.6"/>
<text x="490.30" y="572.60" font-size="11.30" text-anchor="middle" fill="#111">60</text>
<line x1="489.70" y1="560.60" x2="489.70" y2="561.90" stroke="#444" stroke-width="0.6"/>
<text x="605.35" y="572.60" font-size="11.30" text-anchor="middle" fill="#111">30</text>
<line x1="604.75" y1="560.60" x2="604.75" y2="561.90" stroke="#444" stroke-width="0.6"/>
<text x="720.40" y="572.60" font-size="11.30" text-anchor="middle" fill="#111">0</text>
<line x1="719.80" y1="560.60" x2="719.80" y2="561.90" stroke="#444" stroke-width="0.6"/>
<text x="835.45" y="572.60" font-size="11.30" text-anchor="middle" fill="#111">30</text>
<line x1="834.85" y1="560.60" x2="834.85" y2="561.90" stroke="#444" stroke-width="0.6"/>
<text x="949.50" y="576.10" font-size="11.30" text-anchor="middle" fill="#111">60</text>
<line x1="949.90" y1="560.60" x2="949.90" y2="561.90" stroke="#444" stroke-width="0.6"/>
<text x="449.40" y="463.90" font-size="6.38" text-anchor="middle" fill="#222" transform="rotate(-90 449.40 463.90)"><tspan>Top 10 CD8</tspan><tspan font-size="3.80" dy="-2.30">+</tspan><tspan dy="2.30"> </tspan><tspan font-style="italic">GZMK</tspan><tspan font-size="3.80" dy="-2.30">+</tspan></text>
<text x="456.90" y="463.40" font-size="6.38" text-anchor="middle" fill="#222" transform="rotate(-90 456.90 463.40)">TCRs derived from PBMC</text>
<text x="449.40" y="540.30" font-size="6.38" text-anchor="middle" fill="#222" transform="rotate(-90 449.40 540.30)"><tspan>Top 10 CD8</tspan><tspan font-size="3.80" dy="-2.30">+</tspan><tspan dy="2.30"> </tspan><tspan font-style="italic">GZMK</tspan><tspan font-size="3.80" dy="-2.30">+</tspan></text>
<text x="456.90" y="539.80" font-size="6.38" text-anchor="middle" fill="#222" transform="rotate(-90 456.90 539.80)">TCRs derived from TIL</text>
<line x1="470.00" y1="593.50" x2="970.00" y2="593.50" stroke="#222" stroke-width="0.7"/>
<path d="M467.8 593.50 l5 -1.6 v3.2z M972.3 593.50 l-5 -1.6 v3.2z" fill="#222"/>
<line x1="719.80" y1="582.50" x2="719.80" y2="605.00" stroke="#666" stroke-width="0.7"/>
<text x="467.70" y="607.40" font-size="8.67" font-weight="bold">Clonotype count in PBMC</text>
<text x="971.60" y="607.40" font-size="8.67" text-anchor="end" font-weight="bold">Clonotype count in TIL</text>
<rect x="647.35" y="656.60" width="72.45" height="4.08" fill="#E0626E" stroke="#1f1d48" stroke-width="0.65"/>
<rect x="638.66" y="656.60" width="8.69" height="4.08" fill="#A8D3E9" stroke="#1f1d48" stroke-width="0.65"/>
<rect x="719.80" y="656.60" width="57.96" height="4.08" fill="#E0626E" stroke="#1f1d48" stroke-width="0.65"/>
<rect x="699.51" y="660.68" width="20.29" height="4.08" fill="#E0626E" stroke="#1f1d48" stroke-width="0.65"/>
<rect x="696.62" y="660.68" width="2.90" height="4.08" fill="#A8D3E9" stroke="#1f1d48" stroke-width="0.65"/>
<rect x="693.72" y="660.68" width="2.90" height="4.08" fill="#C7C3E5" stroke="#1f1d48" stroke-width="0.65"/>
<rect x="719.80" y="660.68" width="43.47" height="4.08" fill="#E0626E" stroke="#1f1d48" stroke-width="0.65"/>
<rect x="763.27" y="660.68" width="43.47" height="4.08" fill="#6C63B3" stroke="#1f1d48" stroke-width="0.65"/>
<rect x="806.74" y="660.68" width="10.72" height="4.08" fill="#A8D3E9" stroke="#1f1d48" stroke-width="0.65"/>
<rect x="714.00" y="664.76" width="5.80" height="4.08" fill="#6C63B3" stroke="#1f1d48" stroke-width="0.65"/>
<rect x="719.80" y="664.76" width="3.48" height="4.08" fill="#C7C3E5" stroke="#1f1d48" stroke-width="0.65"/>
<rect x="723.28" y="664.76" width="8.11" height="4.08" fill="#E0626E" stroke="#1f1d48" stroke-width="0.65"/>
<rect x="731.39" y="664.76" width="60.86" height="4.08" fill="#6C63B3" stroke="#1f1d48" stroke-width="0.65"/>
<rect x="792.25" y="664.76" width="8.69" height="4.08" fill="#A8D3E9" stroke="#1f1d48" stroke-width="0.65"/>
<rect x="708.21" y="668.84" width="11.59" height="4.08" fill="#E0626E" stroke="#1f1d48" stroke-width="0.65"/>
<rect x="705.31" y="668.84" width="2.90" height="4.08" fill="#C7C3E5" stroke="#1f1d48" stroke-width="0.65"/>
<rect x="696.62" y="668.84" width="8.69" height="4.08" fill="#6C63B3" stroke="#1f1d48" stroke-width="0.65"/>
<rect x="719.80" y="668.84" width="11.59" height="4.08" fill="#E0626E" stroke="#1f1d48" stroke-width="0.65"/>
<rect x="731.39" y="668.84" width="2.90" height="4.08" fill="#C7C3E5" stroke="#1f1d48" stroke-width="0.65"/>
<rect x="734.29" y="668.84" width="2.90" height="4.08" fill="#A8D3E9" stroke="#1f1d48" stroke-width="0.65"/>
<rect x="716.90" y="672.92" width="2.90" height="4.08" fill="#E0626E" stroke="#1f1d48" stroke-width="0.65"/>
<rect x="711.11" y="672.92" width="5.80" height="4.08" fill="#6C63B3" stroke="#1f1d48" stroke-width="0.65"/>
<rect x="702.41" y="672.92" width="8.69" height="4.08" fill="#A8D3E9" stroke="#1f1d48" stroke-width="0.65"/>
<rect x="719.80" y="672.92" width="5.80" height="4.08" fill="#E0626E" stroke="#1f1d48" stroke-width="0.65"/>
<rect x="716.90" y="677.00" width="2.90" height="4.08" fill="#C7C3E5" stroke="#1f1d48" stroke-width="0.65"/>
<rect x="711.11" y="677.00" width="5.80" height="4.08" fill="#6C63B3" stroke="#1f1d48" stroke-width="0.65"/>
<rect x="719.80" y="677.00" width="2.90" height="4.08" fill="#E0626E" stroke="#1f1d48" stroke-width="0.65"/>
<rect x="716.90" y="681.08" width="2.90" height="4.08" fill="#C7C3E5" stroke="#1f1d48" stroke-width="0.65"/>
<rect x="719.80" y="681.08" width="5.80" height="4.08" fill="#6C63B3" stroke="#1f1d48" stroke-width="0.65"/>
<rect x="716.90" y="685.16" width="2.90" height="4.08" fill="#6C63B3" stroke="#1f1d48" stroke-width="0.65"/>
<rect x="719.80" y="685.16" width="5.80" height="4.08" fill="#6C63B3" stroke="#1f1d48" stroke-width="0.65"/>
<rect x="714.00" y="689.24" width="5.80" height="4.08" fill="#6C63B3" stroke="#1f1d48" stroke-width="0.65"/>
<rect x="716.90" y="693.32" width="2.90" height="4.08" fill="#C7C3E5" stroke="#1f1d48" stroke-width="0.65"/>
<rect x="719.80" y="693.32" width="1.45" height="4.08" fill="#A8D3E9" stroke="#1f1d48" stroke-width="0.65"/>
<rect x="467.50" y="656.20" width="504.80" height="41.60" fill="none" stroke="#505050" stroke-width="0.8"/>
<rect x="719.80" y="734.20" width="2.90" height="4.00" fill="#EEF3EE" stroke="#1f1d48" stroke-width="0.65"/>
<rect x="722.70" y="734.20" width="98.53" height="4.00" fill="#C7C3E5" stroke="#1f1d48" stroke-width="0.65"/>
<rect x="821.23" y="734.20" width="20.29" height="4.00" fill="#6C63B3" stroke="#1f1d48" stroke-width="0.65"/>
<rect x="841.52" y="734.20" width="68.10" height="4.00" fill="#A8D3E9" stroke="#1f1d48" stroke-width="0.65"/>
<rect x="719.80" y="738.20" width="8.69" height="4.00" fill="#E0626E" stroke="#1f1d48" stroke-width="0.65"/>
<rect x="728.49" y="738.20" width="5.80" height="4.00" fill="#A8D3E9" stroke="#1f1d48" stroke-width="0.65"/>
<rect x="734.29" y="738.20" width="107.23" height="4.00" fill="#6C63B3" stroke="#1f1d48" stroke-width="0.65"/>
<rect x="841.52" y="738.20" width="48.11" height="4.00" fill="#A8D3E9" stroke="#1f1d48" stroke-width="0.65"/>
<rect x="716.90" y="742.20" width="2.90" height="4.00" fill="#6C63B3" stroke="#1f1d48" stroke-width="0.65"/>
<rect x="719.80" y="742.20" width="89.84" height="4.00" fill="#6C63B3" stroke="#1f1d48" stroke-width="0.65"/>
<rect x="809.64" y="742.20" width="44.92" height="4.00" fill="#A8D3E9" stroke="#1f1d48" stroke-width="0.65"/>
<rect x="719.80" y="746.20" width="5.80" height="4.00" fill="#C7C3E5" stroke="#1f1d48" stroke-width="0.65"/>
<rect x="725.60" y="746.20" width="49.27" height="4.00" fill="#6C63B3" stroke="#1f1d48" stroke-width="0.65"/>
<rect x="774.86" y="746.20" width="48.11" height="4.00" fill="#A8D3E9" stroke="#1f1d48" stroke-width="0.65"/>
<rect x="719.80" y="750.20" width="2.90" height="4.00" fill="#E0626E" stroke="#1f1d48" stroke-width="0.65"/>
<rect x="722.70" y="750.20" width="46.37" height="4.00" fill="#6C63B3" stroke="#1f1d48" stroke-width="0.65"/>
<rect x="769.07" y="750.20" width="48.40" height="4.00" fill="#A8D3E9" stroke="#1f1d48" stroke-width="0.65"/>
<rect x="719.80" y="754.20" width="26.08" height="4.00" fill="#C7C3E5" stroke="#1f1d48" stroke-width="0.65"/>
<rect x="745.88" y="754.20" width="26.08" height="4.00" fill="#6C63B3" stroke="#1f1d48" stroke-width="0.65"/>
<rect x="771.96" y="754.20" width="39.70" height="4.00" fill="#A8D3E9" stroke="#1f1d48" stroke-width="0.65"/>
<rect x="719.80" y="758.20" width="14.49" height="4.00" fill="#C7C3E5" stroke="#1f1d48" stroke-width="0.65"/>
<rect x="734.29" y="758.20" width="28.98" height="4.00" fill="#6C63B3" stroke="#1f1d48" stroke-width="0.65"/>
<rect x="763.27" y="758.20" width="45.50" height="4.00" fill="#A8D3E9" stroke="#1f1d48" stroke-width="0.65"/>
<rect x="714.00" y="762.20" width="5.80" height="4.00" fill="#6C63B3" stroke="#1f1d48" stroke-width="0.65"/>
<rect x="719.80" y="762.20" width="2.90" height="4.00" fill="#C7C3E5" stroke="#1f1d48" stroke-width="0.65"/>
<rect x="722.70" y="762.20" width="3.48" height="4.00" fill="#6C63B3" stroke="#1f1d48" stroke-width="0.65"/>
<rect x="726.18" y="762.20" width="5.22" height="4.00" fill="#E0626E" stroke="#1f1d48" stroke-width="0.65"/>
<rect x="731.39" y="762.20" width="60.86" height="4.00" fill="#6C63B3" stroke="#1f1d48" stroke-width="0.65"/>
<rect x="792.25" y="762.20" width="7.82" height="4.00" fill="#A8D3E9" stroke="#1f1d48" stroke-width="0.65"/>
<rect x="719.80" y="766.20" width="2.90" height="4.00" fill="#E0626E" stroke="#1f1d48" stroke-width="0.65"/>
<rect x="722.70" y="766.20" width="5.80" height="4.00" fill="#C7C3E5" stroke="#1f1d48" stroke-width="0.65"/>
<rect x="728.49" y="766.20" width="46.37" height="4.00" fill="#6C63B3" stroke="#1f1d48" stroke-width="0.65"/>
<rect x="774.86" y="766.20" width="19.42" height="4.00" fill="#A8D3E9" stroke="#1f1d48" stroke-width="0.65"/>
<rect x="719.80" y="770.20" width="2.90" height="4.00" fill="#C7C3E5" stroke="#1f1d48" stroke-width="0.65"/>
<rect x="722.70" y="770.20" width="31.88" height="4.00" fill="#6C63B3" stroke="#1f1d48" stroke-width="0.65"/>
<rect x="754.58" y="770.20" width="28.40" height="4.00" fill="#A8D3E9" stroke="#1f1d48" stroke-width="0.65"/>
<rect x="467.50" y="733.80" width="504.80" height="40.80" fill="none" stroke="#505050" stroke-width="0.8"/>
<text x="575.50" y="709.20" font-size="11.30" text-anchor="middle" fill="#111">50</text>
<line x1="574.90" y1="697.80" x2="574.90" y2="699.10" stroke="#444" stroke-width="0.6"/>
<text x="720.40" y="709.20" font-size="11.30" text-anchor="middle" fill="#111">0</text>
<line x1="719.80" y1="697.80" x2="719.80" y2="699.10" stroke="#444" stroke-width="0.6"/>
<text x="865.30" y="709.20" font-size="11.30" text-anchor="middle" fill="#111">50</text>
<line x1="864.70" y1="697.80" x2="864.70" y2="699.10" stroke="#444" stroke-width="0.6"/>
<text x="575.50" y="785.20" font-size="11.30" text-anchor="middle" fill="#111">50</text>
<line x1="574.90" y1="774.60" x2="574.90" y2="775.90" stroke="#444" stroke-width="0.6"/>
<text x="720.40" y="785.20" font-size="11.30" text-anchor="middle" fill="#111">0</text>
<line x1="719.80" y1="774.60" x2="719.80" y2="775.90" stroke="#444" stroke-width="0.6"/>
<text x="865.30" y="785.20" font-size="11.30" text-anchor="middle" fill="#111">50</text>
<line x1="864.70" y1="774.60" x2="864.70" y2="775.90" stroke="#444" stroke-width="0.6"/>
<text x="449.40" y="677.50" font-size="6.38" text-anchor="middle" fill="#222" transform="rotate(-90 449.40 677.50)"><tspan>Top 10 CD8</tspan><tspan font-size="3.80" dy="-2.30">+</tspan><tspan dy="2.30"> </tspan><tspan font-style="italic">GZMK</tspan><tspan font-size="3.80" dy="-2.30">+</tspan></text>
<text x="456.90" y="677.00" font-size="6.38" text-anchor="middle" fill="#222" transform="rotate(-90 456.90 677.00)">TCRs derived from PBMC</text>
<text x="449.40" y="754.70" font-size="6.38" text-anchor="middle" fill="#222" transform="rotate(-90 449.40 754.70)"><tspan>Top 10 CD8</tspan><tspan font-size="3.80" dy="-2.30">+</tspan><tspan dy="2.30"> </tspan><tspan font-style="italic">GZMK</tspan><tspan font-size="3.80" dy="-2.30">+</tspan></text>
<text x="456.90" y="754.20" font-size="6.38" text-anchor="middle" fill="#222" transform="rotate(-90 456.90 754.20)">TCRs derived from TIL</text>
<line x1="470.00" y1="808.10" x2="970.00" y2="808.10" stroke="#222" stroke-width="0.7"/>
<path d="M467.8 808.10 l5 -1.6 v3.2z M972.3 808.10 l-5 -1.6 v3.2z" fill="#222"/>
<line x1="719.80" y1="797.10" x2="719.80" y2="819.60" stroke="#666" stroke-width="0.7"/>
<text x="467.70" y="822.40" font-size="8.67" font-weight="bold">Clonotype count in PBMC</text>
<text x="971.60" y="822.40" font-size="8.67" text-anchor="end" font-weight="bold">Clonotype count in TIL</text>
</g>
<g>
<text x="1.80" y="918.10" font-size="30.50" font-weight="bold">e</text>
<rect x="96.00" y="904.80" width="32.71" height="35.67" fill="#2E6CB4" shape-rendering="crispEdges"/>
<rect x="128.21" y="904.80" width="32.71" height="35.67" fill="#2E6CB4" shape-rendering="crispEdges"/>
<rect x="160.42" y="904.80" width="32.71" height="35.67" fill="#2E6CB4" shape-rendering="crispEdges"/>
<rect x="192.63" y="904.80" width="32.71" height="35.67" fill="#2E6CB4" shape-rendering="crispEdges"/>
<rect x="224.84" y="904.80" width="32.71" height="35.67" fill="#2E6CB4" shape-rendering="crispEdges"/>
<rect x="257.05" y="904.80" width="32.71" height="35.67" fill="#2E6CB4" shape-rendering="crispEdges"/>
<rect x="289.26" y="904.80" width="32.71" height="35.67" fill="#2E6CB4" shape-rendering="crispEdges"/>
<rect x="321.47" y="904.80" width="32.71" height="35.67" fill="#2E6CB4" shape-rendering="crispEdges"/>
<rect x="353.68" y="904.80" width="32.71" height="35.67" fill="#E9928A" shape-rendering="crispEdges"/>
<rect x="96.00" y="939.97" width="32.71" height="35.67" fill="#3B76BB" shape-rendering="crispEdges"/>
<rect x="128.21" y="939.97" width="32.71" height="35.67" fill="#3B76BB" shape-rendering="crispEdges"/>
<rect x="160.42" y="939.97" width="32.71" height="35.67" fill="#3B76BB" shape-rendering="crispEdges"/>
<rect x="192.63" y="939.97" width="32.71" height="35.67" fill="#3B76BB" shape-rendering="crispEdges"/>
<rect x="224.84" y="939.97" width="32.71" height="35.67" fill="#3B76BB" shape-rendering="crispEdges"/>
<rect x="257.05" y="939.97" width="32.71" height="35.67" fill="#3B76BB" shape-rendering="crispEdges"/>
<rect x="289.26" y="939.97" width="32.71" height="35.67" fill="#3B76BB" shape-rendering="crispEdges"/>
<rect x="321.47" y="939.97" width="32.71" height="35.67" fill="#3B76BB" shape-rendering="crispEdges"/>
<rect x="96.00" y="975.14" width="32.71" height="35.67" fill="#2E6CB4" shape-rendering="crispEdges"/>
<rect x="128.21" y="975.14" width="32.71" height="35.67" fill="#2E6CB4" shape-rendering="crispEdges"/>
<rect x="160.42" y="975.14" width="32.71" height="35.67" fill="#2E6CB4" shape-rendering="crispEdges"/>
<rect x="192.63" y="975.14" width="32.71" height="35.67" fill="#2E6CB4" shape-rendering="crispEdges"/>
<rect x="224.84" y="975.14" width="32.71" height="35.67" fill="#2E6CB4" shape-rendering="crispEdges"/>
<rect x="257.05" y="975.14" width="32.71" height="35.67" fill="#2E6CB4" shape-rendering="crispEdges"/>
<rect x="289.26" y="975.14" width="32.71" height="35.67" fill="#C4212B" shape-rendering="crispEdges"/>
<rect x="96.00" y="1010.31" width="32.71" height="35.67" fill="#2E6CB4" shape-rendering="crispEdges"/>
<rect x="128.21" y="1010.31" width="32.71" height="35.67" fill="#2E6CB4" shape-rendering="crispEdges"/>
<rect x="160.42" y="1010.31" width="32.71" height="35.67" fill="#2E6CB4" shape-rendering="crispEdges"/>
<rect x="192.63" y="1010.31" width="32.71" height="35.67" fill="#2E6CB4" shape-rendering="crispEdges"/>
<rect x="224.84" y="1010.31" width="32.71" height="35.67" fill="#2E6CB4" shape-rendering="crispEdges"/>
<rect x="257.05" y="1010.31" width="32.71" height="35.67" fill="#2E6CB4" shape-rendering="crispEdges"/>
<rect x="96.00" y="1045.48" width="32.71" height="35.67" fill="#2E6CB4" shape-rendering="crispEdges"/>
<rect x="128.21" y="1045.48" width="32.71" height="35.67" fill="#2E6CB4" shape-rendering="crispEdges"/>
<rect x="160.42" y="1045.48" width="32.71" height="35.67" fill="#2E6CB4" shape-rendering="crispEdges"/>
<rect x="192.63" y="1045.48" width="32.71" height="35.67" fill="#2E6CB4" shape-rendering="crispEdges"/>
<rect x="224.84" y="1045.48" width="32.71" height="35.67" fill="#DCDDEE" shape-rendering="crispEdges"/>
<rect x="96.00" y="1080.65" width="32.71" height="35.67" fill="#2E6CB4" shape-rendering="crispEdges"/>
<rect x="128.21" y="1080.65" width="32.71" height="35.67" fill="#2E6CB4" shape-rendering="crispEdges"/>
<rect x="160.42" y="1080.65" width="32.71" height="35.67" fill="#2E6CB4" shape-rendering="crispEdges"/>
<rect x="192.63" y="1080.65" width="32.71" height="35.67" fill="#2E6CB4" shape-rendering="crispEdges"/>
<rect x="96.00" y="1115.82" width="32.71" height="35.67" fill="#2E6CB4" shape-rendering="crispEdges"/>
<rect x="128.21" y="1115.82" width="32.71" height="35.67" fill="#2E6CB4" shape-rendering="crispEdges"/>
<rect x="160.42" y="1115.82" width="32.71" height="35.67" fill="#D2D6EA" shape-rendering="crispEdges"/>
<rect x="96.00" y="1150.99" width="32.71" height="35.67" fill="#2E6CB4" shape-rendering="crispEdges"/>
<rect x="128.21" y="1150.99" width="32.71" height="35.67" fill="#2E6CB4" shape-rendering="crispEdges"/>
<rect x="96.00" y="1186.16" width="32.71" height="35.67" fill="#F3C7C4" shape-rendering="crispEdges"/>
<text x="112.11" y="925.38" font-size="8.40" text-anchor="middle" fill="#10131c">0.006</text>
<text x="144.31" y="925.38" font-size="8.40" text-anchor="middle" fill="#10131c">0.004</text>
<text x="176.53" y="925.38" font-size="8.40" text-anchor="middle" fill="#10131c">0.003</text>
<text x="208.74" y="925.38" font-size="8.40" text-anchor="middle" fill="#10131c">0.005</text>
<text x="240.94" y="925.38" font-size="8.40" text-anchor="middle" fill="#10131c">0.005</text>
<text x="273.15" y="925.38" font-size="8.40" text-anchor="middle" fill="#10131c">0.003</text>
<text x="305.37" y="925.38" font-size="8.40" text-anchor="middle" fill="#10131c">0.006</text>
<text x="337.58" y="925.38" font-size="8.40" text-anchor="middle" fill="#10131c">0.004</text>
<text x="369.79" y="925.38" font-size="8.40" text-anchor="middle" fill="#10131c">0.239</text>
<text x="112.11" y="960.55" font-size="8.40" text-anchor="middle" fill="#10131c">0.014</text>
<text x="144.31" y="960.55" font-size="8.40" text-anchor="middle" fill="#10131c">0.014</text>
<text x="176.53" y="960.55" font-size="8.40" text-anchor="middle" fill="#10131c">0.014</text>
<text x="208.74" y="960.55" font-size="8.40" text-anchor="middle" fill="#10131c">0.014</text>
<text x="240.94" y="960.55" font-size="8.40" text-anchor="middle" fill="#10131c">0.014</text>
<text x="273.15" y="960.55" font-size="8.40" text-anchor="middle" fill="#10131c">0.014</text>
<text x="305.37" y="960.55" font-size="8.40" text-anchor="middle" fill="#10131c">0.014</text>
<text x="337.58" y="960.55" font-size="8.40" text-anchor="middle" fill="#10131c">0.014</text>
<text x="112.11" y="995.72" font-size="8.40" text-anchor="middle" fill="#10131c">0.006</text>
<text x="144.31" y="995.72" font-size="8.40" text-anchor="middle" fill="#10131c">0.004</text>
<text x="176.53" y="995.72" font-size="8.40" text-anchor="middle" fill="#10131c">0.004</text>
<text x="208.74" y="995.72" font-size="8.40" text-anchor="middle" fill="#10131c">0.005</text>
<text x="240.94" y="995.72" font-size="8.40" text-anchor="middle" fill="#10131c">0.005</text>
<text x="273.15" y="995.72" font-size="8.40" text-anchor="middle" fill="#10131c">0.004</text>
<text x="305.37" y="995.72" font-size="8.40" text-anchor="middle" fill="#10131c">0.308</text>
<text x="112.11" y="1030.89" font-size="8.40" text-anchor="middle" fill="#10131c">0.006</text>
<text x="144.31" y="1030.89" font-size="8.40" text-anchor="middle" fill="#10131c">0.006</text>
<text x="176.53" y="1030.89" font-size="8.40" text-anchor="middle" fill="#10131c">0.006</text>
<text x="208.74" y="1030.89" font-size="8.40" text-anchor="middle" fill="#10131c">0.006</text>
<text x="240.94" y="1030.89" font-size="8.40" text-anchor="middle" fill="#10131c">0.006</text>
<text x="273.15" y="1030.89" font-size="8.40" text-anchor="middle" fill="#10131c">0.006</text>
<text x="112.11" y="1066.07" font-size="8.40" text-anchor="middle" fill="#10131c">0.006</text>
<text x="144.31" y="1066.07" font-size="8.40" text-anchor="middle" fill="#10131c">0.004</text>
<text x="176.53" y="1066.07" font-size="8.40" text-anchor="middle" fill="#10131c">0.003</text>
<text x="208.74" y="1066.07" font-size="8.40" text-anchor="middle" fill="#10131c">0.005</text>
<text x="240.94" y="1066.07" font-size="8.40" text-anchor="middle" fill="#10131c">0.115</text>
<text x="112.11" y="1101.23" font-size="8.40" text-anchor="middle" fill="#10131c">0.006</text>
<text x="144.31" y="1101.23" font-size="8.40" text-anchor="middle" fill="#10131c">0.005</text>
<text x="176.53" y="1101.23" font-size="8.40" text-anchor="middle" fill="#10131c">0.005</text>
<text x="208.74" y="1101.23" font-size="8.40" text-anchor="middle" fill="#10131c">0.005</text>
<text x="112.11" y="1136.40" font-size="8.40" text-anchor="middle" fill="#10131c">0.006</text>
<text x="144.31" y="1136.40" font-size="8.40" text-anchor="middle" fill="#10131c">0.005</text>
<text x="176.53" y="1136.40" font-size="8.40" text-anchor="middle" fill="#10131c">0.112</text>
<text x="112.11" y="1171.58" font-size="8.40" text-anchor="middle" fill="#10131c">0.006</text>
<text x="144.31" y="1171.58" font-size="8.40" text-anchor="middle" fill="#10131c">0.004</text>
<text x="112.11" y="1206.74" font-size="8.40" text-anchor="middle" fill="#10131c">0.193</text>
<line x1="92.40" y1="902.00" x2="92.40" y2="1225.60" stroke="#333" stroke-width="0.8"/>
<line x1="92.00" y1="1225.60" x2="421.50" y2="1225.60" stroke="#333" stroke-width="0.8"/>
<line x1="90.20" y1="922.38" x2="92.40" y2="922.38" stroke="#333" stroke-width="0.6"/>
<text x="89.00" y="925.09" font-size="6.93" text-anchor="end" fill="#222">GBM114_TIL</text>
<line x1="90.20" y1="957.55" x2="92.40" y2="957.55" stroke="#333" stroke-width="0.6"/>
<text x="89.00" y="960.25" font-size="6.93" text-anchor="end" fill="#222">GBM114_PBMC</text>
<line x1="90.20" y1="992.72" x2="92.40" y2="992.72" stroke="#333" stroke-width="0.6"/>
<text x="89.00" y="995.42" font-size="6.93" text-anchor="end" fill="#222">GBM113_TIL</text>
<line x1="90.20" y1="1027.89" x2="92.40" y2="1027.89" stroke="#333" stroke-width="0.6"/>
<text x="89.00" y="1030.60" font-size="6.93" text-anchor="end" fill="#222">GBM113_PBMC</text>
<line x1="90.20" y1="1063.07" x2="92.40" y2="1063.07" stroke="#333" stroke-width="0.6"/>
<text x="89.00" y="1065.77" font-size="6.93" text-anchor="end" fill="#222">G4A112_Re_TIL</text>
<line x1="90.20" y1="1098.23" x2="92.40" y2="1098.23" stroke="#333" stroke-width="0.6"/>
<text x="89.00" y="1100.93" font-size="6.93" text-anchor="end" fill="#222">G4A112_Re_PBMC</text>
<line x1="90.20" y1="1133.40" x2="92.40" y2="1133.40" stroke="#333" stroke-width="0.6"/>
<text x="89.00" y="1136.11" font-size="6.93" text-anchor="end" fill="#222">GBM111_Re_TIL</text>
<line x1="90.20" y1="1168.58" x2="92.40" y2="1168.58" stroke="#333" stroke-width="0.6"/>
<text x="89.00" y="1171.28" font-size="6.93" text-anchor="end" fill="#222">GBM111_Re_PBMC</text>
<line x1="90.20" y1="1203.74" x2="92.40" y2="1203.74" stroke="#333" stroke-width="0.6"/>
<text x="89.00" y="1206.44" font-size="6.93" text-anchor="end" fill="#222">GBM106_TIL</text>
<line x1="112.11" y1="1225.60" x2="112.11" y2="1228.00" stroke="#333" stroke-width="0.6"/>
<text x="116.41" y="1232.80" font-size="6.93" text-anchor="end" fill="#222" transform="rotate(-45 116.41 1232.80)">GBM106_PBMC</text>
<line x1="144.31" y1="1225.60" x2="144.31" y2="1228.00" stroke="#333" stroke-width="0.6"/>
<text x="148.62" y="1232.80" font-size="6.93" text-anchor="end" fill="#222" transform="rotate(-45 148.62 1232.80)">GBM106_TIL</text>
<line x1="176.53" y1="1225.60" x2="176.53" y2="1228.00" stroke="#333" stroke-width="0.6"/>
<text x="180.83" y="1232.80" font-size="6.93" text-anchor="end" fill="#222" transform="rotate(-45 180.83 1232.80)">GBM111_Re_PBMC</text>
<line x1="208.74" y1="1225.60" x2="208.74" y2="1228.00" stroke="#333" stroke-width="0.6"/>
<text x="213.04" y="1232.80" font-size="6.93" text-anchor="end" fill="#222" transform="rotate(-45 213.04 1232.80)">GBM111_Re_TIL</text>
<line x1="240.94" y1="1225.60" x2="240.94" y2="1228.00" stroke="#333" stroke-width="0.6"/>
<text x="245.25" y="1232.80" font-size="6.93" text-anchor="end" fill="#222" transform="rotate(-45 245.25 1232.80)">G4A112_Re_PBMC</text>
<line x1="273.15" y1="1225.60" x2="273.15" y2="1228.00" stroke="#333" stroke-width="0.6"/>
<text x="277.45" y="1232.80" font-size="6.93" text-anchor="end" fill="#222" transform="rotate(-45 277.45 1232.80)">G4A112_Re_TIL</text>
<line x1="305.37" y1="1225.60" x2="305.37" y2="1228.00" stroke="#333" stroke-width="0.6"/>
<text x="309.67" y="1232.80" font-size="6.93" text-anchor="end" fill="#222" transform="rotate(-45 309.67 1232.80)">GBM113_PBMC</text>
<line x1="337.58" y1="1225.60" x2="337.58" y2="1228.00" stroke="#333" stroke-width="0.6"/>
<text x="341.88" y="1232.80" font-size="6.93" text-anchor="end" fill="#222" transform="rotate(-45 341.88 1232.80)">GBM113_TIL</text>
<line x1="369.79" y1="1225.60" x2="369.79" y2="1228.00" stroke="#333" stroke-width="0.6"/>
<text x="374.09" y="1232.80" font-size="6.93" text-anchor="end" fill="#222" transform="rotate(-45 374.09 1232.80)">GBM114_PBMC</text>
<line x1="402.00" y1="1225.60" x2="402.00" y2="1228.00" stroke="#333" stroke-width="0.6"/>
<text x="406.30" y="1232.80" font-size="6.93" text-anchor="end" fill="#222" transform="rotate(-45 406.30 1232.80)">GBM114_TIL</text>
<text x="364.10" y="1093.60" font-size="8.60" fill="#222">overlap</text>
<defs><linearGradient id="ovg" x1="0" y1="1" x2="0" y2="0"><stop offset="0" stop-color="#2E6CB4"/><stop offset="0.25" stop-color="#9DB2D9"/><stop offset="0.5" stop-color="#FBF7F7"/><stop offset="0.75" stop-color="#E59592"/><stop offset="1" stop-color="#C4252E"/></linearGradient></defs>
<rect x="364.10" y="1099.20" width="13.80" height="68.60" fill="url(#ovg)"/>
<text x="382.30" y="1103.90" font-size="7.20" fill="#222">0.3</text>
<text x="382.30" y="1126.40" font-size="7.20" fill="#222">0.2</text>
<text x="382.30" y="1148.50" font-size="7.20" fill="#222">0.1</text>
<text x="382.30" y="1170.10" font-size="7.20" fill="#222">0.0</text>
</g>
<g>
<text x="448.20" y="918.30" font-size="30.50" font-weight="bold">f</text>
<text x="476.90" y="932.00" font-size="7.86">Enrichment state</text>
<rect x="477.40" y="937.50" width="7.90" height="8.60" fill="#A6E1FE" stroke="#666" stroke-width="0.3"/>
<text x="489.90" y="944.10" font-size="6.73">Single (0 &lt; X &lt;= 1)</text>
<rect x="477.40" y="946.10" width="7.90" height="8.60" fill="#3E84CF" stroke="#666" stroke-width="0.3"/>
<text x="489.90" y="952.70" font-size="6.73">Double (1 &lt; X &lt;= 2)</text>
<rect x="477.40" y="954.70" width="7.90" height="8.60" fill="#FFB133" stroke="#666" stroke-width="0.3"/>
<text x="489.90" y="961.30" font-size="6.73">Expanded (2 &lt; X &lt;= 50)</text>
<rect x="477.40" y="963.30" width="7.90" height="8.60" fill="#FC4E20" stroke="#666" stroke-width="0.3"/>
<text x="489.90" y="969.90" font-size="6.73">Hyperexpanded (50 &lt; X)</text>
<text x="669.70" y="927.30" font-size="11.20" font-weight="bold">Integrated tumor data set</text>
<rect x="669.30" y="930.70" width="304.40" height="309.10" fill="none" stroke="#5a5a5a" stroke-width="0.9"/>
<rect x="683.40" y="934.75" width="4.15" height="22.75" fill="#FC4E20" stroke="#4a4a4a" stroke-width="0.5"/>
<rect x="687.55" y="934.75" width="21.00" height="22.75" fill="#FFB133" stroke="#4a4a4a" stroke-width="0.5"/>
<rect x="708.55" y="934.75" width="13.82" height="22.75" fill="#3E84CF" stroke="#4a4a4a" stroke-width="0.5"/>
<rect x="722.37" y="934.75" width="237.38" height="22.75" fill="#A6E1FE" stroke="#4a4a4a" stroke-width="0.5"/>
<line x1="667.20" y1="946.12" x2="669.10" y2="946.12" stroke="#333" stroke-width="0.6"/>
<text x="662.50" y="947.02" font-size="9.33" text-anchor="end"><tspan>C1: CD8</tspan><tspan font-size="5.60" dy="-3.50">+</tspan><tspan dy="3.50"> T</tspan><tspan font-size="5.70" dy="2.60">N</tspan></text>
<rect x="683.40" y="960.08" width="84.84" height="22.75" fill="#FC4E20" stroke="#4a4a4a" stroke-width="0.5"/>
<rect x="768.24" y="960.08" width="103.91" height="22.75" fill="#FFB133" stroke="#4a4a4a" stroke-width="0.5"/>
<rect x="872.15" y="960.08" width="21.83" height="22.75" fill="#3E84CF" stroke="#4a4a4a" stroke-width="0.5"/>
<rect x="893.98" y="960.08" width="65.77" height="22.75" fill="#A6E1FE" stroke="#4a4a4a" stroke-width="0.5"/>
<line x1="667.20" y1="971.46" x2="669.10" y2="971.46" stroke="#333" stroke-width="0.6"/>
<text x="662.50" y="972.36" font-size="9.33" text-anchor="end"><tspan>C2: CD8</tspan><tspan font-size="5.60" dy="-3.50">+</tspan><tspan dy="3.50"> </tspan><tspan font-style="italic">IL7R</tspan><tspan font-size="5.60" dy="-3.50">+</tspan><tspan dy="3.50"> T</tspan><tspan font-size="5.70" dy="2.60">EM</tspan></text>
<rect x="683.40" y="985.41" width="77.38" height="22.75" fill="#FC4E20" stroke="#4a4a4a" stroke-width="0.5"/>
<rect x="760.78" y="985.41" width="109.99" height="22.75" fill="#FFB133" stroke="#4a4a4a" stroke-width="0.5"/>
<rect x="870.77" y="985.41" width="19.62" height="22.75" fill="#3E84CF" stroke="#4a4a4a" stroke-width="0.5"/>
<rect x="890.39" y="985.41" width="69.36" height="22.75" fill="#A6E1FE" stroke="#4a4a4a" stroke-width="0.5"/>
<line x1="667.20" y1="996.78" x2="669.10" y2="996.78" stroke="#333" stroke-width="0.6"/>
<text x="662.50" y="997.68" font-size="9.33" text-anchor="end"><tspan>C3: CD8</tspan><tspan font-size="5.60" dy="-3.50">+</tspan><tspan dy="3.50"> </tspan><tspan font-style="italic">NR4A2</tspan><tspan font-size="5.60" dy="-3.50">lo</tspan><tspan dy="3.50"> GZMK</tspan><tspan font-size="5.60" dy="-3.50">lo</tspan><tspan dy="3.50"> T</tspan><tspan font-size="5.70" dy="2.60">Eff</tspan></text>
<rect x="683.40" y="1010.74" width="56.65" height="22.75" fill="#FC4E20" stroke="#4a4a4a" stroke-width="0.5"/>
<rect x="740.05" y="1010.74" width="114.96" height="22.75" fill="#FFB133" stroke="#4a4a4a" stroke-width="0.5"/>
<rect x="855.01" y="1010.74" width="27.08" height="22.75" fill="#3E84CF" stroke="#4a4a4a" stroke-width="0.5"/>
<rect x="882.10" y="1010.74" width="77.65" height="22.75" fill="#A6E1FE" stroke="#4a4a4a" stroke-width="0.5"/>
<line x1="667.20" y1="1022.12" x2="669.10" y2="1022.12" stroke="#333" stroke-width="0.6"/>
<text x="662.50" y="1023.01" font-size="9.33" text-anchor="end"><tspan>C4: CD8</tspan><tspan font-size="5.60" dy="-3.50">+</tspan><tspan dy="3.50"> </tspan><tspan font-style="italic">NR4A2</tspan><tspan font-size="5.60" dy="-3.50">hi</tspan><tspan dy="3.50"> GZMK</tspan><tspan font-size="5.60" dy="-3.50">hi</tspan><tspan dy="3.50"> T</tspan><tspan font-size="5.70" dy="2.60">Eff</tspan></text>
<rect x="683.40" y="1036.07" width="97.55" height="22.75" fill="#FC4E20" stroke="#4a4a4a" stroke-width="0.5"/>
<rect x="780.95" y="1036.07" width="96.72" height="22.75" fill="#FFB133" stroke="#4a4a4a" stroke-width="0.5"/>
<rect x="877.67" y="1036.07" width="15.20" height="22.75" fill="#3E84CF" stroke="#4a4a4a" stroke-width="0.5"/>
<rect x="892.87" y="1036.07" width="66.88" height="22.75" fill="#A6E1FE" stroke="#4a4a4a" stroke-width="0.5"/>
<line x1="667.20" y1="1047.44" x2="669.10" y2="1047.44" stroke="#333" stroke-width="0.6"/>
<text x="662.50" y="1048.35" font-size="9.33" text-anchor="end"><tspan>C5: CD8</tspan><tspan font-size="5.60" dy="-3.50">+</tspan><tspan dy="3.50"> Cytotoxic T</tspan><tspan font-size="5.70" dy="2.60">RM</tspan></text>
<rect x="683.40" y="1061.40" width="56.38" height="22.75" fill="#FC4E20" stroke="#4a4a4a" stroke-width="0.5"/>
<rect x="739.78" y="1061.40" width="134.03" height="22.75" fill="#FFB133" stroke="#4a4a4a" stroke-width="0.5"/>
<rect x="873.81" y="1061.40" width="21.28" height="22.75" fill="#3E84CF" stroke="#4a4a4a" stroke-width="0.5"/>
<rect x="895.08" y="1061.40" width="64.67" height="22.75" fill="#A6E1FE" stroke="#4a4a4a" stroke-width="0.5"/>
<line x1="667.20" y1="1072.78" x2="669.10" y2="1072.78" stroke="#333" stroke-width="0.6"/>
<text x="662.50" y="1075.38" font-size="9.33" text-anchor="end"><tspan>C6: CD8</tspan><tspan font-size="5.60" dy="-3.50">+</tspan><tspan dy="3.50"> NK-like</tspan></text>
<rect x="683.40" y="1086.73" width="130.44" height="22.75" fill="#FC4E20" stroke="#4a4a4a" stroke-width="0.5"/>
<rect x="813.84" y="1086.73" width="99.49" height="22.75" fill="#FFB133" stroke="#4a4a4a" stroke-width="0.5"/>
<rect x="913.32" y="1086.73" width="12.99" height="22.75" fill="#3E84CF" stroke="#4a4a4a" stroke-width="0.5"/>
<rect x="926.31" y="1086.73" width="33.44" height="22.75" fill="#A6E1FE" stroke="#4a4a4a" stroke-width="0.5"/>
<line x1="667.20" y1="1098.11" x2="669.10" y2="1098.11" stroke="#333" stroke-width="0.6"/>
<text x="662.50" y="1099.01" font-size="9.33" text-anchor="end"><tspan>C7: CD8</tspan><tspan font-size="5.60" dy="-3.50">+</tspan><tspan dy="3.50"> T</tspan><tspan font-size="5.70" dy="2.60">EMRA</tspan></text>
<rect x="683.40" y="1112.06" width="85.94" height="22.75" fill="#FC4E20" stroke="#4a4a4a" stroke-width="0.5"/>
<rect x="769.34" y="1112.06" width="110.26" height="22.75" fill="#FFB133" stroke="#4a4a4a" stroke-width="0.5"/>
<rect x="879.61" y="1112.06" width="17.41" height="22.75" fill="#3E84CF" stroke="#4a4a4a" stroke-width="0.5"/>
<rect x="897.02" y="1112.06" width="62.73" height="22.75" fill="#A6E1FE" stroke="#4a4a4a" stroke-width="0.5"/>
<line x1="667.20" y1="1123.43" x2="669.10" y2="1123.43" stroke="#333" stroke-width="0.6"/>
<text x="662.50" y="1124.34" font-size="9.33" text-anchor="end"><tspan>C8: CD8</tspan><tspan font-size="5.60" dy="-3.50">+</tspan><tspan dy="3.50"> T</tspan><tspan font-size="5.70" dy="2.60">Exhausted</tspan></text>
<rect x="683.40" y="1137.39" width="84.56" height="22.75" fill="#FC4E20" stroke="#4a4a4a" stroke-width="0.5"/>
<rect x="767.96" y="1137.39" width="105.01" height="22.75" fill="#FFB133" stroke="#4a4a4a" stroke-width="0.5"/>
<rect x="872.98" y="1137.39" width="20.73" height="22.75" fill="#3E84CF" stroke="#4a4a4a" stroke-width="0.5"/>
<rect x="893.70" y="1137.39" width="66.05" height="22.75" fill="#A6E1FE" stroke="#4a4a4a" stroke-width="0.5"/>
<line x1="667.20" y1="1148.76" x2="669.10" y2="1148.76" stroke="#333" stroke-width="0.6"/>
<text x="662.50" y="1151.36" font-size="9.33" text-anchor="end"><tspan>C9: IFNγ stimualted T cells</tspan></text>
<rect x="683.40" y="1162.72" width="53.34" height="22.75" fill="#FC4E20" stroke="#4a4a4a" stroke-width="0.5"/>
<rect x="736.74" y="1162.72" width="60.80" height="22.75" fill="#FFB133" stroke="#4a4a4a" stroke-width="0.5"/>
<rect x="797.53" y="1162.72" width="26.81" height="22.75" fill="#3E84CF" stroke="#4a4a4a" stroke-width="0.5"/>
<rect x="824.34" y="1162.72" width="135.41" height="22.75" fill="#A6E1FE" stroke="#4a4a4a" stroke-width="0.5"/>
<line x1="667.20" y1="1174.10" x2="669.10" y2="1174.10" stroke="#333" stroke-width="0.6"/>
<text x="662.50" y="1176.69" font-size="9.33" text-anchor="end"><tspan>C10: MAIT-like</tspan></text>
<rect x="683.40" y="1188.05" width="70.75" height="22.75" fill="#FC4E20" stroke="#4a4a4a" stroke-width="0.5"/>
<rect x="754.15" y="1188.05" width="109.16" height="22.75" fill="#FFB133" stroke="#4a4a4a" stroke-width="0.5"/>
<rect x="863.30" y="1188.05" width="23.21" height="22.75" fill="#3E84CF" stroke="#4a4a4a" stroke-width="0.5"/>
<rect x="886.52" y="1188.05" width="73.23" height="22.75" fill="#A6E1FE" stroke="#4a4a4a" stroke-width="0.5"/>
<line x1="667.20" y1="1199.42" x2="669.10" y2="1199.42" stroke="#333" stroke-width="0.6"/>
<text x="662.50" y="1202.02" font-size="9.33" text-anchor="end"><tspan>C11: Stress signature</tspan></text>
<rect x="683.40" y="1213.38" width="72.13" height="22.75" fill="#FC4E20" stroke="#4a4a4a" stroke-width="0.5"/>
<rect x="755.53" y="1213.38" width="116.62" height="22.75" fill="#FFB133" stroke="#4a4a4a" stroke-width="0.5"/>
<rect x="872.15" y="1213.38" width="19.90" height="22.75" fill="#3E84CF" stroke="#4a4a4a" stroke-width="0.5"/>
<rect x="892.04" y="1213.38" width="67.71" height="22.75" fill="#A6E1FE" stroke="#4a4a4a" stroke-width="0.5"/>
<line x1="667.20" y1="1224.76" x2="669.10" y2="1224.76" stroke="#333" stroke-width="0.6"/>
<text x="662.50" y="1227.36" font-size="9.33" text-anchor="end"><tspan>C12: Proliferating</tspan></text>
<line x1="683.40" y1="1239.80" x2="683.40" y2="1241.70" stroke="#333" stroke-width="0.6"/>
<text x="683.40" y="1252.70" font-size="8.84" text-anchor="middle">0.00</text>
<line x1="752.49" y1="1239.80" x2="752.49" y2="1241.70" stroke="#333" stroke-width="0.6"/>
<text x="752.49" y="1252.70" font-size="8.84" text-anchor="middle">0.25</text>
<line x1="821.58" y1="1239.80" x2="821.58" y2="1241.70" stroke="#333" stroke-width="0.6"/>
<text x="821.58" y="1252.70" font-size="8.84" text-anchor="middle">0.50</text>
<line x1="890.66" y1="1239.80" x2="890.66" y2="1241.70" stroke="#333" stroke-width="0.6"/>
<text x="890.66" y="1252.70" font-size="8.84" text-anchor="middle">0.75</text>
<line x1="959.75" y1="1239.80" x2="959.75" y2="1241.70" stroke="#333" stroke-width="0.6"/>
<text x="959.75" y="1252.70" font-size="8.84" text-anchor="middle">1.00</text>
<text x="821.50" y="1263.80" font-size="8.80" text-anchor="middle">Frequency of expansion states per cell state</text>
</g>
</svg>
</body></html>
